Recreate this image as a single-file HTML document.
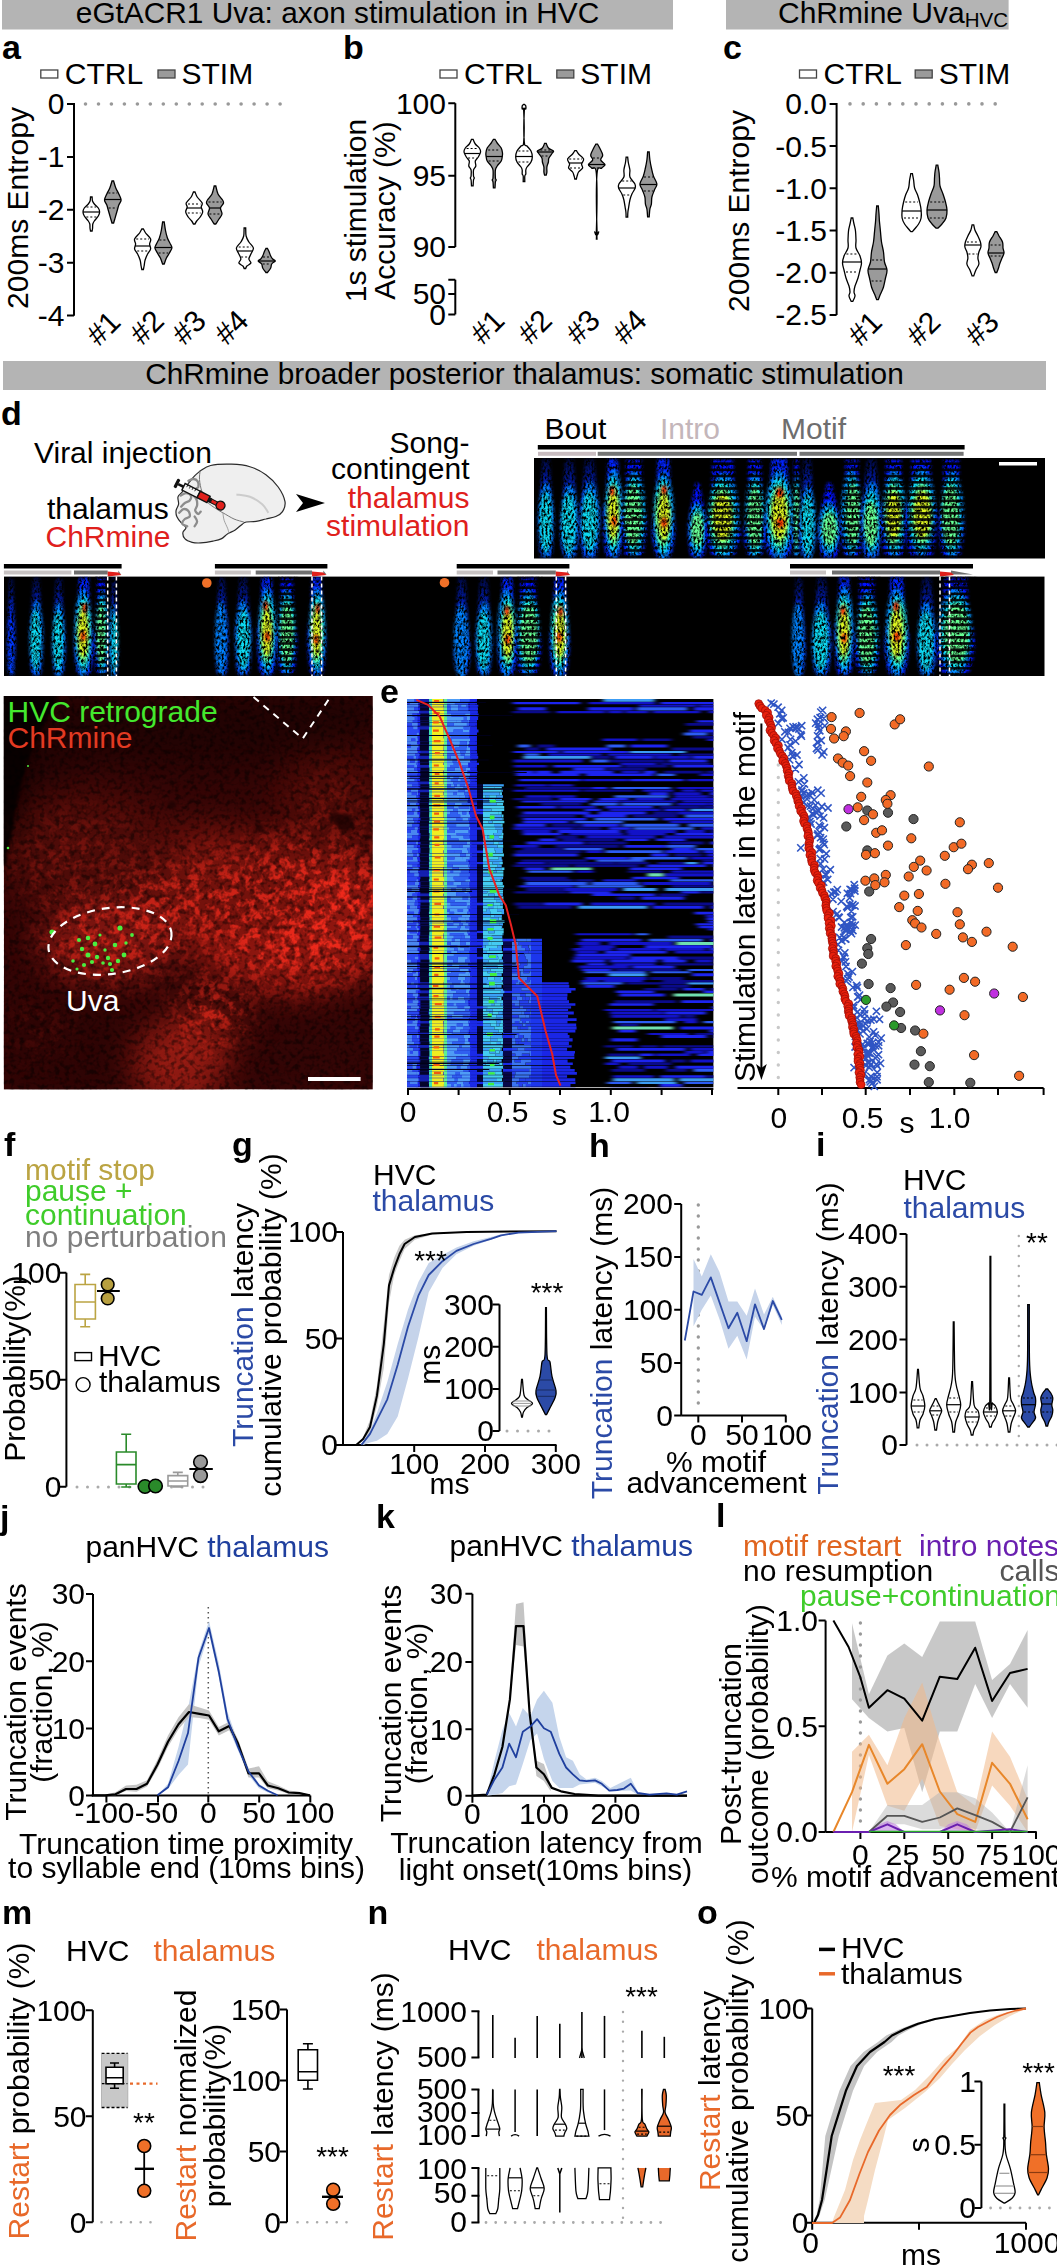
<!DOCTYPE html>
<html><head><meta charset="utf-8"><style>
html,body{margin:0;padding:0;background:#fff;}
svg{display:block;}
svg{font-family:"Liberation Sans", sans-serif;font-size:30px;}
</style></head><body>
<svg width="1057" height="2267" viewBox="0 0 1057 2267">
<defs>
<filter id="spk" x="0" y="0" width="1" height="1" filterUnits="objectBoundingBox" color-interpolation-filters="sRGB">
 <feTurbulence type="fractalNoise" baseFrequency="0.5 0.3" numOctaves="2" seed="4" result="n"/>
 <feColorMatrix in="n" type="matrix" values="0 0 0 0 0 0 0 0 0 0 0 0 0 0 0 3.4 0 0 0 -1.05" result="a"/>
 <feComposite in="SourceGraphic" in2="a" operator="in"/>
</filter>
<filter id="bl1" x="-50%" y="-10%" width="200%" height="120%" color-interpolation-filters="sRGB"><feGaussianBlur stdDeviation="1.6"/></filter>
<pattern id="harm" width="6" height="6.2" patternUnits="userSpaceOnUse"><rect y="3.6" width="6" height="2.6" fill="#000" fill-opacity="0.9"/></pattern>
<linearGradient id="halo" x1="0" y1="0" x2="0" y2="1"><stop offset="0" stop-color="#0022ff" stop-opacity="0.25"/><stop offset="0.45" stop-color="#0030ff" stop-opacity="1"/><stop offset="1" stop-color="#0040ff"/></linearGradient>
<linearGradient id="colg" x1="0" y1="0" x2="0" y2="1">
 <stop offset="0" stop-color="#0a1ad0"/><stop offset="0.3" stop-color="#1450ff"/><stop offset="0.7" stop-color="#20b0ff"/><stop offset="1" stop-color="#30d8f0"/>
</linearGradient>
<clipPath id="sp1"><rect x="534" y="458" width="511" height="100.5"/></clipPath><clipPath id="sp2"><rect x="4" y="576.6" width="1040.5" height="99.4"/></clipPath><clipPath id="mclip"><rect x="3.8" y="696" width="369.0" height="393.5"/></clipPath>
<filter id="mblur" x="-30%" y="-30%" width="160%" height="160%" color-interpolation-filters="sRGB"><feGaussianBlur stdDeviation="16"/></filter>
<filter id="mblur2" x="-30%" y="-30%" width="160%" height="160%" color-interpolation-filters="sRGB"><feGaussianBlur stdDeviation="18"/></filter>
<filter id="cells" x="0" y="0" width="1" height="1" color-interpolation-filters="sRGB">
 <feTurbulence type="fractalNoise" baseFrequency="0.1" numOctaves="3" seed="9" result="n"/>
 <feColorMatrix in="n" type="matrix" values="0 0 0 0 0 0 0 0 0 0 0 0 0 0 0 5.5 0 0 0 -2.45" result="a"/>
 <feComposite in="SourceGraphic" in2="a" operator="in"/>
</filter>
<filter id="dark" x="0" y="0" width="1" height="1" color-interpolation-filters="sRGB">
 <feTurbulence type="fractalNoise" baseFrequency="0.2" numOctaves="2" seed="5" result="n"/>
 <feColorMatrix in="n" type="matrix" values="0 0 0 0 0 0 0 0 0 0 0 0 0 0 0 3.5 0 0 0 -1.6" result="a"/>
 <feComposite in="SourceGraphic" in2="a" operator="in"/>
</filter>
<mask id="cellmask" maskUnits="userSpaceOnUse" x="0" y="680" width="400" height="420">
 <g filter="url(#mblur2)">
  <ellipse cx="300" cy="912" rx="100" ry="68" fill="#fff"/>
  <ellipse cx="220" cy="900" rx="95" ry="40" fill="#bbb"/>
  <ellipse cx="80" cy="865" rx="65" ry="50" fill="#3c3c3c"/>
  <ellipse cx="110" cy="940" rx="66" ry="36" fill="#aaa"/>
  <ellipse cx="212" cy="1012" rx="30" ry="30" fill="#ddd"/>
  <ellipse cx="335" cy="820" rx="40" ry="45" fill="#3a3a3a"/>
  <ellipse cx="180" cy="1065" rx="30" ry="25" fill="#222"/>
  <ellipse cx="40" cy="1030" rx="30" ry="20" fill="#333"/>
 </g>
</mask>
<filter id="hblur" x="-5%" y="-5%" width="110%" height="110%" color-interpolation-filters="sRGB"><feGaussianBlur stdDeviation="2.5 0.3"/></filter><clipPath id="rclip"><rect x="407" y="699" width="306.4" height="388.29999999999995"/></clipPath></defs>
<rect width="1057" height="2267" fill="#fff"/>
<rect x="2" y="0" width="671" height="29.5" fill="#b4b4b4"/>
<text x="337.5" y="23" text-anchor="middle" font-size="29.8">eGtACR1 Uva: axon stimulation in HVC</text>
<rect x="726" y="0" width="282.6" height="29.5" fill="#b4b4b4"/>
<text x="778" y="23">ChRmine Uva<tspan font-size="20.5" dy="4">HVC</tspan></text>
<text x="2" y="58.5" font-weight="bold" font-size="34">a</text>
<text x="343" y="59" font-weight="bold" font-size="34">b</text>
<text x="723" y="58.5" font-weight="bold" font-size="34">c</text>
<rect x="40.8" y="70" width="17" height="8" fill="#fff" stroke="#444" stroke-width="1.3"/>
<text x="64.8" y="83.8">CTRL</text>
<rect x="158" y="70" width="17" height="8" fill="#9a9a9a" stroke="#444" stroke-width="1.3"/>
<text x="181.5" y="83.8">STIM</text>
<rect x="440" y="70" width="17" height="8" fill="#fff" stroke="#444" stroke-width="1.3"/>
<text x="464" y="83.8">CTRL</text>
<rect x="556.8" y="70" width="17" height="8" fill="#9a9a9a" stroke="#444" stroke-width="1.3"/>
<text x="580.3" y="83.8">STIM</text>
<rect x="799.5" y="70" width="17" height="8" fill="#fff" stroke="#444" stroke-width="1.3"/>
<text x="823.5" y="83.8">CTRL</text>
<rect x="915.2" y="70" width="17" height="8" fill="#9a9a9a" stroke="#444" stroke-width="1.3"/>
<text x="938.7" y="83.8">STIM</text>
<line x1="74" y1="103" x2="74" y2="315.7" stroke="#000" stroke-width="2"/>
<path d="M67 104H74M67 156.9H74M67 209.8H74M67 262.7H74M67 315.6H74" stroke="#000" stroke-width="2"/>
<text x="64.5" y="114.4" text-anchor="end">0</text>
<text x="64.5" y="167.3" text-anchor="end">-1</text>
<text x="64.5" y="220.2" text-anchor="end">-2</text>
<text x="64.5" y="273.1" text-anchor="end">-3</text>
<text x="64.5" y="326" text-anchor="end">-4</text>
<path d="M85.5 104h0M98.5 104h0M111.4 104h0M124.4 104h0M137.4 104h0M150.3 104h0M163.3 104h0M176.3 104h0M189.3 104h0M202.2 104h0M215.2 104h0M228.2 104h0M241.1 104h0M254.1 104h0M267.1 104h0M280.1 104h0" stroke="#999" stroke-width="3.6" stroke-linecap="round"/>
<text transform="translate(27.7,208) rotate(-90)" text-anchor="middle">200ms Entropy</text>
<text transform="translate(103.5,328.5) rotate(-45)" text-anchor="middle" y="10">#1</text>
<text transform="translate(147,327.5) rotate(-45)" text-anchor="middle" y="10">#2</text>
<text transform="translate(189,327.5) rotate(-45)" text-anchor="middle" y="10">#3</text>
<text transform="translate(231.5,327.5) rotate(-45)" text-anchor="middle" y="10">#4</text>
<path d="M92.1 197C92.2 197.7 92.1 199.8 92.5 201C92.9 202.2 93.3 202.8 94.3 204C95.3 205.2 97.4 206.7 98.3 208C99.2 209.3 99.6 210.7 99.6 212C99.6 213.3 99.2 214.5 98.3 216C97.4 217.5 95.2 219.7 94.3 221C93.4 222.3 93.1 222.8 92.8 224C92.5 225.2 92.7 226.8 92.6 228C92.5 229.2 92.2 230.5 92.1 231L90.5 231C90.4 230.5 90.1 229.2 90 228C89.9 226.8 90.1 225.2 89.8 224C89.5 222.8 89.2 222.3 88.3 221C87.4 219.7 85.2 217.5 84.3 216C83.4 214.5 83 213.3 83 212C83 210.7 83.4 209.3 84.3 208C85.2 206.7 87.3 205.2 88.3 204C89.3 202.8 89.7 202.2 90.1 201C90.5 199.8 90.4 197.7 90.5 197Z" fill="#fff" stroke="#000" stroke-width="1.3"/>
<line x1="83" y1="212" x2="99.6" y2="212" stroke="#000" stroke-width="1.2"/>
<line x1="86.5" y1="207" x2="96.1" y2="207" stroke="#000" stroke-width="1.1" stroke-dasharray="2 2"/>
<line x1="86.3" y1="217" x2="96.3" y2="217" stroke="#000" stroke-width="1.1" stroke-dasharray="2 2"/>
<path d="M113.6 181C114 182.2 114.9 185.8 115.8 188C116.7 190.2 117.9 192 118.8 194C119.7 196 121.1 198.2 121.1 200C121.1 201.8 119.5 203 118.8 205C118.1 207 117.5 209.7 116.8 212C116.1 214.3 115.3 217.2 114.8 219C114.3 220.8 113.8 222.3 113.6 223L112 223C111.8 222.3 111.3 220.8 110.8 219C110.3 217.2 109.5 214.3 108.8 212C108.1 209.7 107.5 207 106.8 205C106.1 203 104.5 201.8 104.5 200C104.5 198.2 105.9 196 106.8 194C107.7 192 108.9 190.2 109.8 188C110.7 185.8 111.6 182.2 112 181Z" fill="#9a9a9a" stroke="#000" stroke-width="1.3"/>
<line x1="104.7" y1="199.5" x2="120.9" y2="199.5" stroke="#000" stroke-width="1.2"/>
<line x1="108.4" y1="193" x2="117.2" y2="193" stroke="#000" stroke-width="1.1" stroke-dasharray="2 2"/>
<line x1="108.7" y1="208" x2="116.9" y2="208" stroke="#000" stroke-width="1.1" stroke-dasharray="2 2"/>
<path d="M143.4 229C143.8 229.7 144.4 231.3 145.6 233C146.8 234.7 149.9 237.2 150.6 239C151.3 240.8 149.6 242.3 149.6 244C149.6 245.7 150.9 247.3 150.6 249C150.3 250.7 148.5 252.2 147.6 254C146.7 255.8 145.7 258 145.1 260C144.5 262 144.4 264.4 144.1 266C143.8 267.6 143.5 268.9 143.4 269.5L141.8 269.5C141.7 268.9 141.4 267.6 141.1 266C140.8 264.4 140.7 262 140.1 260C139.5 258 138.5 255.8 137.6 254C136.7 252.2 134.9 250.7 134.6 249C134.3 247.3 135.6 245.7 135.6 244C135.6 242.3 133.9 240.8 134.6 239C135.3 237.2 138.4 234.7 139.6 233C140.8 231.3 141.4 229.7 141.8 229Z" fill="#fff" stroke="#000" stroke-width="1.3"/>
<line x1="135.2" y1="246" x2="150" y2="246" stroke="#000" stroke-width="1.2"/>
<line x1="136.2" y1="239" x2="149" y2="239" stroke="#000" stroke-width="1.1" stroke-dasharray="2 2"/>
<line x1="137.2" y1="251" x2="148" y2="251" stroke="#000" stroke-width="1.1" stroke-dasharray="2 2"/>
<path d="M164.2 222C164.4 223.3 164.9 227.3 165.4 230C165.9 232.7 166.6 235.7 167.4 238C168.2 240.3 169.7 242.3 170.4 244C171.2 245.7 172.1 246.5 171.9 248C171.7 249.5 170.3 251.3 169.4 253C168.5 254.7 167.3 256.2 166.4 258C165.5 259.8 164.6 263 164.2 264L162.6 264C162.2 263 161.3 259.8 160.4 258C159.5 256.2 158.3 254.7 157.4 253C156.5 251.3 155.1 249.5 154.9 248C154.7 246.5 155.7 245.7 156.4 244C157.2 242.3 158.6 240.3 159.4 238C160.2 235.7 160.9 232.7 161.4 230C161.9 227.3 162.4 223.3 162.6 222Z" fill="#9a9a9a" stroke="#000" stroke-width="1.3"/>
<line x1="155.1" y1="247.5" x2="171.7" y2="247.5" stroke="#000" stroke-width="1.2"/>
<line x1="159.4" y1="240" x2="167.4" y2="240" stroke="#000" stroke-width="1.1" stroke-dasharray="2 2"/>
<line x1="158.6" y1="253" x2="168.2" y2="253" stroke="#000" stroke-width="1.1" stroke-dasharray="2 2"/>
<path d="M195 192C195.4 192.8 196 195.2 197.2 197C198.4 198.8 201.5 201.3 202.2 203C202.9 204.7 201.1 205.5 201.2 207C201.3 208.5 202.9 210.3 202.7 212C202.5 213.7 201.2 215.5 200.2 217C199.2 218.5 197.6 219.8 196.7 221C195.8 222.2 195.3 223.5 195 224L193.4 224C193.1 223.5 192.6 222.2 191.7 221C190.8 219.8 189.2 218.5 188.2 217C187.2 215.5 185.9 213.7 185.7 212C185.5 210.3 187.1 208.5 187.2 207C187.3 205.5 185.5 204.7 186.2 203C186.9 201.3 190 198.8 191.2 197C192.4 195.2 193 192.8 193.4 192Z" fill="#fff" stroke="#000" stroke-width="1.3"/>
<line x1="186.9" y1="208" x2="201.5" y2="208" stroke="#000" stroke-width="1.2"/>
<line x1="188" y1="204" x2="200.4" y2="204" stroke="#000" stroke-width="1.1" stroke-dasharray="2 2"/>
<line x1="187.8" y1="213" x2="200.6" y2="213" stroke="#000" stroke-width="1.1" stroke-dasharray="2 2"/>
<path d="M215.8 186C216.2 187.3 216.9 191.7 218 194C219.1 196.3 221.6 198.5 222.5 200C223.4 201.5 223.8 201.7 223.5 203C223.2 204.3 220.8 206.2 220.5 208C220.2 209.8 222.2 212.2 222 214C221.8 215.8 220 217.3 219 219C218 220.7 216.3 223.2 215.8 224L214.2 224C213.7 223.2 212 220.7 211 219C210 217.3 208.2 215.8 208 214C207.8 212.2 209.8 209.8 209.5 208C209.2 206.2 206.8 204.3 206.5 203C206.2 201.7 206.6 201.5 207.5 200C208.4 198.5 210.9 196.3 212 194C213.1 191.7 213.8 187.3 214.2 186Z" fill="#9a9a9a" stroke="#000" stroke-width="1.3"/>
<line x1="209.5" y1="208" x2="220.5" y2="208" stroke="#000" stroke-width="1.2"/>
<line x1="208.5" y1="202" x2="221.5" y2="202" stroke="#000" stroke-width="1.1" stroke-dasharray="2 2"/>
<line x1="209.4" y1="214" x2="220.6" y2="214" stroke="#000" stroke-width="1.1" stroke-dasharray="2 2"/>
<path d="M245.7 228C245.8 229.3 245.6 233.7 246.1 236C246.6 238.3 247.7 240 248.9 242C250.1 244 253.1 246 253.4 248C253.7 250 251.7 252.2 250.9 254C250.2 255.8 248.9 257.5 248.9 259C248.9 260.5 251.2 261.8 250.9 263C250.6 264.2 247.8 265.1 246.9 266C246 266.9 245.9 268.1 245.7 268.5L244.1 268.5C243.9 268.1 243.8 266.9 242.9 266C242 265.1 239.2 264.2 238.9 263C238.6 261.8 240.9 260.5 240.9 259C240.9 257.5 239.7 255.8 238.9 254C238.2 252.2 236.1 250 236.4 248C236.7 246 239.7 244 240.9 242C242.1 240 243.2 238.3 243.7 236C244.2 233.7 244 229.3 244.1 228Z" fill="#fff" stroke="#000" stroke-width="1.3"/>
<line x1="237.7" y1="251" x2="252.2" y2="251" stroke="#000" stroke-width="1.2"/>
<line x1="238.7" y1="247" x2="251.1" y2="247" stroke="#000" stroke-width="1.1" stroke-dasharray="2 2"/>
<line x1="241.1" y1="257" x2="248.7" y2="257" stroke="#000" stroke-width="1.1" stroke-dasharray="2 2"/>
<path d="M267.5 248.5C267.8 249.1 268.7 250.8 269.2 252C269.7 253.2 270.1 254.8 270.7 256C271.3 257.2 271.9 258.2 272.7 259C273.4 259.8 275.4 260.2 275.2 261C275 261.8 272.4 262.8 271.7 264C270.9 265.2 271.4 266.6 270.7 268C270 269.4 268 271.8 267.5 272.5L265.9 272.5C265.4 271.8 263.4 269.4 262.7 268C262 266.6 262.4 265.2 261.7 264C260.9 262.8 258.4 261.8 258.2 261C258 260.2 259.9 259.8 260.7 259C261.4 258.2 262.1 257.2 262.7 256C263.3 254.8 263.7 253.2 264.2 252C264.7 250.8 265.6 249.1 265.9 248.5Z" fill="#9a9a9a" stroke="#000" stroke-width="1.3"/>
<line x1="258.2" y1="261" x2="275.2" y2="261" stroke="#000" stroke-width="1.2"/>
<line x1="263" y1="257" x2="270.4" y2="257" stroke="#000" stroke-width="1.1" stroke-dasharray="2 2"/>
<line x1="262.7" y1="264" x2="270.7" y2="264" stroke="#000" stroke-width="1.1" stroke-dasharray="2 2"/>
<line x1="455.3" y1="103.2" x2="455.3" y2="247" stroke="#000" stroke-width="2"/>
<path d="M448.3 103.2H455.3M448.3 175.8H455.3M448.3 247H455.3" stroke="#000" stroke-width="2"/>
<text x="446" y="113.6" text-anchor="end">100</text>
<text x="446" y="186.2" text-anchor="end">95</text>
<text x="446" y="257.4" text-anchor="end">90</text>
<line x1="455.3" y1="279.7" x2="455.3" y2="314.4" stroke="#000" stroke-width="2"/>
<path d="M448.3 279.7H455.3M448.3 294H455.3M448.3 314.4H455.3" stroke="#000" stroke-width="2"/>
<text x="446" y="304.4" text-anchor="end">50</text>
<text x="446" y="324.8" text-anchor="end">0</text>
<text transform="translate(365.5,210.5) rotate(-90)" text-anchor="middle">1s stimulation</text>
<text transform="translate(394.5,210.5) rotate(-90)" text-anchor="middle">Accuracy (%)</text>
<text transform="translate(487.5,327) rotate(-45)" text-anchor="middle" y="10">#1</text>
<text transform="translate(535,327) rotate(-45)" text-anchor="middle" y="10">#2</text>
<text transform="translate(583,327) rotate(-45)" text-anchor="middle" y="10">#3</text>
<text transform="translate(629.7,327) rotate(-45)" text-anchor="middle" y="10">#4</text>
<path d="M473.1 139.3C473.5 140.1 474.3 142.6 475.3 144C476.3 145.4 478.4 146.7 479.3 148C480.2 149.3 480.8 150.5 480.6 152C480.4 153.5 479.2 155.5 478.3 157C477.4 158.5 475.7 159.5 475.3 161C474.9 162.5 476.1 164.5 475.8 166C475.5 167.5 473.9 168.3 473.5 170C473.1 171.7 473.4 174.7 473.5 176C473.6 177.3 474.3 177.3 474.3 178C474.3 178.7 473.7 178.7 473.5 180C473.3 181.3 473.2 184.8 473.1 185.8L471.5 185.8C471.4 184.8 471.3 181.3 471.1 180C470.9 178.7 470.3 178.7 470.3 178C470.3 177.3 471 177.3 471.1 176C471.2 174.7 471.5 171.7 471.1 170C470.7 168.3 469.1 167.5 468.8 166C468.5 164.5 469.7 162.5 469.3 161C468.9 159.5 467.2 158.5 466.3 157C465.4 155.5 464.2 153.5 464 152C463.8 150.5 464.4 149.3 465.3 148C466.2 146.7 468.3 145.4 469.3 144C470.3 142.6 471.1 140.1 471.5 139.3Z" fill="#fff" stroke="#000" stroke-width="1.3"/>
<line x1="464.7" y1="153.5" x2="479.9" y2="153.5" stroke="#000" stroke-width="1.2"/>
<line x1="466.6" y1="148.5" x2="478" y2="148.5" stroke="#000" stroke-width="1.1" stroke-dasharray="2 2"/>
<line x1="468.1" y1="158" x2="476.5" y2="158" stroke="#000" stroke-width="1.1" stroke-dasharray="2 2"/>
<path d="M495 139.3C495.4 139.9 496.2 141.6 497.2 143C498.2 144.4 500.3 146.3 501.2 148C502.1 149.7 502.3 151.5 502.5 153C502.7 154.5 502.4 155.7 502.2 157C502 158.3 502 159.5 501.2 161C500.4 162.5 498.2 164.5 497.2 166C496.2 167.5 495.7 168 495.4 170C495.1 172 495.3 176.3 495.4 178C495.5 179.7 496.2 179.3 496.2 180C496.2 180.7 495.6 180.7 495.4 182C495.2 183.3 495.1 186.8 495 187.8L493.4 187.8C493.3 186.8 493.2 183.3 493 182C492.8 180.7 492.2 180.7 492.2 180C492.2 179.3 492.9 179.7 493 178C493.1 176.3 493.3 172 493 170C492.7 168 492.2 167.5 491.2 166C490.2 164.5 488 162.5 487.2 161C486.4 159.5 486.4 158.3 486.2 157C486 155.7 485.7 154.5 485.9 153C486.1 151.5 486.3 149.7 487.2 148C488.1 146.3 490.2 144.4 491.2 143C492.2 141.6 493 139.9 493.4 139.3Z" fill="#9a9a9a" stroke="#000" stroke-width="1.3"/>
<line x1="486.2" y1="156.5" x2="502.2" y2="156.5" stroke="#000" stroke-width="1.2"/>
<line x1="488.2" y1="150" x2="500.2" y2="150" stroke="#000" stroke-width="1.1" stroke-dasharray="2 2"/>
<line x1="488.6" y1="161" x2="499.8" y2="161" stroke="#000" stroke-width="1.1" stroke-dasharray="2 2"/>
<path d="M524.4 104.4C524.6 104.7 525.6 105.2 525.8 106C526 106.8 526 108.2 525.8 109C525.5 109.8 524.5 105.5 524.3 111C524 116.5 523.8 136.2 524.3 142C524.8 147.8 525.9 144.5 527 146C528.1 147.5 530.1 149.2 531 151C531.9 152.8 532.3 155.2 532.3 157C532.3 158.8 531.9 160.3 531 162C530.1 163.7 527.9 165.7 527 167C526.1 168.3 526 168.8 525.8 170C525.6 171.2 526 173 525.8 174C525.6 175 525 174.8 524.8 176C524.6 177.2 524.8 180.6 524.8 181.5L523.2 181.5C523.2 180.6 523.4 177.2 523.2 176C523 174.8 522.4 175 522.2 174C522 173 522.4 171.2 522.2 170C522 168.8 521.9 168.3 521 167C520.1 165.7 517.9 163.7 517 162C516.1 160.3 515.7 158.8 515.7 157C515.7 155.2 516.1 152.8 517 151C517.9 149.2 519.9 147.5 521 146C522.1 144.5 523.2 147.8 523.7 142C524.2 136.2 524 116.5 523.7 111C523.5 105.5 522.5 109.8 522.2 109C522 108.2 522 106.8 522.2 106C522.4 105.2 523.4 104.7 523.6 104.4Z" fill="#fff" stroke="#000" stroke-width="1.3"/>
<line x1="515.8" y1="156.5" x2="532.2" y2="156.5" stroke="#000" stroke-width="1.2"/>
<line x1="518.4" y1="151" x2="529.6" y2="151" stroke="#000" stroke-width="1.1" stroke-dasharray="2 2"/>
<line x1="518.4" y1="162" x2="529.6" y2="162" stroke="#000" stroke-width="1.1" stroke-dasharray="2 2"/>
<path d="M546.2 143.3C546.6 144.1 547.2 146.7 548.4 148C549.6 149.3 552.7 150.2 553.4 151C554.1 151.8 553.1 151.8 552.4 153C551.6 154.2 549.6 156.5 548.9 158C548.2 159.5 548.7 160.5 548.4 162C548.1 163.5 547.1 165.3 546.9 167C546.6 168.7 547 170.7 546.9 172C546.8 173.3 546.3 174.6 546.2 175.1L544.6 175.1C544.5 174.6 544 173.3 543.9 172C543.8 170.7 544.1 168.7 543.9 167C543.6 165.3 542.7 163.5 542.4 162C542.1 160.5 542.6 159.5 541.9 158C541.2 156.5 539.1 154.2 538.4 153C537.6 151.8 536.7 151.8 537.4 151C538.1 150.2 541.2 149.3 542.4 148C543.6 146.7 544.2 144.1 544.6 143.3Z" fill="#9a9a9a" stroke="#000" stroke-width="1.3"/>
<line x1="537.9" y1="152" x2="552.9" y2="152" stroke="#000" stroke-width="1.2"/>
<line x1="540.3" y1="150" x2="550.5" y2="150" stroke="#000" stroke-width="1.1" stroke-dasharray="2 2"/>
<line x1="541.5" y1="156" x2="549.3" y2="156" stroke="#000" stroke-width="1.1" stroke-dasharray="2 2"/>
<path d="M576.4 150.7C576.8 151.2 577.4 152.6 578.6 154C579.8 155.4 583.1 157.3 583.6 159C584.1 160.7 581.8 162.5 581.6 164C581.4 165.5 583.1 166.7 582.6 168C582.1 169.3 579.5 170.7 578.6 172C577.7 173.3 577.5 174.8 577.1 176C576.7 177.2 576.5 178.5 576.4 179L574.8 179C574.7 178.5 574.5 177.2 574.1 176C573.7 174.8 573.5 173.3 572.6 172C571.7 170.7 569.1 169.3 568.6 168C568.1 166.7 569.8 165.5 569.6 164C569.4 162.5 567.1 160.7 567.6 159C568.1 157.3 571.4 155.4 572.6 154C573.8 152.6 574.4 151.2 574.8 150.7Z" fill="#fff" stroke="#000" stroke-width="1.3"/>
<line x1="569.2" y1="163" x2="582" y2="163" stroke="#000" stroke-width="1.2"/>
<line x1="569.2" y1="159" x2="582" y2="159" stroke="#000" stroke-width="1.1" stroke-dasharray="2 2"/>
<line x1="570" y1="168" x2="581.2" y2="168" stroke="#000" stroke-width="1.1" stroke-dasharray="2 2"/>
<path d="M597.5 144.1C597.9 144.8 598.8 146.2 599.7 148C600.6 149.8 602.5 153 602.7 155C602.9 157 600.3 158.4 600.7 160C601.1 161.6 604.8 163.2 605 164.5C605.2 165.8 603 166.4 601.7 168C600.4 169.6 597.8 163.7 597 174C596.2 184.3 596.7 220.3 597 230C597.3 239.7 598.7 231.3 598.7 232C598.7 232.7 597.3 232.8 597 234C596.7 235.2 597 238.2 597 239L596.4 239C596.4 238.2 596.7 235.2 596.4 234C596.1 232.8 594.7 232.7 594.7 232C594.7 231.3 596.1 239.7 596.4 230C596.7 220.3 597.2 184.3 596.4 174C595.6 163.7 593 169.6 591.7 168C590.4 166.4 588.2 165.8 588.4 164.5C588.6 163.2 592.3 161.6 592.7 160C593.1 158.4 590.5 157 590.7 155C590.9 153 592.8 149.8 593.7 148C594.6 146.2 595.5 144.8 595.9 144.1Z" fill="#9a9a9a" stroke="#000" stroke-width="1.3"/>
<line x1="588.4" y1="164.5" x2="605" y2="164.5" stroke="#000" stroke-width="1.2"/>
<line x1="592.9" y1="158" x2="600.5" y2="158" stroke="#000" stroke-width="1.1" stroke-dasharray="2 2"/>
<line x1="592.7" y1="168" x2="600.7" y2="168" stroke="#000" stroke-width="1.1" stroke-dasharray="2 2"/>
<path d="M627.7 157.2C627.8 158.2 628 160.9 628.4 163C628.8 165.1 629.6 167.7 629.9 170C630.1 172.3 629.1 174.7 629.9 177C630.7 179.3 634 182.2 634.9 184C635.8 185.8 635.7 186.3 635.2 188C634.7 189.7 632.8 192 631.9 194C631 196 630.4 197.8 629.9 200C629.4 202.2 629 205 628.7 207C628.4 209 628.1 210.3 627.9 212C627.7 213.7 627.7 216.3 627.7 217.2L626.1 217.2C626.1 216.3 626.1 213.7 625.9 212C625.7 210.3 625.4 209 625.1 207C624.8 205 624.4 202.2 623.9 200C623.4 197.8 622.8 196 621.9 194C621 192 619.1 189.7 618.6 188C618.1 186.3 618 185.8 618.9 184C619.8 182.2 623.1 179.3 623.9 177C624.7 174.7 623.6 172.3 623.9 170C624.1 167.7 625 165.1 625.4 163C625.8 160.9 626 158.2 626.1 157.2Z" fill="#fff" stroke="#000" stroke-width="1.3"/>
<line x1="618.6" y1="188" x2="635.2" y2="188" stroke="#000" stroke-width="1.2"/>
<line x1="622.2" y1="181" x2="631.6" y2="181" stroke="#000" stroke-width="1.1" stroke-dasharray="2 2"/>
<line x1="623.2" y1="195" x2="630.6" y2="195" stroke="#000" stroke-width="1.1" stroke-dasharray="2 2"/>
<path d="M649.2 152C649.3 153.3 649.5 157.3 649.9 160C650.3 162.7 650.8 165.3 651.4 168C652 170.7 652.5 173.3 653.4 176C654.3 178.7 656.7 181.7 656.9 184C657.1 186.3 655.2 187.8 654.4 190C653.6 192.2 652.4 194.7 651.9 197C651.4 199.3 651.7 202 651.4 204C651.1 206 650.3 206.9 649.9 209C649.5 211.1 649.3 215.5 649.2 216.8L647.6 216.8C647.5 215.5 647.3 211.1 646.9 209C646.5 206.9 645.7 206 645.4 204C645.1 202 645.4 199.3 644.9 197C644.4 194.7 643.2 192.2 642.4 190C641.6 187.8 639.7 186.3 639.9 184C640.1 181.7 642.5 178.7 643.4 176C644.3 173.3 644.8 170.7 645.4 168C646 165.3 646.5 162.7 646.9 160C647.3 157.3 647.5 153.3 647.6 152Z" fill="#9a9a9a" stroke="#000" stroke-width="1.3"/>
<line x1="640.1" y1="184.5" x2="656.7" y2="184.5" stroke="#000" stroke-width="1.2"/>
<line x1="644" y1="177" x2="652.8" y2="177" stroke="#000" stroke-width="1.1" stroke-dasharray="2 2"/>
<line x1="643.9" y1="191" x2="652.9" y2="191" stroke="#000" stroke-width="1.1" stroke-dasharray="2 2"/>
<line x1="836.6" y1="103" x2="836.6" y2="315" stroke="#000" stroke-width="2"/>
<path d="M829.6 103.9H836.6M829.6 146.1H836.6M829.6 188.3H836.6M829.6 230.6H836.6M829.6 272.8H836.6M829.6 315H836.6" stroke="#000" stroke-width="2"/>
<text x="827" y="114.3" text-anchor="end">0.0</text>
<text x="827" y="156.5" text-anchor="end">-0.5</text>
<text x="827" y="198.7" text-anchor="end">-1.0</text>
<text x="827" y="241" text-anchor="end">-1.5</text>
<text x="827" y="283.2" text-anchor="end">-2.0</text>
<text x="827" y="325.4" text-anchor="end">-2.5</text>
<path d="M850 103.9h0M863.2 103.9h0M876.4 103.9h0M889.6 103.9h0M902.8 103.9h0M916 103.9h0M929.2 103.9h0M942.4 103.9h0M955.6 103.9h0M968.8 103.9h0M982 103.9h0M995.2 103.9h0" stroke="#999" stroke-width="3.6" stroke-linecap="round"/>
<text transform="translate(748.6,211) rotate(-90)" text-anchor="middle">200ms Entropy</text>
<text transform="translate(865,328.7) rotate(-45)" text-anchor="middle" y="10">#1</text>
<text transform="translate(923.5,328.7) rotate(-45)" text-anchor="middle" y="10">#2</text>
<text transform="translate(982,328.7) rotate(-45)" text-anchor="middle" y="10">#3</text>
<path d="M852.8 218C853 219 853.5 221.8 854 224C854.5 226.2 855.2 228.3 855.5 231C855.8 233.7 855.9 237.2 856 240C856.1 242.8 855.3 245.3 856 248C856.7 250.7 859.1 253.5 860 256C860.9 258.5 861.5 260.7 861.5 263C861.5 265.3 860.6 267.5 860 270C859.4 272.5 858.8 275.3 858 278C857.2 280.7 855.7 283.7 855 286C854.3 288.3 854 290.3 854 292C854 293.7 855.2 294.4 855 296C854.8 297.6 853.2 300.5 852.8 301.4L851.2 301.4C850.8 300.5 849.2 297.6 849 296C848.8 294.4 850 293.7 850 292C850 290.3 849.7 288.3 849 286C848.3 283.7 846.8 280.7 846 278C845.2 275.3 844.6 272.5 844 270C843.4 267.5 842.5 265.3 842.5 263C842.5 260.7 843.1 258.5 844 256C844.9 253.5 847.3 250.7 848 248C848.7 245.3 847.9 242.8 848 240C848.1 237.2 848.2 233.7 848.5 231C848.8 228.3 849.5 226.2 850 224C850.5 221.8 851 219 851.2 218Z" fill="#fff" stroke="#000" stroke-width="1.3"/>
<line x1="842.7" y1="262" x2="861.3" y2="262" stroke="#000" stroke-width="1.2"/>
<line x1="846.4" y1="254" x2="857.6" y2="254" stroke="#000" stroke-width="1.1" stroke-dasharray="2 2"/>
<line x1="846" y1="272" x2="858" y2="272" stroke="#000" stroke-width="1.1" stroke-dasharray="2 2"/>
<path d="M878.3 206C878.4 207.3 878.8 211.3 879 214C879.2 216.7 879.2 219 879.5 222C879.8 225 880.2 228.7 880.5 232C880.8 235.3 881 238.7 881.5 242C882 245.3 883 248.7 883.5 252C884 255.3 883.9 259 884.5 262C885.1 265 886.8 267.3 887 270C887.2 272.7 886.1 275.2 885.5 278C884.9 280.8 884.3 284.3 883.5 287C882.7 289.7 881.4 291.9 880.5 294C879.6 296.1 878.7 298.8 878.3 299.7L876.7 299.7C876.3 298.8 875.4 296.1 874.5 294C873.6 291.9 872.3 289.7 871.5 287C870.7 284.3 870.1 280.8 869.5 278C868.9 275.2 867.8 272.7 868 270C868.2 267.3 869.9 265 870.5 262C871.1 259 871 255.3 871.5 252C872 248.7 873 245.3 873.5 242C874 238.7 874.2 235.3 874.5 232C874.8 228.7 875.2 225 875.5 222C875.8 219 875.8 216.7 876 214C876.2 211.3 876.6 207.3 876.7 206Z" fill="#9a9a9a" stroke="#000" stroke-width="1.3"/>
<line x1="868.3" y1="269" x2="886.7" y2="269" stroke="#000" stroke-width="1.2"/>
<line x1="872.1" y1="260" x2="882.9" y2="260" stroke="#000" stroke-width="1.1" stroke-dasharray="2 2"/>
<line x1="871.6" y1="281" x2="883.4" y2="281" stroke="#000" stroke-width="1.1" stroke-dasharray="2 2"/>
<path d="M912.4 173.7C912.6 174.8 913.2 177.6 913.6 180C914 182.4 913.9 185.5 914.6 188C915.3 190.5 916.8 192.7 917.6 195C918.4 197.3 919 199.5 919.6 202C920.2 204.5 920.9 207.3 921.1 210C921.4 212.7 921.5 215.7 921.1 218C920.7 220.3 919.7 222.2 918.6 224C917.5 225.8 915.6 227.7 914.6 229C913.6 230.3 912.8 231.2 912.4 231.6L910.8 231.6C910.4 231.2 909.6 230.3 908.6 229C907.6 227.7 905.7 225.8 904.6 224C903.5 222.2 902.5 220.3 902.1 218C901.7 215.7 901.9 212.7 902.1 210C902.4 207.3 903 204.5 903.6 202C904.2 199.5 904.8 197.3 905.6 195C906.4 192.7 907.9 190.5 908.6 188C909.3 185.5 909.2 182.4 909.6 180C910 177.6 910.6 174.8 910.8 173.7Z" fill="#fff" stroke="#000" stroke-width="1.3"/>
<line x1="902.1" y1="211" x2="921.1" y2="211" stroke="#000" stroke-width="1.2"/>
<line x1="905.2" y1="202" x2="918" y2="202" stroke="#000" stroke-width="1.1" stroke-dasharray="2 2"/>
<line x1="904" y1="218" x2="919.2" y2="218" stroke="#000" stroke-width="1.1" stroke-dasharray="2 2"/>
<path d="M937.8 165.2C938 166.3 938.7 169.9 939 172C939.3 174.1 939.3 175.7 939.5 178C939.7 180.3 939.4 183.3 940 186C940.6 188.7 942.1 191.3 943 194C943.9 196.7 944.8 199.3 945.5 202C946.2 204.7 946.9 207.3 947 210C947.1 212.7 946.8 215.7 946 218C945.2 220.3 943.4 222.3 942 224C940.6 225.7 938.5 227.5 937.8 228.2L936.2 228.2C935.5 227.5 933.4 225.7 932 224C930.6 222.3 928.8 220.3 928 218C927.2 215.7 926.9 212.7 927 210C927.1 207.3 927.8 204.7 928.5 202C929.2 199.3 930.1 196.7 931 194C931.9 191.3 933.4 188.7 934 186C934.6 183.3 934.3 180.3 934.5 178C934.7 175.7 934.7 174.1 935 172C935.3 169.9 936 166.3 936.2 165.2Z" fill="#9a9a9a" stroke="#000" stroke-width="1.3"/>
<line x1="927" y1="210" x2="947" y2="210" stroke="#000" stroke-width="1.2"/>
<line x1="930.2" y1="202" x2="943.8" y2="202" stroke="#000" stroke-width="1.1" stroke-dasharray="2 2"/>
<line x1="929.8" y1="218" x2="944.2" y2="218" stroke="#000" stroke-width="1.1" stroke-dasharray="2 2"/>
<path d="M973.7 224.8C973.9 225.7 974.2 228.1 974.9 230C975.6 231.9 977 234 977.9 236C978.8 238 979.9 240.2 980.4 242C980.9 243.8 981.1 245.3 980.9 247C980.6 248.7 979.4 250.2 978.9 252C978.4 253.8 977.9 256 977.9 258C977.9 260 979.2 262 978.9 264C978.6 266 976.8 268 975.9 270C975 272 974.1 274.9 973.7 275.9L972.1 275.9C971.7 274.9 970.8 272 969.9 270C969 268 967.2 266 966.9 264C966.6 262 967.9 260 967.9 258C967.9 256 967.4 253.8 966.9 252C966.4 250.2 965.1 248.7 964.9 247C964.6 245.3 964.9 243.8 965.4 242C965.9 240.2 967 238 967.9 236C968.8 234 970.2 231.9 970.9 230C971.6 228.1 971.9 225.7 972.1 224.8Z" fill="#fff" stroke="#000" stroke-width="1.3"/>
<line x1="965.1" y1="245" x2="980.7" y2="245" stroke="#000" stroke-width="1.2"/>
<line x1="966.9" y1="242" x2="978.9" y2="242" stroke="#000" stroke-width="1.1" stroke-dasharray="2 2"/>
<line x1="968.4" y1="254" x2="977.4" y2="254" stroke="#000" stroke-width="1.1" stroke-dasharray="2 2"/>
<path d="M996.8 231.6C997.2 232.3 998 234.3 999 236C1000 237.7 1001.8 240 1002.5 242C1003.2 244 1002.8 246.2 1003 248C1003.2 249.8 1004.2 251.3 1004 253C1003.8 254.7 1002.7 256.3 1002 258C1001.3 259.7 1000.6 261.3 1000 263C999.4 264.7 999 266.4 998.5 268C998 269.6 997.1 271.8 996.8 272.5L995.2 272.5C994.9 271.8 994 269.6 993.5 268C993 266.4 992.6 264.7 992 263C991.4 261.3 990.7 259.7 990 258C989.3 256.3 988.2 254.7 988 253C987.8 251.3 988.8 249.8 989 248C989.2 246.2 988.8 244 989.5 242C990.2 240 992 237.7 993 236C994 234.3 994.8 232.3 995.2 231.6Z" fill="#9a9a9a" stroke="#000" stroke-width="1.3"/>
<line x1="988" y1="253" x2="1004" y2="253" stroke="#000" stroke-width="1.2"/>
<line x1="990.6" y1="245" x2="1001.4" y2="245" stroke="#000" stroke-width="1.1" stroke-dasharray="2 2"/>
<line x1="990.6" y1="256" x2="1001.4" y2="256" stroke="#000" stroke-width="1.1" stroke-dasharray="2 2"/>
<rect x="3" y="361" width="1043" height="29" fill="#b4b4b4"/>
<text x="524.5" y="384" text-anchor="middle" font-size="29.8">ChRmine broader posterior thalamus: somatic stimulation</text>
<text x="1" y="425" font-weight="bold" font-size="34">d</text>
<text x="34" y="462.9">Viral injection</text>
<text x="47" y="519">thalamus</text>
<text x="45.5" y="546.6" fill="#e0201c">ChRmine</text>
<text x="469.5" y="452.8" text-anchor="end">Song-</text>
<text x="469.5" y="479.4" text-anchor="end">contingent</text>
<text x="469.5" y="508" text-anchor="end" fill="#e0201c">thalamus</text>
<text x="469.5" y="535.6" text-anchor="end" fill="#e0201c">stimulation</text>
<path d="M200.1 471C201.9 470.1 205.4 466.6 210.6 465.5C215.8 464.3 224.9 464 231.5 464.2C238.1 464.4 244.2 464.9 249.9 466.7C255.7 468.4 261.2 471.3 265.9 474.7C270.6 478.1 275.1 482.5 278.2 487C281.4 491.5 284.3 497.6 285 501.7C285.7 505.8 284.1 509.1 282.5 511.6C281 514 278.5 515.3 275.8 516.5C273 517.7 269.2 518.1 265.9 519C262.6 519.8 259.4 520.9 256.1 521.4C252.8 521.9 248.5 521.6 246.3 522C244 522.4 244.4 522.5 242.6 523.9C240.7 525.2 237.6 528.4 235.2 530C232.7 531.7 230.1 532.3 227.8 533.7C225.5 535.1 224.1 537.4 221.7 538.6C219.2 539.9 216.5 540.4 213 541.1C209.6 541.8 204.2 542.7 200.7 542.9C197.3 543.1 194.8 543 192.1 542.3C189.5 541.6 186.3 540.3 184.8 538.6C183.2 537 182.7 534.3 182.9 532.5C183.1 530.6 186.3 529.2 186 527.6C185.7 525.9 182.6 524.5 181.1 522.6C179.5 520.8 177.6 518.5 176.8 516.5C175.9 514.4 175.8 512.4 176.1 510.3C176.5 508.3 178.3 506.4 178.6 504.2C178.9 501.9 177.4 498.9 178 496.8C178.6 494.8 180.6 494.2 182.3 491.9C184 489.6 186.4 486 188.4 483.3C190.5 480.6 192.6 478 194.6 475.9C196.5 473.9 199.2 471.8 200.1 471Z" fill="#efefef" stroke="#2a2a2a" stroke-width="1.2"/>
<path d="M200.1 471C200 472.4 199.2 476.1 199.5 479.6C199.8 483.1 200.7 488.2 202 491.9C203.2 495.6 204.4 498.9 206.9 501.7C209.4 504.6 214.1 507.3 216.7 509.1C219.4 511 220 511.2 222.9 512.8C225.8 514.4 230.5 517.4 234 519C237.4 520.5 242.2 521.5 243.8 522" fill="none" stroke="#777" stroke-width="1"/>
<path d="M222.9 512.8C223.1 514 223.3 517.5 224.1 520.2C224.9 522.8 227 526.5 227.8 528.8C228.6 531 228.8 532.9 229 533.7" fill="none" stroke="#999" stroke-width="0.9"/>
<path d="M236.4 494.4C238.7 494.8 245.6 495.2 249.9 496.8C254.2 498.5 259.2 501.5 262.2 504.2C265.3 506.9 267.4 511.4 268.4 512.8" fill="none" stroke="#ccc" stroke-width="2"/>
<path d="M188.4 480.8C189.3 480.5 191.8 478.9 193.4 479C194.9 479.1 196.9 480.1 197.7 481.4C198.5 482.8 198.8 485.6 198.3 487C197.8 488.3 195.2 489 194.6 489.4" fill="none" stroke="#8c8c8c" stroke-width="2.3" stroke-linecap="round"/>
<path d="M180.5 495.6C181.4 495.2 184.2 493.1 186 493.1C187.7 493.1 190.3 494.4 190.9 495.6C191.5 496.8 190.7 499.3 189.7 500.5C188.7 501.7 186.2 501.9 184.8 503C183.3 504 181.7 506 181.1 506.7" fill="none" stroke="#8c8c8c" stroke-width="2.3" stroke-linecap="round"/>
<path d="M179.2 512.8C179.9 512.2 182 509.4 183.5 509.1C185.1 508.8 187.4 509.7 188.4 511C189.5 512.2 190.3 515.2 189.7 516.5C189.1 517.8 186 517.7 184.8 519C183.5 520.2 181.9 522.6 182.3 523.9C182.7 525.1 186.4 525.9 187.2 526.3" fill="none" stroke="#8c8c8c" stroke-width="2.3" stroke-linecap="round"/>
<path d="M193.4 495.6C193.9 496.2 195.8 497.6 196.4 499.3C197.1 500.9 197.3 503.6 197.1 505.4C196.9 507.3 195 508.9 195.2 510.3C195.4 511.8 197.4 513.8 198.3 514C199.2 514.2 200.3 512 200.7 511.6" fill="none" stroke="#8c8c8c" stroke-width="2.3" stroke-linecap="round"/>
<path d="M194.6 516.5C195 517.3 197.1 519.8 197.1 521.4C197.1 523.1 195 525.5 194.6 526.3" fill="none" stroke="#8c8c8c" stroke-width="2.3" stroke-linecap="round"/>
<g transform="translate(175.5,482.7) rotate(26.9)"><rect x="0" y="-4.8" width="3.2" height="9.6" rx="1" fill="#111"/><rect x="3" y="-1.3" width="6" height="2.6" fill="#111"/><rect x="9" y="-3.6" width="17" height="7.2" fill="#f4f4f4" stroke="#111" stroke-width="1.4"/><path d="M12 -3.6v2.5M15 -3.6v2.5M18 -3.6v2.5M21 -3.6v2.5" stroke="#111" stroke-width="0.8"/><rect x="26" y="-3.6" width="11" height="7.2" fill="#e0201c" stroke="#111" stroke-width="1.4"/><rect x="37" y="-2.6" width="3" height="5.2" fill="#111"/><rect x="40" y="-1.9" width="9" height="3.8" fill="#e0201c" stroke="#111" stroke-width="1"/><circle cx="50.5" cy="0" r="4.4" fill="#e0201c" stroke="#111" stroke-width="1.4"/></g>
<path d="M296 494 L325 503 L296 512 L303 503 Z" fill="#000"/>
<text x="544.5" y="439">Bout</text>
<text x="660" y="439" fill="#c4b6ba">Intro</text>
<text x="781" y="439" fill="#6e6e6e">Motif</text>
<rect x="537.8" y="445" width="426.8" height="4.5" fill="#000"/>
<rect x="538" y="451.8" width="58" height="4" fill="#c8bcc0"/>
<rect x="597.7" y="451.8" width="199.3" height="4" fill="#757575"/>
<rect x="799.5" y="451.8" width="164.1" height="4" fill="#757575"/>
<rect x="534" y="458" width="511" height="100.5" fill="#000"/>
<g clip-path="url(#sp1)"><g filter="url(#spk)"><g filter="url(#bl1)"><path d="M549.7 459C550.1 464.4 551 481.6 551.8 491.4C552.6 501.2 554.1 508.2 554.3 517.9C554.4 527.6 553.3 543 552.6 549.6C551.9 556.2 550.6 556.2 550.1 557.5L541.9 557.5C541.4 556.2 540.1 556.2 539.4 549.6C538.7 543 537.6 527.6 537.7 517.9C537.9 508.2 539.4 501.2 540.2 491.4C541 481.6 541.9 464.4 542.3 459Z" fill="url(#halo)"/><ellipse cx="546.1" cy="520" rx="7.3" ry="37.7" fill="#0082ff"/><ellipse cx="545.7" cy="522.1" rx="6.3" ry="30.2" fill="#0ddaf0"/></g><g filter="url(#bl1)"><path d="M573.7 459C574.1 465.1 575.3 484.3 576.1 495.3C577 506.4 578.9 516 579 525.1C579.2 534.1 577.9 544.2 577.1 549.6C576.3 555 574.7 556.2 574.2 557.5L564.6 557.5C564.1 556.2 562.5 555 561.7 549.6C560.9 544.2 559.6 534.1 559.8 525.1C559.9 516 561.8 506.4 562.7 495.3C563.5 484.3 564.7 465.1 565.1 459Z" fill="url(#halo)"/><ellipse cx="569.7" cy="521.7" rx="8.5" ry="37.7" fill="#0082ff"/><ellipse cx="568.5" cy="523.4" rx="7.3" ry="30.2" fill="#0ddaf0"/></g><g filter="url(#bl1)"><path d="M594.3 459C594.7 464 596 479.9 596.9 488.9C597.9 498 599.8 503.3 600 513.4C600.2 523.5 598.8 542.3 597.9 549.6C597.1 557 595.3 556.2 594.8 557.5L584.5 557.5C584 556.2 582.2 557 581.4 549.6C580.5 542.3 579.1 523.5 579.3 513.4C579.5 503.3 581.4 498 582.4 488.9C583.3 479.9 584.6 464 585 459Z" fill="url(#halo)"/><ellipse cx="590.3" cy="519" rx="9.1" ry="37.7" fill="#0082ff"/><ellipse cx="589.2" cy="521.3" rx="7.9" ry="30.2" fill="#0ddaf0"/></g><g filter="url(#bl1)"><path d="M618.2 459C618.6 464.4 619.4 481.5 620.3 491.3C621.2 501.1 623.2 508.1 623.4 517.8C623.6 527.5 622.2 543 621.3 549.6C620.5 556.2 618.7 556.2 618.2 557.5L607.9 557.5C607.4 556.2 605.6 556.2 604.8 549.6C603.9 543 602.5 527.5 602.7 517.8C602.9 508.1 604.9 501.1 605.8 491.3C606.7 481.5 607.5 464.4 607.9 459Z" fill="#0022ff"/><ellipse cx="614" cy="513.4" rx="9.1" ry="44.7" fill="#0082ff"/><ellipse cx="613" cy="514" rx="7.9" ry="37.7" fill="#0ddaf0"/><ellipse cx="613.7" cy="514.6" rx="6.6" ry="30.7" fill="#66ff93"/><ellipse cx="613" cy="515.2" rx="5.4" ry="23.6" fill="#dcf320"/><ellipse cx="612" cy="491" rx="2.7" ry="5" fill="#f02e00"/><ellipse cx="614.2" cy="521.1" rx="2.7" ry="5" fill="#f02e00"/></g><g filter="url(#bl1)"><path d="M641.8 460C642 465.9 642.2 484.5 643.1 495.1C644 505.7 646.8 514.7 647 523.8C647.2 532.9 645.5 544.1 644.4 549.7C643.3 555.3 641.1 556.2 640.5 557.5L627.4 557.5C626.8 556.2 624.6 555.3 623.5 549.7C622.4 544.1 620.7 532.9 620.9 523.8C621.1 514.7 623.9 505.7 624.8 495.1C625.7 484.5 625.9 465.9 626.1 460Z" fill="#0011ff"/><ellipse cx="634.4" cy="514.9" rx="11.5" ry="44.7" fill="#0082ff"/><ellipse cx="634.3" cy="515.3" rx="9.9" ry="37.7" fill="#0ddaf0"/><ellipse cx="633.1" cy="515.6" rx="8.4" ry="30.7" fill="#66ff93"/></g><rect x="622.3" y="458" width="26.1" height="100.5" fill="url(#harm)"/><g filter="url(#bl1)"><path d="M669.4 459C669.8 465.3 670.8 485.5 671.7 497C672.7 508.5 675.1 519.3 675.3 528.1C675.5 536.9 673.9 544.7 672.9 549.6C671.9 554.5 670 556.2 669.4 557.5L657.6 557.5C657 556.2 655.1 554.5 654.1 549.6C653.1 544.7 651.5 536.9 651.7 528.1C651.9 519.3 654.3 508.5 655.3 497C656.2 485.5 657.2 465.3 657.6 459Z" fill="#0022ff"/><ellipse cx="663.7" cy="516.2" rx="10.3" ry="44.7" fill="#0082ff"/><ellipse cx="663.1" cy="516.3" rx="8.9" ry="37.7" fill="#0ddaf0"/><ellipse cx="662.6" cy="516.5" rx="7.5" ry="30.7" fill="#66ff93"/><ellipse cx="664.2" cy="516.6" rx="6.1" ry="23.6" fill="#dcf320"/><ellipse cx="664.2" cy="490" rx="3.1" ry="5" fill="#f02e00"/><ellipse cx="664.1" cy="522.6" rx="3.1" ry="5" fill="#f02e00"/></g><g filter="url(#bl1)"><path d="M699.3 483.1C700.1 487.2 702.8 500.2 704.1 507.7C705.4 515.1 706.9 520.4 707 527.8C707.2 535.1 705.9 546.6 705.1 551.5C704.3 556.5 702.7 556.5 702.2 557.5L692.5 557.5C692 556.5 690.4 556.5 689.6 551.5C688.8 546.6 687.5 535.1 687.7 527.8C687.8 520.4 689.3 515.1 690.6 507.7C691.9 500.2 694.6 487.2 695.4 483.1Z" fill="#0011ff"/><ellipse cx="697.1" cy="529.7" rx="8.5" ry="27.6" fill="#0082ff"/><ellipse cx="698" cy="529.4" rx="7.4" ry="22.1" fill="#0ddaf0"/><ellipse cx="697.2" cy="529.2" rx="6.2" ry="16.6" fill="#66ff93"/></g><g filter="url(#bl1)"><path d="M733.8 460C734.1 466.6 734.3 487.5 735.5 499.5C736.7 511.5 740.6 523.5 740.9 531.9C741.2 540.2 738.8 545.4 737.3 549.7C735.8 554 732.9 556.2 732 557.5L714 557.5C713.1 556.2 710.2 554 708.7 549.7C707.2 545.4 704.8 540.2 705.1 531.9C705.4 523.5 709.3 511.5 710.5 499.5C711.7 487.5 711.9 466.6 712.2 460Z" fill="#0011ff"/><ellipse cx="723.8" cy="517.1" rx="15.8" ry="44.7" fill="#0082ff"/><ellipse cx="722.2" cy="517.1" rx="13.6" ry="37.7" fill="#0ddaf0"/><ellipse cx="722.3" cy="517.1" rx="11.5" ry="30.7" fill="#66ff93"/><ellipse cx="722.4" cy="517.1" rx="9.3" ry="23.6" fill="#dcf320"/></g><rect x="707" y="458" width="35.8" height="100.5" fill="url(#harm)"/><g filter="url(#bl1)"><path d="M761.7 460C761.9 466.6 762.1 487.8 762.8 499.8C763.6 511.9 766 524.1 766.2 532.5C766.4 540.8 764.9 545.5 764 549.7C763 553.9 761.2 556.2 760.6 557.5L749.4 557.5C748.8 556.2 747 553.9 746 549.7C745.1 545.5 743.6 540.8 743.8 532.5C744 524.1 746.4 511.9 747.2 499.8C747.9 487.8 748.1 466.6 748.3 460Z" fill="#0011ff"/><ellipse cx="754.9" cy="517.3" rx="9.9" ry="44.7" fill="#0082ff"/><ellipse cx="755.3" cy="517.3" rx="8.5" ry="37.7" fill="#0ddaf0"/><ellipse cx="754.6" cy="517.2" rx="7.2" ry="30.7" fill="#66ff93"/></g><rect x="745" y="458" width="22.4" height="100.5" fill="url(#harm)"/><g filter="url(#bl1)"><path d="M787 459C787.5 464.9 788.7 483.6 790 494.3C791.3 505 794.4 513.9 794.6 523.2C794.9 532.4 792.9 543.9 791.6 549.6C790.3 555.3 787.7 556.2 787 557.5L771.5 557.5C770.8 556.2 768.2 555.3 766.9 549.6C765.6 543.9 763.6 532.4 763.9 523.2C764.1 513.9 767.2 505 768.5 494.3C769.8 483.6 771 464.9 771.5 459Z" fill="#0022ff"/><ellipse cx="779" cy="514.8" rx="13.6" ry="44.7" fill="#0082ff"/><ellipse cx="779" cy="515.2" rx="11.7" ry="37.7" fill="#0ddaf0"/><ellipse cx="779.4" cy="515.6" rx="9.9" ry="30.7" fill="#66ff93"/><ellipse cx="779.4" cy="515.9" rx="8" ry="23.6" fill="#dcf320"/><ellipse cx="779.8" cy="492.6" rx="4" ry="5" fill="#f02e00"/><ellipse cx="780.3" cy="522.9" rx="4" ry="5" fill="#f02e00"/></g><g filter="url(#bl1)"><path d="M798.9 460C798.9 466.7 799 488 799.2 500.1C799.5 512.3 800.4 524.7 800.4 532.9C800.5 541.2 800 545.6 799.6 549.7C799.3 553.8 798.7 556.2 798.5 557.5L794.5 557.5C794.3 556.2 793.7 553.8 793.4 549.7C793 545.6 792.5 541.2 792.6 532.9C792.6 524.7 793.5 512.3 793.8 500.1C794 488 794.1 466.7 794.1 460Z" fill="#0011ff"/><ellipse cx="796.8" cy="517.4" rx="3.4" ry="44.7" fill="#0082ff"/><ellipse cx="795.8" cy="517.4" rx="3" ry="37.7" fill="#0ddaf0"/><ellipse cx="797.2" cy="517.3" rx="2.5" ry="30.7" fill="#66ff93"/></g><rect x="793" y="458" width="7.8" height="100.5" fill="url(#harm)"/><g filter="url(#bl1)"><path d="M811.2 459C811.6 465.7 812.6 487.1 813.4 499.2C814.1 511.4 815.8 523.8 815.9 532.2C816.1 540.6 814.9 545.4 814.2 549.6C813.5 553.8 812.1 556.2 811.7 557.5L803.1 557.5C802.7 556.2 801.3 553.8 800.6 549.6C799.9 545.4 798.7 540.6 798.9 532.2C799 523.8 800.7 511.4 801.4 499.2C802.2 487.1 803.2 465.7 803.6 459Z" fill="url(#halo)"/><ellipse cx="808.2" cy="523.3" rx="7.5" ry="37.7" fill="#0082ff"/><ellipse cx="807.5" cy="524.7" rx="6.5" ry="30.2" fill="#0ddaf0"/></g><g filter="url(#bl1)"><path d="M831.6 483.1C832.6 487.2 835.8 500.2 837.4 507.7C838.9 515.1 840.6 520.4 840.8 527.8C841 535.1 839.5 546.6 838.5 551.5C837.6 556.5 835.6 556.5 835.1 557.5L823.5 557.5C823 556.5 821 556.5 820.1 551.5C819.1 546.6 817.6 535.1 817.8 527.8C818 520.4 819.7 515.1 821.2 507.7C822.8 500.2 826 487.2 827 483.1Z" fill="#0011ff"/><ellipse cx="828.7" cy="529" rx="10.2" ry="27.6" fill="#0082ff"/><ellipse cx="830" cy="528.9" rx="8.8" ry="22.1" fill="#0ddaf0"/><ellipse cx="829.4" cy="528.8" rx="7.4" ry="16.6" fill="#66ff93"/></g><g filter="url(#bl1)"><path d="M858.7 460C858.9 465.4 859.1 482.7 859.8 492.5C860.6 502.4 863 509.7 863.2 519.2C863.4 528.7 861.9 543.3 861 549.7C860 556.1 858.2 556.2 857.6 557.5L846.4 557.5C845.8 556.2 844 556.1 843 549.7C842.1 543.3 840.6 528.7 840.8 519.2C841 509.7 843.4 502.4 844.2 492.5C844.9 482.7 845.1 465.4 845.3 460Z" fill="#0011ff"/><ellipse cx="851.1" cy="513.6" rx="9.9" ry="44.7" fill="#0082ff"/><ellipse cx="852.7" cy="514.2" rx="8.5" ry="37.7" fill="#0ddaf0"/><ellipse cx="853" cy="514.7" rx="7.2" ry="30.7" fill="#66ff93"/></g><rect x="842" y="458" width="22.4" height="100.5" fill="url(#harm)"/><g filter="url(#bl1)"><path d="M876.1 459C876.5 464.1 877.7 480.4 878.7 489.8C879.6 499.1 881.6 504.9 881.8 514.9C882 524.9 880.6 542.5 879.7 549.6C878.9 556.7 877.1 556.2 876.6 557.5L866.1 557.5C865.6 556.2 863.8 556.7 863 549.6C862.1 542.5 860.7 524.9 860.9 514.9C861.1 504.9 863.1 499.1 864 489.8C865 480.4 866.2 464.1 866.6 459Z" fill="url(#halo)"/><ellipse cx="872" cy="519.3" rx="9.2" ry="37.7" fill="#0082ff"/><ellipse cx="871.2" cy="521.5" rx="8" ry="30.2" fill="#0ddaf0"/><ellipse cx="870.7" cy="523.7" rx="6.7" ry="22.6" fill="#66ff93"/></g><g filter="url(#bl1)"><path d="M901.6 460C901.8 465.4 902 482.8 902.9 492.6C903.7 502.5 906.6 509.8 906.8 519.4C907 528.9 905.3 543.3 904.2 549.7C903.1 556.1 900.9 556.2 900.3 557.5L887.1 557.5C886.5 556.2 884.3 556.1 883.2 549.7C882.1 543.3 880.4 528.9 880.6 519.4C880.8 509.8 883.7 502.5 884.5 492.6C885.4 482.8 885.6 465.4 885.8 460Z" fill="#0011ff"/><ellipse cx="894.2" cy="513.7" rx="11.5" ry="44.7" fill="#0082ff"/><ellipse cx="894.4" cy="514.2" rx="10" ry="37.7" fill="#0ddaf0"/><ellipse cx="892.8" cy="514.8" rx="8.4" ry="30.7" fill="#66ff93"/><ellipse cx="893.9" cy="515.3" rx="6.8" ry="23.6" fill="#dcf320"/></g><rect x="882" y="458" width="26.2" height="100.5" fill="url(#harm)"/><g filter="url(#bl1)"><path d="M930.9 460C931.1 465 931.4 480.9 932.5 490C933.6 499.1 937.1 504.5 937.3 514.5C937.6 524.5 935.4 542.5 934.1 549.7C932.8 556.9 930.1 556.2 929.3 557.5L913.1 557.5C912.3 556.2 909.6 556.9 908.3 549.7C907 542.5 904.8 524.5 905.1 514.5C905.3 504.5 908.8 499.1 909.9 490C911 480.9 911.3 465 911.5 460Z" fill="#0011ff"/><ellipse cx="921.6" cy="512.3" rx="14.2" ry="44.7" fill="#0082ff"/><ellipse cx="920.9" cy="513.1" rx="12.3" ry="37.7" fill="#0ddaf0"/><ellipse cx="922" cy="513.9" rx="10.3" ry="30.7" fill="#66ff93"/><ellipse cx="922.2" cy="514.6" rx="8.4" ry="23.6" fill="#dcf320"/></g><rect x="906.8" y="458" width="32.3" height="100.5" fill="url(#harm)"/><g filter="url(#bl1)"><path d="M959.2 460C959.4 465.8 959.6 484.3 960.5 494.9C961.4 505.5 964.2 514.3 964.4 523.5C964.6 532.6 962.9 544 961.8 549.7C960.7 555.4 958.5 556.2 957.9 557.5L944.8 557.5C944.2 556.2 942 555.4 940.9 549.7C939.8 544 938.1 532.6 938.3 523.5C938.5 514.3 941.3 505.5 942.2 494.9C943.1 484.3 943.3 465.8 943.5 460Z" fill="#0011ff"/><ellipse cx="952.3" cy="514.8" rx="11.5" ry="44.7" fill="#0082ff"/><ellipse cx="951" cy="515.2" rx="9.9" ry="37.7" fill="#0ddaf0"/><ellipse cx="950.5" cy="515.6" rx="8.4" ry="30.7" fill="#66ff93"/></g><rect x="939.7" y="458" width="26.1" height="100.5" fill="url(#harm)"/><rect x="534" y="458" width="511" height="100.5" fill="none"/></g></g>
<rect x="999" y="462" width="38" height="3.5" fill="#fff"/>
<rect x="3.9" y="564" width="117.7" height="4.5" fill="#000"/>
<rect x="214.9" y="564" width="112.5" height="4.5" fill="#000"/>
<rect x="456.7" y="564" width="112.7" height="4.5" fill="#000"/>
<rect x="790" y="564" width="183" height="4.5" fill="#000"/>
<rect x="3.9" y="570.5" width="67.5" height="4" fill="#c8c3c3"/>
<rect x="74" y="570.5" width="33.7" height="4" fill="#707070"/>
<path d="M118.4 570.5 L121 574.5 L118.4 574.5Z" fill="#707070"/>
<path d="M107.7 571.5 L118.4 572.5 L121.4 575 L107.7 576.5Z" fill="#e0201c"/>
<rect x="214.9" y="570.5" width="36" height="4" fill="#c8c3c3"/>
<rect x="255.7" y="570.5" width="56.3" height="4" fill="#707070"/>
<path d="M323.3 570.5 L326.5 574.5 L323.3 574.5Z" fill="#707070"/>
<path d="M312 571.5 L323.3 572.5 L326.3 575 L312 576.5Z" fill="#e0201c"/>
<rect x="456.7" y="570.5" width="36.3" height="4" fill="#c8c3c3"/>
<rect x="497.5" y="570.5" width="58.3" height="4" fill="#707070"/>
<path d="M567.2 570.5 L569.4 574.5 L567.2 574.5Z" fill="#707070"/>
<path d="M555.8 571.5 L567.2 572.5 L570.2 575 L555.8 576.5Z" fill="#e0201c"/>
<rect x="790" y="570.5" width="36" height="4" fill="#c8c3c3"/>
<rect x="832" y="570.5" width="108" height="4" fill="#707070"/>
<path d="M951 570.5 L973 574.5 L951 574.5Z" fill="#707070"/>
<path d="M940 571.5 L951 572.5 L954 575 L940 576.5Z" fill="#e0201c"/>
<rect x="4" y="576.6" width="1040.5" height="99.4" fill="#000"/>
<g clip-path="url(#sp2)"><g filter="url(#spk)"><g filter="url(#bl1)"><path d="M13.1 577.6C13.3 583.1 13.8 600.6 14.2 610.5C14.6 620.5 15.4 628 15.4 637.5C15.5 646.9 15 661 14.6 667.2C14.3 673.5 13.6 673.7 13.3 675L9.2 675C8.9 673.7 8.2 673.5 7.9 667.2C7.5 661 7 646.9 7 637.5C7.1 628 7.9 620.5 8.3 610.5C8.7 600.6 9.2 583.1 9.4 577.6Z" fill="url(#halo)"/></g><g filter="url(#bl1)"><path d="M39.5 577.6C39.8 582.8 40.6 599.3 41.2 608.7C41.9 618.1 43.2 624.4 43.4 634.1C43.5 643.9 42.5 660.4 41.9 667.2C41.4 674 40.2 673.7 39.8 675L32.8 675C32.4 673.7 31.2 674 30.7 667.2C30.1 660.4 29.1 643.9 29.2 634.1C29.4 624.4 30.7 618.1 31.4 608.7C32 599.3 32.8 582.8 33.1 577.6Z" fill="url(#halo)"/><ellipse cx="36.6" cy="637.5" rx="6.2" ry="37.3" fill="#0082ff"/><ellipse cx="35.4" cy="639.7" rx="5.4" ry="29.8" fill="#0ddaf0"/></g><g filter="url(#bl1)"><path d="M61.9 577.6C62.2 583.5 63 602.1 63.7 612.8C64.3 623.5 65.6 632.5 65.7 641.6C65.9 650.7 64.9 661.6 64.4 667.2C63.8 672.8 62.6 673.7 62.3 675L55.4 675C55.1 673.7 53.9 672.8 53.3 667.2C52.8 661.6 51.8 650.7 52 641.6C52.1 632.5 53.4 623.5 54 612.8C54.7 602.1 55.5 583.5 55.8 577.6Z" fill="url(#halo)"/><ellipse cx="58.6" cy="639.3" rx="6.1" ry="37.3" fill="#0082ff"/><ellipse cx="58" cy="641" rx="5.2" ry="29.8" fill="#0ddaf0"/></g><g filter="url(#bl1)"><path d="M88.9 577.6C89.2 583.4 90 601.9 90.9 612.5C91.7 623.1 93.7 631.9 93.9 641.1C94 650.2 92.7 661.6 91.9 667.2C91 672.9 89.4 673.7 88.9 675L78.9 675C78.4 673.7 76.8 672.9 75.9 667.2C75.1 661.6 73.8 650.2 73.9 641.1C74.1 631.9 76.1 623.1 76.9 612.5C77.8 601.9 78.6 583.4 78.9 577.6Z" fill="#0022ff"/><ellipse cx="83" cy="632.8" rx="8.8" ry="44.2" fill="#0082ff"/><ellipse cx="83.8" cy="633.2" rx="7.6" ry="37.3" fill="#0ddaf0"/><ellipse cx="83" cy="633.5" rx="6.4" ry="30.3" fill="#66ff93"/><ellipse cx="83.1" cy="633.9" rx="5.2" ry="23.4" fill="#dcf320"/><ellipse cx="84.9" cy="608" rx="2.6" ry="5" fill="#f02e00"/><ellipse cx="83.1" cy="636" rx="2.6" ry="5" fill="#f02e00"/></g><g filter="url(#bl1)"><path d="M105.7 578.6C105.8 584.6 105.9 603.6 106.4 614.4C106.9 625.3 108.4 634.9 108.6 643.7C108.7 652.5 107.7 662.1 107.1 667.3C106.5 672.5 105.3 673.7 105 675L97.8 675C97.5 673.7 96.3 672.5 95.7 667.3C95.1 662.1 94.1 652.5 94.2 643.7C94.4 634.9 95.9 625.3 96.4 614.4C96.9 603.6 97 584.6 97.1 578.6Z" fill="#0011ff"/><ellipse cx="102.3" cy="633.4" rx="6.3" ry="44.2" fill="#0082ff"/><ellipse cx="101.6" cy="633.7" rx="5.4" ry="37.3" fill="#0ddaf0"/><ellipse cx="101.2" cy="634" rx="4.6" ry="30.3" fill="#66ff93"/></g><rect x="95" y="576.6" width="14.3" height="99.4" fill="url(#harm)"/><g filter="url(#bl1)"><path d="M116 577.6C116.2 584.3 116.7 605.4 117.1 617.5C117.5 629.6 118.4 641.9 118.5 650.2C118.6 658.5 118 663.1 117.6 667.2C117.2 671.3 116.5 673.7 116.2 675L111.8 675C111.5 673.7 110.8 671.3 110.4 667.2C110 663.1 109.4 658.5 109.5 650.2C109.6 641.9 110.5 629.6 110.9 617.5C111.3 605.4 111.8 584.3 112 577.6Z" fill="url(#halo)"/><ellipse cx="113.1" cy="641.2" rx="3.9" ry="37.3" fill="#0082ff"/><ellipse cx="114.7" cy="642.6" rx="3.4" ry="29.8" fill="#0ddaf0"/></g><g filter="url(#bl1)"><path d="M224.9 577.6C225.2 583 226 600.3 226.7 610.2C227.3 620 228.6 627.3 228.7 636.8C228.9 646.3 227.9 660.8 227.4 667.2C226.8 673.6 225.6 673.7 225.3 675L218.3 675C218 673.7 216.8 673.6 216.2 667.2C215.7 660.8 214.7 646.3 214.9 636.8C215 627.3 216.3 620 216.9 610.2C217.6 600.3 218.4 583 218.7 577.6Z" fill="url(#halo)"/><ellipse cx="221.1" cy="638.2" rx="6.1" ry="37.3" fill="#0082ff"/></g><g filter="url(#bl1)"><path d="M247.1 577.6C247.4 582.7 248.4 599 249.2 608.3C249.9 617.6 251.6 623.7 251.7 633.5C251.8 643.3 250.7 660.3 250 667.2C249.3 674.1 247.9 673.7 247.5 675L239 675C238.6 673.7 237.2 674.1 236.5 667.2C235.8 660.3 234.7 643.3 234.8 633.5C234.9 623.7 236.6 617.6 237.3 608.3C238.1 599 239.1 582.7 239.4 577.6Z" fill="url(#halo)"/><ellipse cx="242.9" cy="637.4" rx="7.4" ry="37.3" fill="#0082ff"/><ellipse cx="243.9" cy="639.5" rx="6.4" ry="29.8" fill="#0ddaf0"/></g><g filter="url(#bl1)"><path d="M271.9 577.6C272.2 582.8 273 599.5 273.9 609C274.7 618.5 276.7 625 276.9 634.7C277 644.4 275.7 660.5 274.9 667.2C274 673.9 272.4 673.7 271.9 675L261.9 675C261.4 673.7 259.8 673.9 258.9 667.2C258.1 660.5 256.8 644.4 256.9 634.7C257.1 625 259.1 618.5 259.9 609C260.8 599.5 261.6 582.8 261.9 577.6Z" fill="#0022ff"/><ellipse cx="267.1" cy="631.1" rx="8.8" ry="44.2" fill="#0082ff"/><ellipse cx="267.2" cy="631.7" rx="7.6" ry="37.3" fill="#0ddaf0"/><ellipse cx="266.6" cy="632.3" rx="6.4" ry="30.3" fill="#66ff93"/><ellipse cx="267" cy="633" rx="5.2" ry="23.4" fill="#dcf320"/><ellipse cx="265.6" cy="605.8" rx="2.6" ry="5" fill="#f02e00"/><ellipse cx="267.4" cy="636.5" rx="2.6" ry="5" fill="#f02e00"/></g><g filter="url(#bl1)"><path d="M293 578.6C293.2 584.2 293.4 602.1 294.1 612.3C294.7 622.5 296.9 630.7 297.1 639.9C297.2 649 295.9 661.4 295.1 667.3C294.2 673.1 292.5 673.7 292 675L282 675C281.5 673.7 279.8 673.1 278.9 667.3C278.1 661.4 276.8 649 276.9 639.9C277.1 630.7 279.3 622.5 279.9 612.3C280.6 602.1 280.8 584.2 281 578.6Z" fill="#0011ff"/><ellipse cx="286.6" cy="632.4" rx="8.9" ry="44.2" fill="#0082ff"/><ellipse cx="287.2" cy="632.8" rx="7.7" ry="37.3" fill="#0ddaf0"/><ellipse cx="286.9" cy="633.2" rx="6.5" ry="30.3" fill="#66ff93"/></g><rect x="278" y="576.6" width="20.2" height="99.4" fill="url(#harm)"/><g filter="url(#bl1)"><path d="M321.3 577.6C321.7 583 322.4 600.4 323.2 610.3C324 620.2 325.8 627.5 326 637C326.2 646.5 324.9 660.9 324.1 667.2C323.4 673.5 321.8 673.7 321.3 675L312.1 675C311.6 673.7 310 673.5 309.3 667.2C308.5 660.9 307.2 646.5 307.4 637C307.6 627.5 309.4 620.2 310.2 610.3C311 600.4 311.7 583 312.1 577.6Z" fill="#0022ff"/><ellipse cx="317.3" cy="631.7" rx="8.2" ry="44.2" fill="#0082ff"/><ellipse cx="317.1" cy="632.2" rx="7.1" ry="37.3" fill="#0ddaf0"/><ellipse cx="316.2" cy="632.8" rx="5.9" ry="30.3" fill="#66ff93"/><ellipse cx="316.8" cy="633.3" rx="4.8" ry="23.4" fill="#dcf320"/><ellipse cx="317.8" cy="608.6" rx="2.4" ry="5" fill="#f02e00"/><ellipse cx="316.1" cy="639.6" rx="2.4" ry="5" fill="#f02e00"/></g><g filter="url(#bl1)"><path d="M465.8 577.6C466.1 584.3 467.1 605.5 467.9 617.6C468.6 629.7 470.3 642 470.4 650.3C470.5 658.5 469.4 663.1 468.7 667.2C468 671.3 466.6 673.7 466.2 675L457.7 675C457.3 673.7 455.9 671.3 455.2 667.2C454.5 663.1 453.4 658.5 453.5 650.3C453.6 642 455.3 629.7 456 617.6C456.8 605.5 457.8 584.3 458.1 577.6Z" fill="url(#halo)"/><ellipse cx="461.2" cy="641.2" rx="7.4" ry="37.3" fill="#0082ff"/></g><g filter="url(#bl1)"><path d="M487.7 577.6C488.1 583.3 489.1 601.3 489.9 611.5C490.6 621.8 492.3 630 492.4 639.3C492.6 648.6 491.4 661.3 490.7 667.2C490 673.2 488.6 673.7 488.2 675L479.6 675C479.2 673.7 477.8 673.2 477.1 667.2C476.4 661.3 475.2 648.6 475.4 639.3C475.5 630 477.2 621.8 477.9 611.5C478.7 601.3 479.7 583.3 480.1 577.6Z" fill="url(#halo)"/><ellipse cx="484.4" cy="638.7" rx="7.5" ry="37.3" fill="#0082ff"/><ellipse cx="483.2" cy="640.6" rx="6.5" ry="29.8" fill="#0ddaf0"/></g><g filter="url(#bl1)"><path d="M512.4 577.6C512.8 583.4 513.6 601.8 514.4 612.3C515.3 622.8 517.3 631.5 517.5 640.7C517.7 649.8 516.3 661.5 515.5 667.2C514.6 672.9 512.9 673.7 512.4 675L502.3 675C501.8 673.7 500.1 672.9 499.2 667.2C498.4 661.5 497 649.8 497.2 640.7C497.4 631.5 499.4 622.8 500.3 612.3C501.1 601.8 501.9 583.4 502.3 577.6Z" fill="#0022ff"/><ellipse cx="506.4" cy="632.7" rx="8.9" ry="44.2" fill="#0082ff"/><ellipse cx="507.7" cy="633.1" rx="7.7" ry="37.3" fill="#0ddaf0"/><ellipse cx="507.9" cy="633.5" rx="6.5" ry="30.3" fill="#66ff93"/><ellipse cx="507.5" cy="633.8" rx="5.3" ry="23.4" fill="#dcf320"/><ellipse cx="506.8" cy="610.7" rx="2.6" ry="5" fill="#f02e00"/><ellipse cx="507.6" cy="639.4" rx="2.6" ry="5" fill="#f02e00"/></g><g filter="url(#bl1)"><path d="M536.1 578.6C536.3 584.5 536.6 603.2 537.5 613.9C538.3 624.6 541.2 633.9 541.4 642.8C541.6 651.7 539.9 661.9 538.8 667.3C537.7 672.7 535.5 673.7 534.8 675L521.6 675C520.9 673.7 518.7 672.7 517.6 667.3C516.5 661.9 514.8 651.7 515 642.8C515.2 633.9 518.1 624.6 518.9 613.9C519.8 603.2 520.1 584.5 520.3 578.6Z" fill="#0011ff"/><ellipse cx="528.1" cy="633.2" rx="11.6" ry="44.2" fill="#0082ff"/><ellipse cx="528.9" cy="633.5" rx="10" ry="37.3" fill="#0ddaf0"/><ellipse cx="529.1" cy="633.8" rx="8.5" ry="30.3" fill="#66ff93"/></g><rect x="516.4" y="576.6" width="26.4" height="99.4" fill="url(#harm)"/><g filter="url(#bl1)"><path d="M564.7 577.6C565 583.4 565.9 601.7 566.7 612.1C567.6 622.6 569.6 631.2 569.8 640.4C570 649.6 568.6 661.4 567.8 667.2C566.9 673 565.2 673.7 564.7 675L554.5 675C554 673.7 552.3 673 551.4 667.2C550.6 661.4 549.2 649.6 549.4 640.4C549.6 631.2 551.6 622.6 552.5 612.1C553.3 601.7 554.2 583.4 554.5 577.6Z" fill="#0022ff"/><ellipse cx="559.9" cy="632.6" rx="9" ry="44.2" fill="#0082ff"/><ellipse cx="558.7" cy="633" rx="7.7" ry="37.3" fill="#0ddaf0"/><ellipse cx="560" cy="633.4" rx="6.5" ry="30.3" fill="#66ff93"/><ellipse cx="559.9" cy="633.8" rx="5.3" ry="23.4" fill="#dcf320"/><ellipse cx="560.6" cy="611.4" rx="2.6" ry="5" fill="#f02e00"/><ellipse cx="559.3" cy="636.9" rx="2.6" ry="5" fill="#f02e00"/></g><g filter="url(#bl1)"><path d="M802 577.6C802.3 583.7 803.1 603.1 803.7 614.2C804.3 625.3 805.6 635.4 805.7 644.2C805.8 653 804.9 662.1 804.4 667.2C803.8 672.3 802.7 673.7 802.3 675L795.5 675C795.1 673.7 794 672.3 793.4 667.2C792.9 662.1 792 653 792.1 644.2C792.2 635.4 793.5 625.3 794.1 614.2C794.7 603.1 795.5 583.7 795.8 577.6Z" fill="url(#halo)"/><ellipse cx="797.9" cy="639.9" rx="6" ry="37.3" fill="#0082ff"/></g><g filter="url(#bl1)"><path d="M826 577.6C826.4 583.3 827.6 601.6 828.5 612C829.4 622.4 831.3 631 831.5 640.2C831.6 649.4 830.3 661.4 829.5 667.2C828.7 673 827 673.7 826.5 675L816.7 675C816.2 673.7 814.5 673 813.7 667.2C812.9 661.4 811.6 649.4 811.7 640.2C811.9 631 813.8 622.4 814.7 612C815.6 601.6 816.8 583.3 817.2 577.6Z" fill="url(#halo)"/><ellipse cx="820.9" cy="638.9" rx="8.7" ry="37.3" fill="#0082ff"/><ellipse cx="820.8" cy="640.8" rx="7.5" ry="29.8" fill="#0ddaf0"/></g><g filter="url(#bl1)"><path d="M849.1 577.6C849.5 582.6 850.3 598.6 851.1 607.7C851.9 616.8 853.9 622.4 854.1 632.3C854.2 642.2 852.9 660.1 852.1 667.2C851.3 674.3 849.6 673.7 849.1 675L839.3 675C838.8 673.7 837.1 674.3 836.3 667.2C835.5 660.1 834.2 642.2 834.3 632.3C834.5 622.4 836.5 616.8 837.3 607.7C838.1 598.6 838.9 582.6 839.3 577.6Z" fill="#0022ff"/><ellipse cx="844.7" cy="630.4" rx="8.7" ry="44.2" fill="#0082ff"/><ellipse cx="843.5" cy="631.2" rx="7.5" ry="37.3" fill="#0ddaf0"/><ellipse cx="843.7" cy="631.9" rx="6.3" ry="30.3" fill="#66ff93"/><ellipse cx="844" cy="632.6" rx="5.1" ry="23.4" fill="#dcf320"/><ellipse cx="842.9" cy="610.6" rx="2.6" ry="5" fill="#f02e00"/><ellipse cx="844.3" cy="637.9" rx="2.6" ry="5" fill="#f02e00"/></g><g filter="url(#bl1)"><path d="M874.3 578.6C874.5 585 874.7 605.5 875.6 617.1C876.4 628.8 879.1 640.3 879.4 648.7C879.6 657 877.9 662.9 876.8 667.3C875.8 671.7 873.7 673.7 873 675L860.5 675C859.8 673.7 857.7 671.7 856.7 667.3C855.6 662.9 853.9 657 854.1 648.7C854.4 640.3 857.1 628.8 857.9 617.1C858.8 605.5 859 585 859.2 578.6Z" fill="#0011ff"/><ellipse cx="867.4" cy="634.8" rx="11.1" ry="44.2" fill="#0082ff"/><ellipse cx="867.5" cy="634.8" rx="9.6" ry="37.3" fill="#0ddaf0"/><ellipse cx="866.3" cy="634.9" rx="8.1" ry="30.3" fill="#66ff93"/></g><rect x="855.5" y="576.6" width="25.2" height="99.4" fill="url(#harm)"/><g filter="url(#bl1)"><path d="M903.1 577.6C903.5 583.3 904.5 601.2 905.6 611.5C906.6 621.8 909.1 630 909.3 639.3C909.6 648.5 907.9 661.3 906.8 667.2C905.8 673.2 903.7 673.7 903.1 675L890.5 675C889.9 673.7 887.8 673.2 886.8 667.2C885.7 661.3 884 648.5 884.3 639.3C884.5 630 887 621.8 888 611.5C889.1 601.2 890.1 583.3 890.5 577.6Z" fill="#0022ff"/><ellipse cx="896.5" cy="632.3" rx="11" ry="44.2" fill="#0082ff"/><ellipse cx="897.6" cy="632.8" rx="9.5" ry="37.3" fill="#0ddaf0"/><ellipse cx="897.7" cy="633.2" rx="8" ry="30.3" fill="#66ff93"/><ellipse cx="896.1" cy="633.6" rx="6.5" ry="23.4" fill="#dcf320"/><ellipse cx="896" cy="606.5" rx="3.3" ry="5" fill="#f02e00"/><ellipse cx="896.8" cy="636.6" rx="3.3" ry="5" fill="#f02e00"/></g><g filter="url(#bl1)"><path d="M931.3 577.6C931.7 583.6 932.9 602.5 933.8 613.4C934.7 624.2 936.6 633.7 936.8 642.6C936.9 651.6 935.6 661.8 934.8 667.2C934 672.6 932.3 673.7 931.8 675L921.9 675C921.4 673.7 919.7 672.6 918.9 667.2C918.1 661.8 916.8 651.6 916.9 642.6C917.1 633.7 919 624.2 919.9 613.4C920.8 602.5 922 583.6 922.4 577.6Z" fill="url(#halo)"/><ellipse cx="926.4" cy="639.5" rx="8.7" ry="37.3" fill="#0082ff"/><ellipse cx="925.9" cy="641.2" rx="7.5" ry="29.8" fill="#0ddaf0"/></g><g filter="url(#bl1)"><path d="M967.3 578.6C967.6 584.2 967.9 602 969.2 612.2C970.5 622.4 974.8 630.5 975.1 639.7C975.4 648.9 972.8 661.4 971.2 667.3C969.5 673.2 966.3 673.7 965.3 675L945.7 675C944.7 673.7 941.5 673.2 939.8 667.3C938.2 661.4 935.6 648.9 935.9 639.7C936.2 630.5 940.5 622.4 941.8 612.2C943.1 602 943.4 584.2 943.7 578.6Z" fill="#0011ff"/><ellipse cx="955.2" cy="632.3" rx="17.2" ry="44.2" fill="#0082ff"/><ellipse cx="955.6" cy="632.8" rx="14.9" ry="37.3" fill="#0ddaf0"/><ellipse cx="956.4" cy="633.2" rx="12.5" ry="30.3" fill="#66ff93"/></g><rect x="938" y="576.6" width="39.2" height="99.4" fill="url(#harm)"/><rect x="4" y="576.6" width="1040.5" height="99.4" fill="none"/></g></g>
<line x1="107.7" y1="576.6" x2="107.7" y2="676" stroke="#fff" stroke-width="1.5" stroke-dasharray="4 3"/>
<line x1="116.4" y1="576.6" x2="116.4" y2="676" stroke="#fff" stroke-width="1.5" stroke-dasharray="4 3"/>
<line x1="312" y1="576.6" x2="312" y2="676" stroke="#fff" stroke-width="1.5" stroke-dasharray="4 3"/>
<line x1="321.6" y1="576.6" x2="321.6" y2="676" stroke="#fff" stroke-width="1.5" stroke-dasharray="4 3"/>
<line x1="556.3" y1="576.6" x2="556.3" y2="676" stroke="#fff" stroke-width="1.5" stroke-dasharray="4 3"/>
<line x1="565.6" y1="576.6" x2="565.6" y2="676" stroke="#fff" stroke-width="1.5" stroke-dasharray="4 3"/>
<line x1="940" y1="576.6" x2="940" y2="676" stroke="#fff" stroke-width="1.5" stroke-dasharray="4 3"/>
<line x1="949.5" y1="576.6" x2="949.5" y2="676" stroke="#fff" stroke-width="1.5" stroke-dasharray="4 3"/>
<circle cx="206.8" cy="583" r="4.8" fill="#f07028"/>
<circle cx="444.5" cy="582.7" r="4.8" fill="#f07028"/>
<g clip-path="url(#mclip)">
<rect x="3.8" y="696" width="369.0" height="393.5" fill="#340505"/>
<g filter="url(#mblur)">
<ellipse cx="290" cy="915" rx="115" ry="80" fill="#8e160f"/>
<ellipse cx="200" cy="880" rx="120" ry="55" fill="#74120c"/>
<ellipse cx="90" cy="850" rx="90" ry="60" fill="#4e0b08"/>
<ellipse cx="110" cy="940" rx="70" ry="40" fill="#7e1510"/>
<ellipse cx="180" cy="1062" rx="48" ry="42" fill="#901a12"/>
<ellipse cx="215" cy="1010" rx="35" ry="30" fill="#80160e"/>
<ellipse cx="330" cy="800" rx="55" ry="55" fill="#4c0a07"/>
<path d="M0 690 L42 690 C32 740 24 790 16 840 L0 850Z" fill="#0a0000"/>
<path d="M40 690 L380 690 L380 730 C300 770 200 770 120 760 C80 756 52 780 42 790Z" fill="#220303"/>
<ellipse cx="60" cy="1045" rx="75" ry="55" fill="#2e0404"/>
<ellipse cx="320" cy="1055" rx="70" ry="40" fill="#330505"/>
<path d="M150 975 C200 960 250 990 290 1010 L250 1030 C210 1000 170 990 140 990Z" fill="#300505"/>
</g>
<path d="M0 690 L60 690 C45 720 35 745 28 760 C22 780 17 800 13 825 C10 840 8 850 6 865 L0 865Z" fill="#080000" filter="url(#bl1)"/>
<g mask="url(#cellmask)"><g filter="url(#cells)">
<rect x="0" y="690" width="380" height="410" fill="#f02a1c"/>
</g></g>
<g filter="url(#dark)" opacity="0.45">
<rect x="0" y="690" width="380" height="410" fill="#000"/>
</g>
<circle cx="172" cy="805" r="4" fill="#1a0202" opacity="0.7" filter="url(#bl1)"/>
<circle cx="345" cy="822" r="9" fill="#1a0202" opacity="0.7" filter="url(#bl1)"/>
<circle cx="335" cy="817" r="6" fill="#1a0202" opacity="0.7" filter="url(#bl1)"/>
<circle cx="260" cy="828" r="4" fill="#1a0202" opacity="0.7" filter="url(#bl1)"/>
<circle cx="79" cy="940" r="2.1" fill="#4aee40"/>
<circle cx="82" cy="949" r="2.2" fill="#4aee40"/>
<circle cx="88" cy="955" r="2.5" fill="#4aee40"/>
<circle cx="84" cy="965" r="2.1" fill="#4aee40"/>
<circle cx="92" cy="962" r="2.1" fill="#4aee40"/>
<circle cx="97" cy="957" r="2.2" fill="#4aee40"/>
<circle cx="103" cy="963" r="1.8" fill="#4aee40"/>
<circle cx="110" cy="964" r="2.1" fill="#4aee40"/>
<circle cx="118" cy="961" r="2.2" fill="#4aee40"/>
<circle cx="124" cy="955" r="2.4" fill="#4aee40"/>
<circle cx="126" cy="943" r="1.7" fill="#4aee40"/>
<circle cx="132" cy="935" r="1.9" fill="#4aee40"/>
<circle cx="105" cy="950" r="1.7" fill="#4aee40"/>
<circle cx="95" cy="944" r="2.4" fill="#4aee40"/>
<circle cx="115" cy="945" r="2.3" fill="#4aee40"/>
<circle cx="100" cy="935" r="1.6" fill="#4aee40"/>
<circle cx="120" cy="928" r="2.6" fill="#4aee40"/>
<circle cx="52" cy="932" r="2.6" fill="#4aee40"/>
<circle cx="88" cy="938" r="2.3" fill="#4aee40"/>
<circle cx="108" cy="958" r="2.2" fill="#4aee40"/>
<circle cx="73" cy="961" r="1.8" fill="#4aee40"/>
<circle cx="77" cy="969" r="1.6" fill="#4aee40"/>
<circle cx="112" cy="970" r="2.1" fill="#4aee40"/>
<circle cx="8" cy="848" r="1.3" fill="#4aee40"/><circle cx="28" cy="766" r="1" fill="#4aee40"/>
</g>
<text x="7.5" y="721.6" fill="#44e82e">HVC retrograde</text>
<text x="7.5" y="748" fill="#e23a22">ChRmine</text>
<text x="66" y="1011" fill="#fff">Uva</text>
<ellipse cx="110" cy="941" rx="62" ry="33" transform="rotate(-8 110 941)" fill="none" stroke="#fff" stroke-width="2.2" stroke-dasharray="8 7"/>
<path d="M253.5 697 L302.7 738.6 L329 699" fill="none" stroke="#fff" stroke-width="2" stroke-dasharray="7 6"/>
<rect x="308" y="1077" width="52.6" height="4" fill="#fff"/>
<rect x="407" y="699" width="306.4" height="388.29999999999995" fill="#000"/>
<g clip-path="url(#rclip)">
<path fill="#1a22e8" d="M407 699h70v2.7h-70zM407 702h70v2.2h-70zM407 704.7h70v2h-70zM407 707.2h70v3.2h-70zM407 710.9h70v2.4h-70zM407 713.4h70v3h-70zM407 716.8h70v3.1h-70zM407 720.3h70v2.3h-70zM407 722.9h70v2.8h-70zM407 726.4h70v3.2h-70zM407 729.6h70v2.8h-70zM407 732.5h70v3.1h-70zM407 736.1h70v2.5h-70zM407 738.6h70v2.3h-70zM407 741.2h70v3.1h-70zM407 744.6h70v3h-70zM407 747.6h70v3h-70zM407 750.9h70v2.2h-70zM407 753.5h70v2.3h-70zM407 756.1h70v2.7h-70zM407 759.4h70v3.1h-70zM407 762.8h70v2.1h-70zM407 765h70v2.5h-70zM407 767.7h70v2.7h-70zM407 770.7h70v2.8h-70zM407 773.5h70v2.5h-70zM407 776.2h70v2.1h-70zM407 778.9h70v2.4h-70zM407 781.8h70v2.3h-70zM407 784.3h70v2.3h-70zM407 786.9h70v2h-70zM407 789.4h70v2.3h-70zM407 792.2h70v2.7h-70zM407 795.2h70v2.5h-70zM407 797.9h70v2.4h-70zM407 800.5h70v2.1h-70zM407 802.9h70v2.7h-70zM407 806.1h70v2.4h-70zM407 808.7h70v2.3h-70zM407 811.5h70v3.1h-70zM407 814.6h70v2.8h-70zM407 817.9h70v2.5h-70zM407 820.9h70v2.4h-70zM407 823.8h70v2.9h-70zM407 827.2h70v2.6h-70zM407 830h70v3.1h-70zM407 833.1h70v2.2h-70zM407 835.5h70v3.1h-70zM407 838.6h70v2.3h-70zM407 841.4h70v3.1h-70zM407 844.9h70v2.9h-70zM407 847.9h70v2.3h-70zM407 850.3h70v2.7h-70zM407 853.4h70v3h-70zM407 856.9h70v2.5h-70zM407 859.6h70v2.2h-70zM407 862.1h70v2.2h-70zM407 864.5h70v2.5h-70zM407 867.5h70v2.6h-70zM407 870.4h70v2.3h-70zM407 873.2h70v3.2h-70zM407 876.7h70v2.6h-70zM407 879.3h70v2.1h-70zM407 882.1h70v2.8h-70zM407 885.2h70v2.3h-70zM407 888h70v3.1h-70zM407 891.2h70v2.2h-70zM407 893.5h70v2.5h-70zM407 896.5h70v3.2h-70zM407 900.1h70v2.1h-70zM407 902.4h70v3.2h-70zM407 905.7h70v3h-70zM407 909.1h70v2.6h-70zM407 911.8h70v2.8h-70zM407 915h70v2h-70zM407 917.3h70v2.8h-70zM407 920.5h70v2.3h-70zM407 923.3h70v2.1h-70zM407 925.9h70v2.3h-70zM407 928.2h70v2.3h-70zM407 930.8h70v2.5h-70zM407 933.3h70v2h-70zM407 935.4h70v3.1h-70zM407 938.8h70v2.7h-70zM407 942h70v3.1h-70zM407 945.3h70v2.7h-70zM407 948.1h70v2.7h-70zM407 951.1h70v2.5h-70zM407 953.7h70v2.7h-70zM407 956.6h70v2.8h-70zM407 959.6h70v3h-70zM407 963.2h70v2.3h-70zM407 965.6h70v3h-70zM407 968.9h70v2.2h-70zM407 971.2h70v2h-70zM407 973.3h70v3h-70zM407 976.9h70v3h-70zM407 980h70v2.3h-70zM407 982.3h70v2.3h-70zM407 984.9h70v2.9h-70zM407 987.9h70v2.6h-70zM407 990.6h70v2.4h-70zM407 993.5h70v3h-70zM407 996.8h70v3.1h-70zM407 1000.2h70v2.7h-70zM407 1003.2h70v2.6h-70zM407 1006.3h70v2.2h-70zM407 1008.9h70v2.2h-70zM407 1011.4h70v3.1h-70zM407 1014.9h70v2.8h-70zM407 1018.2h70v2.8h-70zM407 1021h70v2.3h-70zM407 1023.5h70v2.8h-70zM407 1026.5h70v3h-70zM407 1029.8h70v2.6h-70zM407 1033h70v2.1h-70zM407 1035.1h70v2.9h-70zM407 1038.3h70v3.1h-70zM407 1041.8h70v3.1h-70zM407 1045.3h70v2.2h-70zM407 1047.9h70v2.9h-70zM407 1050.9h70v2.5h-70zM407 1053.5h70v2.4h-70zM407 1056.5h70v2.6h-70zM407 1059.4h70v3.1h-70zM407 1062.5h70v2.6h-70zM407 1065.7h70v3.1h-70zM407 1069.1h70v2.6h-70zM407 1072.1h70v2.6h-70zM407 1075.3h70v2.4h-70zM407 1078.3h70v2.9h-70zM407 1081.7h70v2.2h-70zM407 1084.1h70v2.6h-70zM407 1087.1h70v2.9h-70z"/>
<path fill="#4a86f0" d="M407 699h7.6v2.7h-7.6zM409.5 702h4.4v2.2h-4.4zM413.9 702h4.3v2.2h-4.3zM407 704.7h7.5v2h-7.5zM414.5 704.7h3.7v2h-3.7zM407 707.2h4.1v3.2h-4.1zM411.1 707.2h3.3v3.2h-3.3zM407 710.9h7.8v2.4h-7.8zM414.8 710.9h4.2v2.4h-4.2zM407 713.4h5.5v3h-5.5zM407 716.8h7.8v3.1h-7.8zM407 720.3h5.8v2.3h-5.8zM411.7 722.9h3.6v2.8h-3.6zM415.2 722.9h2.5v2.8h-2.5zM413.1 726.4h4.4v3.2h-4.4zM416.4 732.5h2.5v3.1h-2.5zM407 736.1h4.6v2.5h-4.6zM411.6 736.1h5.8v2.5h-5.8zM407 738.6h4.2v2.3h-4.2zM415.3 738.6h2.5v2.3h-2.5zM407 741.2h5.5v3.1h-5.5zM412.5 741.2h4.6v3.1h-4.6zM411 744.6h4.6v3h-4.6zM415.6 744.6h2.8v3h-2.8zM407 747.6h5.7v3h-5.7zM412.7 747.6h4.4v3h-4.4zM407 750.9h4.6v2.2h-4.6zM411.6 750.9h6v2.2h-6zM407 753.5h5.5v2.3h-5.5zM412.5 753.5h2.5v2.3h-2.5zM413.3 756.1h2.8v2.7h-2.8zM407 759.4h3.1v3.1h-3.1zM414.6 759.4h3v3.1h-3zM407 762.8h2.8v2.1h-2.8zM409.8 762.8h6.8v2.1h-6.8zM414.1 765h3v2.5h-3zM407 767.7h4.6v2.7h-4.6zM411.6 767.7h2.6v2.7h-2.6zM407 770.7h7.4v2.8h-7.4zM414.4 770.7h3.3v2.8h-3.3zM407 776.2h2.8v2.1h-2.8zM407 778.9h7.7v2.4h-7.7zM407 784.3h5.3v2.3h-5.3zM410.7 789.4h5.8v2.3h-5.8zM416.5 789.4h1.6v2.3h-1.6zM407 792.2h4.8v2.7h-4.8zM416.8 792.2h1.1v2.7h-1.1zM407 795.2h3.8v2.5h-3.8zM410.8 795.2h5.7v2.5h-5.7zM407 797.9h5.8v2.4h-5.8zM412.8 797.9h4.7v2.4h-4.7zM407 800.5h2.7v2.1h-2.7zM409.7 800.5h3.4v2.1h-3.4zM413.1 800.5h4.5v2.1h-4.5zM410 802.9h6.1v2.7h-6.1zM407 806.1h3.1v2.4h-3.1zM410.1 806.1h4v2.4h-4zM414.1 806.1h3.8v2.4h-3.8zM407 808.7h5.2v2.3h-5.2zM415.1 808.7h3.6v2.3h-3.6zM413.6 811.5h3.8v3.1h-3.8zM407 814.6h6.4v2.8h-6.4zM413.4 814.6h5.5v2.8h-5.5zM407 817.9h6.3v2.5h-6.3zM407 820.9h7.2v2.4h-7.2zM407 823.8h5v2.9h-5zM414.4 827.2h3.4v2.6h-3.4zM410.7 830h6.5v3.1h-6.5zM407 833.1h7.9v2.2h-7.9zM414.9 833.1h3.7v2.2h-3.7zM407 835.5h5.1v3.1h-5.1zM416.1 841.4h1.8v3.1h-1.8zM407 844.9h4v2.9h-4zM411 844.9h2.9v2.9h-2.9zM407 847.9h5.9v2.3h-5.9zM412.9 847.9h5.1v2.3h-5.1zM407 850.3h5.5v2.7h-5.5zM407 853.4h6.5v3h-6.5zM417 853.4h1.7v3h-1.7zM413 856.9h2.8v2.5h-2.8zM415.8 856.9h1.3v2.5h-1.3zM407 859.6h5.9v2.2h-5.9zM412.9 859.6h4.8v2.2h-4.8zM407 864.5h5.6v2.5h-5.6zM412.3 867.5h6.3v2.6h-6.3zM409.8 870.4h3.6v2.3h-3.6zM413.3 870.4h3.9v2.3h-3.9zM417.2 870.4h1v2.3h-1zM414.1 873.2h4.6v3.2h-4.6zM416.2 879.3h2v2.1h-2zM414.9 882.1h3.3v2.8h-3.3zM418.2 882.1h0.7v2.8h-0.7zM407 885.2h7.1v2.3h-7.1zM414.1 885.2h3.9v2.3h-3.9zM411.3 888h2.6v3.1h-2.6zM413.9 888h5.1v3.1h-5.1zM407 891.2h3.6v2.2h-3.6zM410.6 891.2h4.4v2.2h-4.4zM407 893.5h5.5v2.5h-5.5zM416.6 893.5h0.5v2.5h-0.5zM412.3 896.5h3.2v3.2h-3.2zM415.5 896.5h1.7v3.2h-1.7zM407 900.1h5.4v2.1h-5.4zM412.4 900.1h3v2.1h-3zM407 902.4h7.7v3.2h-7.7zM409.9 905.7h5.9v3h-5.9zM415.9 905.7h1.3v3h-1.3zM407 909.1h3.7v2.6h-3.7zM410.7 909.1h5.8v2.6h-5.8zM416.4 909.1h2.4v2.6h-2.4zM414 911.8h4.3v2.8h-4.3zM407 915h6.3v2h-6.3zM407 917.3h4.2v2.8h-4.2zM411.2 917.3h6v2.8h-6zM407 920.5h2.5v2.3h-2.5zM409.5 920.5h3.7v2.3h-3.7zM416.2 923.3h2.3v2.1h-2.3zM407 925.9h4.1v2.3h-4.1zM415.3 925.9h2.1v2.3h-2.1zM416.4 928.2h2.4v2.3h-2.4zM407 930.8h2.7v2.5h-2.7zM417 930.8h1.1v2.5h-1.1zM407 933.3h6.6v2h-6.6zM413.6 933.3h3.5v2h-3.5zM412.7 935.4h4.2v3.1h-4.2zM416.9 935.4h1.7v3.1h-1.7zM407 938.8h5.7v2.7h-5.7zM412.7 938.8h3.7v2.7h-3.7zM416.4 938.8h0.9v2.7h-0.9zM407 942h6.3v3.1h-6.3zM413.3 942h4.1v3.1h-4.1zM417.4 942h1.6v3.1h-1.6zM407 945.3h4.1v2.7h-4.1zM411.1 945.3h2.7v2.7h-2.7zM413.8 945.3h4.3v2.7h-4.3zM418 945.3h0.6v2.7h-0.6zM407 948.1h4v2.7h-4zM411 948.1h5.3v2.7h-5.3zM416.2 948.1h1.3v2.7h-1.3zM407 951.1h3.8v2.5h-3.8zM410.8 951.1h5.1v2.5h-5.1zM415.9 951.1h2.9v2.5h-2.9zM414.5 956.6h3.7v2.8h-3.7zM407 959.6h4.4v3h-4.4zM407 963.2h7.7v2.3h-7.7zM414.7 963.2h2.4v2.3h-2.4zM407 965.6h2.6v3h-2.6zM409.6 965.6h5v3h-5zM414.5 965.6h2.7v3h-2.7zM407 968.9h3.2v2.2h-3.2zM410.2 968.9h3.2v2.2h-3.2zM407 971.2h5.5v2h-5.5zM415.7 971.2h2.3v2h-2.3zM412.6 973.3h5.4v3h-5.4zM414.6 976.9h2.6v3h-2.6zM410.9 982.3h3.6v2.3h-3.6zM416.1 984.9h1.3v2.9h-1.3zM407 987.9h7.8v2.6h-7.8zM414.8 987.9h3.9v2.6h-3.9zM407 990.6h2.8v2.4h-2.8zM409.8 990.6h6.1v2.4h-6.1zM412.5 993.5h5.5v3h-5.5zM414.7 996.8h2.6v3.1h-2.6zM412.4 1000.2h3.8v2.7h-3.8zM416.2 1000.2h2.2v2.7h-2.2zM407 1003.2h7.7v2.6h-7.7zM414.7 1003.2h2.9v2.6h-2.9zM410.7 1006.3h5.6v2.2h-5.6zM416.3 1006.3h2.6v2.2h-2.6zM407 1008.9h3.5v2.2h-3.5zM410.5 1008.9h6.6v2.2h-6.6zM407 1014.9h4.1v2.8h-4.1zM415.8 1014.9h1.2v2.8h-1.2zM414.9 1018.2h2.9v2.8h-2.9zM412.3 1021h3.7v2.3h-3.7zM416 1021h1.6v2.3h-1.6zM407 1023.5h7.9v2.8h-7.9zM414.9 1023.5h2.2v2.8h-2.2zM415 1026.5h3.5v3h-3.5zM407 1035.1h5.1v2.9h-5.1zM416.6 1035.1h2.1v2.9h-2.1zM407 1038.3h5.1v3.1h-5.1zM418 1038.3h0.5v3.1h-0.5zM407 1041.8h3.8v3.1h-3.8zM410.8 1041.8h3.2v3.1h-3.2zM407 1045.3h2.7v2.2h-2.7zM417.2 1045.3h1v2.2h-1zM407 1047.9h6.2v2.9h-6.2zM407 1050.9h2.9v2.5h-2.9zM413 1050.9h4.6v2.5h-4.6zM417.6 1050.9h0.7v2.5h-0.7zM407 1053.5h7.7v2.4h-7.7zM414.7 1053.5h3.7v2.4h-3.7zM412.3 1062.5h4.7v2.6h-4.7zM412.3 1065.7h4v3.1h-4zM407 1069.1h5.6v2.6h-5.6zM407 1072.1h5.8v2.6h-5.8zM412.8 1072.1h3.6v2.6h-3.6zM416.5 1072.1h2.5v2.6h-2.5zM407 1078.3h7.1v2.9h-7.1zM414.1 1078.3h4.4v2.9h-4.4zM409.8 1081.7h6.2v2.2h-6.2zM416 1081.7h1.6v2.2h-1.6zM407 1087.1h6.4v2.9h-6.4zM413.4 1087.1h2.7v2.9h-2.7z"/>
<path fill="#2a48f0" d="M414.6 699h3.9v2.7h-3.9zM407 702h2.5v2.2h-2.5zM414.4 707.2h3.6v3.2h-3.6zM412.5 713.4h4.7v3h-4.7zM414.8 716.8h2.7v3.1h-2.7zM412.8 720.3h4.7v2.3h-4.7zM407 722.9h4.7v2.8h-4.7zM407 726.4h6.1v3.2h-6.1zM407 729.6h5.6v2.8h-5.6zM412.6 729.6h3.9v2.8h-3.9zM416.5 729.6h2.3v2.8h-2.3zM407 732.5h6.2v3.1h-6.2zM413.2 732.5h3.3v3.1h-3.3zM411.2 738.6h4.1v2.3h-4.1zM407 744.6h4v3h-4zM415 753.5h3.5v2.3h-3.5zM418.5 753.5h0.5v2.3h-0.5zM407 756.1h6.3v2.7h-6.3zM416.1 756.1h2.2v2.7h-2.2zM410.1 759.4h4.4v3.1h-4.4zM416.6 762.8h1.4v2.1h-1.4zM407 765h7.1v2.5h-7.1zM414.2 767.7h2.8v2.7h-2.8zM407 773.5h5.2v2.5h-5.2zM412.2 773.5h5v2.5h-5zM409.8 776.2h3.5v2.1h-3.5zM413.3 776.2h5.4v2.1h-5.4zM414.7 778.9h2.4v2.4h-2.4zM407 781.8h4.8v2.3h-4.8zM411.8 781.8h3.2v2.3h-3.2zM415 781.8h2.9v2.3h-2.9zM412.3 784.3h4.2v2.3h-4.2zM416.5 784.3h2v2.3h-2zM407 786.9h6.3v2h-6.3zM413.3 786.9h5.5v2h-5.5zM407 789.4h3.7v2.3h-3.7zM411.8 792.2h4.9v2.7h-4.9zM416.5 795.2h1.8v2.5h-1.8zM417.4 797.9h1.1v2.4h-1.1zM407 802.9h3v2.7h-3zM416 802.9h2.9v2.7h-2.9zM412.2 808.7h3v2.3h-3zM407 811.5h6.6v3.1h-6.6zM413.3 817.9h2.5v2.5h-2.5zM415.8 817.9h2.5v2.5h-2.5zM414.2 820.9h3v2.4h-3zM412 823.8h6.8v2.9h-6.8zM407 827.2h7.4v2.6h-7.4zM407 830h3.7v3.1h-3.7zM412.1 835.5h5.7v3.1h-5.7zM407 838.6h4.2v2.3h-4.2zM411.2 838.6h7.1v2.3h-7.1zM407 841.4h3.4v3.1h-3.4zM410.4 841.4h5.6v3.1h-5.6zM413.9 844.9h3.1v2.9h-3.1zM418.1 847.9h0.8v2.3h-0.8zM412.5 850.3h5.5v2.7h-5.5zM413.5 853.4h3.5v3h-3.5zM407 856.9h6v2.5h-6zM407 862.1h6.9v2.2h-6.9zM413.9 862.1h4.9v2.2h-4.9zM412.6 864.5h4.8v2.5h-4.8zM407 867.5h5.3v2.6h-5.3zM407 870.4h2.8v2.3h-2.8zM407 873.2h7.1v3.2h-7.1zM407 876.7h5.9v2.6h-5.9zM412.9 876.7h4.4v2.6h-4.4zM407 879.3h5.8v2.1h-5.8zM412.8 879.3h3.3v2.1h-3.3zM407 882.1h7.9v2.8h-7.9zM407 888h4.3v3.1h-4.3zM415 891.2h3.2v2.2h-3.2zM412.5 893.5h4.1v2.5h-4.1zM407 896.5h5.3v3.2h-5.3zM415.3 900.1h2.4v2.1h-2.4zM414.7 902.4h3.5v3.2h-3.5zM407 905.7h2.9v3h-2.9zM407 911.8h3.1v2.8h-3.1zM410.1 911.8h4v2.8h-4zM413.3 915h4.4v2h-4.4zM413.2 920.5h4.8v2.3h-4.8zM407 923.3h4v2.1h-4zM411 923.3h5.2v2.1h-5.2zM411.1 925.9h4.2v2.3h-4.2zM407 928.2h5.4v2.3h-5.4zM412.4 928.2h4v2.3h-4zM409.7 930.8h2.6v2.5h-2.6zM412.3 930.8h4.6v2.5h-4.6zM407 935.4h5.7v3.1h-5.7zM407 953.7h3.7v2.7h-3.7zM410.7 953.7h7.4v2.7h-7.4zM407 956.6h7.5v2.8h-7.5zM418.2 956.6h0.8v2.8h-0.8zM411.4 959.6h3.1v3h-3.1zM414.5 959.6h2.6v3h-2.6zM413.4 968.9h4.1v2.2h-4.1zM412.5 971.2h3.2v2h-3.2zM407 973.3h5.6v3h-5.6zM407 976.9h7.6v3h-7.6zM407 980h6.5v2.3h-6.5zM413.5 980h4.7v2.3h-4.7zM407 982.3h3.9v2.3h-3.9zM414.4 982.3h3.9v2.3h-3.9zM407 984.9h2.9v2.9h-2.9zM409.9 984.9h6.2v2.9h-6.2zM415.9 990.6h2.1v2.4h-2.1zM407 993.5h5.5v3h-5.5zM407 996.8h7.7v3.1h-7.7zM407 1000.2h5.4v2.7h-5.4zM407 1006.3h3.7v2.2h-3.7zM407 1011.4h7v3.1h-7zM414 1011.4h3.7v3.1h-3.7zM417.6 1011.4h1.1v3.1h-1.1zM411.1 1014.9h4.7v2.8h-4.7zM407 1018.2h7.9v2.8h-7.9zM407 1021h5.3v2.3h-5.3zM407 1026.5h8v3h-8zM407 1029.8h3.8v2.6h-3.8zM410.8 1029.8h7.1v2.6h-7.1zM407 1033h7.2v2.1h-7.2zM414.2 1033h3.1v2.1h-3.1zM417.3 1033h1v2.1h-1zM412.1 1035.1h4.6v2.9h-4.6zM412.1 1038.3h5.9v3.1h-5.9zM414.1 1041.8h3.1v3.1h-3.1zM417.1 1041.8h1.9v3.1h-1.9zM409.7 1045.3h7.4v2.2h-7.4zM413.2 1047.9h5.1v2.9h-5.1zM418.3 1047.9h0.4v2.9h-0.4zM409.9 1050.9h3.1v2.5h-3.1zM407 1056.5h2.6v2.6h-2.6zM409.6 1056.5h4.8v2.6h-4.8zM414.4 1056.5h4v2.6h-4zM407 1059.4h5.4v3.1h-5.4zM412.4 1059.4h6.3v3.1h-6.3zM407 1062.5h5.3v2.6h-5.3zM407 1065.7h5.3v3.1h-5.3zM416.3 1065.7h0.7v3.1h-0.7zM412.6 1069.1h5.6v2.6h-5.6zM407 1075.3h6.3v2.4h-6.3zM413.3 1075.3h2.9v2.4h-2.9zM416.2 1075.3h1.8v2.4h-1.8zM407 1081.7h2.8v2.2h-2.8zM407 1084.1h7.2v2.6h-7.2zM414.2 1084.1h3.8v2.6h-3.8zM416.1 1087.1h2.2v2.9h-2.2z"/>
<path fill="#1420b0" d="M420.1 699h9v2.7h-9zM420.3 710.9h9v2.4h-9zM419.8 726.4h9v3.2h-9zM420.5 750.9h9v2.2h-9zM419.8 756.1h9v2.7h-9zM419.7 765h9v2.5h-9zM419.5 781.8h9v2.3h-9zM419.8 789.4h9v2.3h-9zM420 870.4h9v2.3h-9zM419.5 873.2h9v3.2h-9zM420.2 893.5h9v2.5h-9zM420.5 900.1h9v2.1h-9zM420.1 942h9v3.1h-9zM419.9 953.7h9v2.7h-9zM420 956.6h9v2.8h-9zM420.4 982.3h9v2.3h-9zM419.7 984.9h9v2.9h-9zM420.5 990.6h9v2.4h-9zM420.2 996.8h9v3.1h-9zM420.4 1021h9v2.3h-9zM419.8 1033h9v2.1h-9zM419.8 1045.3h9v2.2h-9zM420 1075.3h9v2.4h-9zM419.6 1078.3h9v2.9h-9z"/>
<path fill="#40e0b0" d="M429 699h3v2.7h-3zM429 702h3v2.2h-3zM429 704.7h3v2h-3zM429 707.2h3v3.2h-3zM429 710.9h3v2.4h-3zM429 713.4h3v3h-3zM429 716.8h3v3.1h-3zM429 720.3h3v2.3h-3zM429 722.9h3v2.8h-3zM429 726.4h3v3.2h-3zM429 729.6h3v2.8h-3zM429 732.5h3v3.1h-3zM429 736.1h3v2.5h-3zM429 738.6h3v2.3h-3zM429 741.2h3v3.1h-3zM429 744.6h3v3h-3zM429 747.6h3v3h-3zM429 750.9h3v2.2h-3zM429 753.5h3v2.3h-3zM429 756.1h3v2.7h-3zM429 759.4h3v3.1h-3zM429 762.8h3v2.1h-3zM429 765h3v2.5h-3zM429 767.7h3v2.7h-3zM429 770.7h3v2.8h-3zM429 773.5h3v2.5h-3zM429 776.2h3v2.1h-3zM429 778.9h3v2.4h-3zM429 781.8h3v2.3h-3zM429 784.3h3v2.3h-3zM429 786.9h3v2h-3zM429 789.4h3v2.3h-3zM429 792.2h3v2.7h-3zM429 795.2h3v2.5h-3zM429 797.9h3v2.4h-3zM429 800.5h3v2.1h-3zM429 802.9h3v2.7h-3zM429 806.1h3v2.4h-3zM429 808.7h3v2.3h-3zM429 811.5h3v3.1h-3zM429 814.6h3v2.8h-3zM429 817.9h3v2.5h-3zM429 820.9h3v2.4h-3zM429 823.8h3v2.9h-3zM429 827.2h3v2.6h-3zM429 830h3v3.1h-3zM429 833.1h3v2.2h-3zM429 835.5h3v3.1h-3zM429 838.6h3v2.3h-3zM429 841.4h3v3.1h-3zM429 844.9h3v2.9h-3zM429 847.9h3v2.3h-3zM429 850.3h3v2.7h-3zM429 853.4h3v3h-3zM429 856.9h3v2.5h-3zM429 859.6h3v2.2h-3zM429 862.1h3v2.2h-3zM429 864.5h3v2.5h-3zM429 867.5h3v2.6h-3zM429 870.4h3v2.3h-3zM429 873.2h3v3.2h-3zM429 876.7h3v2.6h-3zM429 879.3h3v2.1h-3zM429 882.1h3v2.8h-3zM429 885.2h3v2.3h-3zM429 888h3v3.1h-3zM429 891.2h3v2.2h-3zM429 893.5h3v2.5h-3zM429 896.5h3v3.2h-3zM429 900.1h3v2.1h-3zM429 902.4h3v3.2h-3zM429 905.7h3v3h-3zM429 909.1h3v2.6h-3zM429 911.8h3v2.8h-3zM429 915h3v2h-3zM429 917.3h3v2.8h-3zM429 920.5h3v2.3h-3zM429 923.3h3v2.1h-3zM429 925.9h3v2.3h-3zM429 928.2h3v2.3h-3zM429 930.8h3v2.5h-3zM429 933.3h3v2h-3zM429 935.4h3v3.1h-3zM429 938.8h3v2.7h-3zM429 942h3v3.1h-3zM429 945.3h3v2.7h-3zM429 948.1h3v2.7h-3zM429 951.1h3v2.5h-3zM429 953.7h3v2.7h-3zM429 956.6h3v2.8h-3zM429 959.6h3v3h-3zM429 963.2h3v2.3h-3zM429 965.6h3v3h-3zM429 968.9h3v2.2h-3zM429 971.2h3v2h-3zM429 973.3h3v3h-3zM429 976.9h3v3h-3zM429 980h3v2.3h-3zM429 982.3h3v2.3h-3zM429 984.9h3v2.9h-3zM429 987.9h3v2.6h-3zM429 990.6h3v2.4h-3zM429 993.5h3v3h-3zM429 996.8h3v3.1h-3zM429 1000.2h3v2.7h-3zM429 1003.2h3v2.6h-3zM429 1006.3h3v2.2h-3zM429 1008.9h3v2.2h-3zM429 1011.4h3v3.1h-3zM429 1014.9h3v2.8h-3zM429 1018.2h3v2.8h-3zM429 1021h3v2.3h-3zM429 1023.5h3v2.8h-3zM429 1026.5h3v3h-3zM429 1029.8h3v2.6h-3zM429 1033h3v2.1h-3zM429 1035.1h3v2.9h-3zM429 1038.3h3v3.1h-3zM429 1041.8h3v3.1h-3zM429 1045.3h3v2.2h-3zM429 1047.9h3v2.9h-3zM429 1050.9h3v2.5h-3zM429 1053.5h3v2.4h-3zM429 1056.5h3v2.6h-3zM429 1059.4h3v3.1h-3zM429 1062.5h3v2.6h-3zM429 1065.7h3v3.1h-3zM429 1069.1h3v2.6h-3zM429 1072.1h3v2.6h-3zM429 1075.3h3v2.4h-3zM429 1078.3h3v2.9h-3zM429 1081.7h3v2.2h-3zM429 1084.1h3v2.6h-3zM429 1087.1h3v2.9h-3z"/>
<path fill="#f0ee20" d="M432 699h11.5v2.7h-11.5zM432 702h12.3v2.2h-12.3zM432 704.7h11.5v2h-11.5zM432 707.2h11.8v3.2h-11.8zM432 710.9h12v2.4h-12zM432 713.4h12.4v3h-12.4zM432 716.8h12.7v3.1h-12.7zM432 720.3h12.4v2.3h-12.4zM432 722.9h11.9v2.8h-11.9zM432 726.4h11.5v3.2h-11.5zM432 729.6h11.6v2.8h-11.6zM432 732.5h11.8v3.1h-11.8zM432 736.1h11.5v2.5h-11.5zM432 738.6h12.6v2.3h-12.6zM432 741.2h12.6v3.1h-12.6zM432 744.6h11.7v3h-11.7zM432 747.6h11.6v3h-11.6zM432 750.9h12.6v2.2h-12.6zM432 753.5h11.5v2.3h-11.5zM432 756.1h12.2v2.7h-12.2zM432 759.4h12.3v3.1h-12.3zM432 762.8h11.4v2.1h-11.4zM432 765h12.6v2.5h-12.6zM432 767.7h12v2.7h-12zM432 770.7h11.3v2.8h-11.3zM432 773.5h11.7v2.5h-11.7zM432 776.2h11.9v2.1h-11.9zM432 778.9h11.7v2.4h-11.7zM432 781.8h11.7v2.3h-11.7zM432 784.3h12.3v2.3h-12.3zM432 786.9h12.2v2h-12.2zM432 789.4h12.4v2.3h-12.4zM432 792.2h11.5v2.7h-11.5zM432 795.2h12.2v2.5h-12.2zM432 797.9h11.5v2.4h-11.5zM432 800.5h12.2v2.1h-12.2zM432 802.9h12.2v2.7h-12.2zM432 806.1h12.1v2.4h-12.1zM432 808.7h12.5v2.3h-12.5zM432 811.5h11.6v3.1h-11.6zM432 814.6h11.7v2.8h-11.7zM432 817.9h12.3v2.5h-12.3zM432 820.9h11.8v2.4h-11.8zM432 823.8h12.3v2.9h-12.3zM432 827.2h11.8v2.6h-11.8zM432 830h11.9v3.1h-11.9zM432 833.1h12.6v2.2h-12.6zM432 835.5h12.4v3.1h-12.4zM432 838.6h11.8v2.3h-11.8zM432 841.4h11.6v3.1h-11.6zM432 844.9h12.5v2.9h-12.5zM432 847.9h12v2.3h-12zM432 850.3h11.4v2.7h-11.4zM432 853.4h12.2v3h-12.2zM432 856.9h11.7v2.5h-11.7zM432 859.6h11.7v2.2h-11.7zM432 862.1h12.6v2.2h-12.6zM432 864.5h11.9v2.5h-11.9zM432 867.5h11.5v2.6h-11.5zM432 870.4h11.5v2.3h-11.5zM432 873.2h11.4v3.2h-11.4zM432 876.7h11.9v2.6h-11.9zM432 879.3h12.4v2.1h-12.4zM432 882.1h11.5v2.8h-11.5zM432 885.2h12.2v2.3h-12.2zM432 888h11.3v3.1h-11.3zM432 891.2h12.5v2.2h-12.5zM432 893.5h11.4v2.5h-11.4zM432 896.5h12.1v3.2h-12.1zM432 900.1h12.5v2.1h-12.5zM432 902.4h12.5v3.2h-12.5zM432 905.7h11.4v3h-11.4zM432 909.1h12v2.6h-12zM432 911.8h12.3v2.8h-12.3zM432 915h12.3v2h-12.3zM432 917.3h12.6v2.8h-12.6zM432 920.5h11.7v2.3h-11.7zM432 923.3h12.2v2.1h-12.2zM432 925.9h12.6v2.3h-12.6zM432 928.2h11.8v2.3h-11.8zM432 930.8h12.1v2.5h-12.1zM432 933.3h11.5v2h-11.5zM432 935.4h11.4v3.1h-11.4zM432 938.8h12.2v2.7h-12.2zM432 942h12.3v3.1h-12.3zM432 945.3h12v2.7h-12zM432 948.1h12.5v2.7h-12.5zM432 951.1h11.9v2.5h-11.9zM432 953.7h11.5v2.7h-11.5zM432 956.6h11.5v2.8h-11.5zM432 959.6h11.6v3h-11.6zM432 963.2h11.6v2.3h-11.6zM432 965.6h11.6v3h-11.6zM432 968.9h11.7v2.2h-11.7zM432 971.2h12.3v2h-12.3zM432 973.3h12v3h-12zM432 976.9h12.4v3h-12.4zM432 980h11.9v2.3h-11.9zM432 982.3h11.6v2.3h-11.6zM432 984.9h11.8v2.9h-11.8zM432 987.9h12.5v2.6h-12.5zM432 990.6h11.7v2.4h-11.7zM432 993.5h11.8v3h-11.8zM432 996.8h12.5v3.1h-12.5zM432 1000.2h11.9v2.7h-11.9zM432 1003.2h11.8v2.6h-11.8zM432 1006.3h12v2.2h-12zM432 1008.9h12.3v2.2h-12.3zM432 1011.4h12.4v3.1h-12.4zM432 1014.9h12.6v2.8h-12.6zM432 1018.2h12.7v2.8h-12.7zM432 1021h11.3v2.3h-11.3zM432 1023.5h11.5v2.8h-11.5zM432 1026.5h11.7v3h-11.7zM432 1029.8h11.4v2.6h-11.4zM432 1033h11.7v2.1h-11.7zM432 1035.1h11.9v2.9h-11.9zM432 1038.3h12.4v3.1h-12.4zM432 1041.8h11.8v3.1h-11.8zM432 1045.3h11.6v2.2h-11.6zM432 1047.9h11.6v2.9h-11.6zM432 1050.9h11.6v2.5h-11.6zM432 1053.5h12.1v2.4h-12.1zM432 1056.5h12.6v2.6h-12.6zM432 1059.4h11.9v3.1h-11.9zM432 1062.5h11.6v2.6h-11.6zM432 1065.7h12.4v3.1h-12.4zM432 1069.1h12.4v2.6h-12.4zM432 1072.1h11.3v2.6h-11.3zM432 1075.3h12.6v2.4h-12.6zM432 1078.3h11.5v2.9h-11.5zM432 1081.7h12.7v2.2h-12.7zM432 1084.1h11.9v2.6h-11.9zM432 1087.1h12.6v2.9h-12.6z"/>
<path fill="#60f090" d="M444 699h3v2.7h-3zM444 702h3v2.2h-3zM444 704.7h3v2h-3zM444 707.2h3v3.2h-3zM444 710.9h3v2.4h-3zM444 713.4h3v3h-3zM444 716.8h3v3.1h-3zM444 720.3h3v2.3h-3zM444 722.9h3v2.8h-3zM444 726.4h3v3.2h-3zM444 729.6h3v2.8h-3zM444 732.5h3v3.1h-3zM444 736.1h3v2.5h-3zM444 738.6h3v2.3h-3zM444 741.2h3v3.1h-3zM444 744.6h3v3h-3zM444 747.6h3v3h-3zM444 750.9h3v2.2h-3zM444 753.5h3v2.3h-3zM444 756.1h3v2.7h-3zM444 759.4h3v3.1h-3zM444 762.8h3v2.1h-3zM444 765h3v2.5h-3zM444 767.7h3v2.7h-3zM444 770.7h3v2.8h-3zM444 773.5h3v2.5h-3zM444 776.2h3v2.1h-3zM444 778.9h3v2.4h-3zM444 781.8h3v2.3h-3zM444 784.3h3v2.3h-3zM444 786.9h3v2h-3zM444 789.4h3v2.3h-3zM444 792.2h3v2.7h-3zM444 795.2h3v2.5h-3zM444 797.9h3v2.4h-3zM444 800.5h3v2.1h-3zM444 802.9h3v2.7h-3zM444 806.1h3v2.4h-3zM444 808.7h3v2.3h-3zM444 811.5h3v3.1h-3zM444 814.6h3v2.8h-3zM444 817.9h3v2.5h-3zM444 820.9h3v2.4h-3zM444 823.8h3v2.9h-3zM444 827.2h3v2.6h-3zM444 830h3v3.1h-3zM444 833.1h3v2.2h-3zM444 835.5h3v3.1h-3zM444 838.6h3v2.3h-3zM444 841.4h3v3.1h-3zM444 844.9h3v2.9h-3zM444 847.9h3v2.3h-3zM444 850.3h3v2.7h-3zM444 853.4h3v3h-3zM444 856.9h3v2.5h-3zM444 859.6h3v2.2h-3zM444 862.1h3v2.2h-3zM444 864.5h3v2.5h-3zM444 867.5h3v2.6h-3zM444 870.4h3v2.3h-3zM444 873.2h3v3.2h-3zM444 876.7h3v2.6h-3zM444 879.3h3v2.1h-3zM444 882.1h3v2.8h-3zM444 885.2h3v2.3h-3zM444 888h3v3.1h-3zM444 891.2h3v2.2h-3zM444 893.5h3v2.5h-3zM444 896.5h3v3.2h-3zM444 900.1h3v2.1h-3zM444 902.4h3v3.2h-3zM444 905.7h3v3h-3zM444 909.1h3v2.6h-3zM444 911.8h3v2.8h-3zM444 915h3v2h-3zM444 917.3h3v2.8h-3zM444 920.5h3v2.3h-3zM444 923.3h3v2.1h-3zM444 925.9h3v2.3h-3zM444 928.2h3v2.3h-3zM444 930.8h3v2.5h-3zM444 933.3h3v2h-3zM444 935.4h3v3.1h-3zM444 938.8h3v2.7h-3zM444 942h3v3.1h-3zM444 945.3h3v2.7h-3zM444 948.1h3v2.7h-3zM444 951.1h3v2.5h-3zM444 953.7h3v2.7h-3zM444 956.6h3v2.8h-3zM444 959.6h3v3h-3zM444 963.2h3v2.3h-3zM444 965.6h3v3h-3zM444 968.9h3v2.2h-3zM444 971.2h3v2h-3zM444 973.3h3v3h-3zM444 976.9h3v3h-3zM444 980h3v2.3h-3zM444 982.3h3v2.3h-3zM444 984.9h3v2.9h-3zM444 987.9h3v2.6h-3zM444 990.6h3v2.4h-3zM444 993.5h3v3h-3zM444 996.8h3v3.1h-3zM444 1000.2h3v2.7h-3zM444 1003.2h3v2.6h-3zM444 1006.3h3v2.2h-3zM444 1008.9h3v2.2h-3zM444 1011.4h3v3.1h-3zM444 1014.9h3v2.8h-3zM444 1018.2h3v2.8h-3zM444 1021h3v2.3h-3zM444 1023.5h3v2.8h-3zM444 1026.5h3v3h-3zM444 1029.8h3v2.6h-3zM444 1033h3v2.1h-3zM444 1035.1h3v2.9h-3zM444 1038.3h3v3.1h-3zM444 1041.8h3v3.1h-3zM444 1045.3h3v2.2h-3zM444 1047.9h3v2.9h-3zM444 1050.9h3v2.5h-3zM444 1053.5h3v2.4h-3zM444 1056.5h3v2.6h-3zM444 1059.4h3v3.1h-3zM444 1062.5h3v2.6h-3zM444 1065.7h3v3.1h-3zM444 1069.1h3v2.6h-3zM444 1072.1h3v2.6h-3zM444 1075.3h3v2.4h-3zM444 1078.3h3v2.9h-3zM444 1081.7h3v2.2h-3zM444 1084.1h3v2.6h-3zM444 1087.1h3v2.9h-3z"/>
<path fill="#4e9cf6" d="M447 699h3.9v2.7h-3.9zM450.9 699h5.7v2.7h-5.7zM456.5 699h3.7v2.7h-3.7zM447 702h7.9v2.2h-7.9zM450.3 704.7h8v2h-8zM461.1 704.7h5.4v2h-5.4zM451 707.2h7.3v3.2h-7.3zM447 713.4h4.5v3h-4.5zM465.1 713.4h5.5v3h-5.5zM447 716.8h4.8v3.1h-4.8zM451.8 716.8h7.9v3.1h-7.9zM459.7 716.8h4.1v3.1h-4.1zM466.9 716.8h3v3.1h-3zM447 720.3h5.4v2.3h-5.4zM452.4 720.3h4.1v2.3h-4.1zM456.6 720.3h5.1v2.3h-5.1zM468.2 720.3h1v2.3h-1zM453.8 722.9h3.3v2.8h-3.3zM457.1 722.9h5.5v2.8h-5.5zM462.6 722.9h4.3v2.8h-4.3zM447 726.4h4.8v3.2h-4.8zM451.8 726.4h5.9v3.2h-5.9zM457.7 726.4h3.1v3.2h-3.1zM460.8 726.4h2.9v3.2h-2.9zM469.4 726.4h1.1v3.2h-1.1zM447 729.6h6.6v2.8h-6.6zM462.9 729.6h3v2.8h-3zM465.9 729.6h3.5v2.8h-3.5zM447 736.1h3.8v2.5h-3.8zM451.9 738.6h2.5v2.3h-2.5zM454.4 738.6h6.8v2.3h-6.8zM461.2 738.6h2.7v2.3h-2.7zM463.9 738.6h6.6v2.3h-6.6zM452 741.2h3.7v3.1h-3.7zM455.7 741.2h4.2v3.1h-4.2zM466.7 741.2h2.6v3.1h-2.6zM453.7 744.6h2.7v3h-2.7zM456.4 744.6h3.2v3h-3.2zM466.8 744.6h1.5v3h-1.5zM451.5 747.6h3.8v3h-3.8zM466.3 747.6h4v3h-4zM447 750.9h6.2v2.2h-6.2zM453.2 750.9h6.9v2.2h-6.9zM465.8 750.9h4.9v2.2h-4.9zM457.1 753.5h3.7v2.3h-3.7zM464.7 753.5h6v2.3h-6zM450.8 756.1h7.1v2.7h-7.1zM457.9 756.1h3.1v2.7h-3.1zM460.9 756.1h3.4v2.7h-3.4zM447 759.4h5.7v3.1h-5.7zM457 759.4h5.4v3.1h-5.4zM462.4 759.4h4.8v3.1h-4.8zM467.2 759.4h4v3.1h-4zM447 762.8h6.7v2.1h-6.7zM461 762.8h7.1v2.1h-7.1zM447 765h3.5v2.5h-3.5zM459 765h3.3v2.5h-3.3zM454.7 767.7h7.9v2.7h-7.9zM466 767.7h2.9v2.7h-2.9zM468.9 767.7h1.9v2.7h-1.9zM447 770.7h7v2.8h-7zM454 770.7h7.3v2.8h-7.3zM461.3 770.7h5.7v2.8h-5.7zM462.8 773.5h7.1v2.5h-7.1zM449.6 776.2h4.1v2.1h-4.1zM459.1 776.2h7.7v2.1h-7.7zM447 778.9h3.9v2.4h-3.9zM457.6 778.9h3.2v2.4h-3.2zM470.2 778.9h0.8v2.4h-0.8zM447 781.8h6.1v2.3h-6.1zM450.9 784.3h3.3v2.3h-3.3zM456.8 784.3h3.1v2.3h-3.1zM464.8 784.3h3.4v2.3h-3.4zM454.4 786.9h4.9v2h-4.9zM459.3 786.9h4.3v2h-4.3zM469.8 786.9h0.8v2h-0.8zM447 789.4h6.2v2.3h-6.2zM453.2 789.4h5.4v2.3h-5.4zM464.6 789.4h4.6v2.3h-4.6zM447 792.2h6.5v2.7h-6.5zM456.6 792.2h7.5v2.7h-7.5zM447 795.2h7.6v2.5h-7.6zM454.6 795.2h5.2v2.5h-5.2zM459.9 795.2h5.4v2.5h-5.4zM447 797.9h5.7v2.4h-5.7zM452.7 797.9h2.5v2.4h-2.5zM455.2 797.9h3.8v2.4h-3.8zM447 800.5h3.8v2.1h-3.8zM450.8 800.5h7.4v2.1h-7.4zM458.2 800.5h3.9v2.1h-3.9zM462.1 800.5h5.2v2.1h-5.2zM454.8 802.9h7.1v2.7h-7.1zM454 806.1h4.8v2.4h-4.8zM469.2 806.1h2.3v2.4h-2.3zM447 808.7h6.2v2.3h-6.2zM458 808.7h5.8v2.3h-5.8zM463.8 808.7h3.8v2.3h-3.8zM467.5 808.7h4.2v2.3h-4.2zM447 811.5h3.1v3.1h-3.1zM457.9 811.5h4.4v3.1h-4.4zM466.3 811.5h2.6v3.1h-2.6zM460.2 814.6h6.6v2.8h-6.6zM466.8 814.6h4v2.8h-4zM447 817.9h5.7v2.5h-5.7zM452.7 817.9h3.8v2.5h-3.8zM462.3 817.9h5.8v2.5h-5.8zM456.1 823.8h3.6v2.9h-3.6zM459.7 823.8h5.5v2.9h-5.5zM465.2 823.8h4.3v2.9h-4.3zM447 827.2h2.5v2.6h-2.5zM469 827.2h1.3v2.6h-1.3zM454.6 830h4v3.1h-4zM458.6 830h5.3v3.1h-5.3zM463.9 830h4.7v3.1h-4.7zM447 833.1h3.2v2.2h-3.2zM450.2 833.1h6.4v2.2h-6.4zM450.5 835.5h5.7v3.1h-5.7zM456.2 835.5h7.4v3.1h-7.4zM458.5 838.6h6.6v2.3h-6.6zM465.1 838.6h3.3v2.3h-3.3zM468.4 838.6h3v2.3h-3zM466.6 841.4h4.9v3.1h-4.9zM447 844.9h4.8v2.9h-4.8zM463 844.9h6v2.9h-6zM469.1 844.9h1.5v2.9h-1.5zM447 847.9h5.3v2.3h-5.3zM452.3 847.9h6.2v2.3h-6.2zM458.5 847.9h3.7v2.3h-3.7zM462.1 847.9h5.2v2.3h-5.2zM461.9 850.3h6.3v2.7h-6.3zM447 853.4h5.7v3h-5.7zM452.7 853.4h7.4v3h-7.4zM465.8 853.4h4.3v3h-4.3zM470.2 853.4h1.6v3h-1.6zM454.5 856.9h7.8v2.5h-7.8zM462.4 856.9h2.9v2.5h-2.9zM465.2 856.9h4.5v2.5h-4.5zM447 859.6h4.1v2.2h-4.1zM451.1 859.6h3.8v2.2h-3.8zM454.9 859.6h7.4v2.2h-7.4zM462.3 859.6h3.7v2.2h-3.7zM452.7 864.5h4.9v2.5h-4.9zM457.6 864.5h6.5v2.5h-6.5zM464.1 864.5h4.4v2.5h-4.4zM447 867.5h5.6v2.6h-5.6zM458.7 867.5h7.7v2.6h-7.7zM466.4 867.5h3v2.6h-3zM447 870.4h3.6v2.3h-3.6zM453.1 870.4h7.8v2.3h-7.8zM447 873.2h5.8v3.2h-5.8zM452.8 873.2h4.4v3.2h-4.4zM457.2 873.2h2.6v3.2h-2.6zM447 876.7h6.6v2.6h-6.6zM447 879.3h7.8v2.1h-7.8zM465.2 879.3h5.2v2.1h-5.2zM453.2 882.1h8v2.8h-8zM468.3 882.1h0.9v2.8h-0.9zM447 885.2h6.4v2.3h-6.4zM453.4 885.2h3.5v2.3h-3.5zM447 888h4.5v3.1h-4.5zM456 888h6.6v3.1h-6.6zM465.7 888h4.9v3.1h-4.9zM447 891.2h5.7v2.2h-5.7zM452.7 891.2h3.8v2.2h-3.8zM464.2 891.2h3.5v2.2h-3.5zM447 893.5h6.1v2.5h-6.1zM453.1 893.5h3.1v2.5h-3.1zM450.3 896.5h5.5v3.2h-5.5zM455.7 896.5h7v3.2h-7zM468.1 896.5h3v3.2h-3zM455 900.1h7.1v2.1h-7.1zM462.1 900.1h5.9v2.1h-5.9zM467.9 900.1h4v2.1h-4zM447 902.4h3.7v3.2h-3.7zM466.4 902.4h3v3.2h-3zM469.4 902.4h1.7v3.2h-1.7zM447 905.7h4.2v3h-4.2zM451.2 905.7h5.6v3h-5.6zM456.8 905.7h5.4v3h-5.4zM462.2 905.7h5.5v3h-5.5zM449.9 909.1h4.9v2.6h-4.9zM454.8 909.1h2.9v2.6h-2.9zM463.1 909.1h5.4v2.6h-5.4zM447 911.8h2.7v2.8h-2.7zM454.1 911.8h5.2v2.8h-5.2zM459.3 911.8h3.4v2.8h-3.4zM462.7 911.8h4.4v2.8h-4.4zM462 915h3v2h-3zM464.9 915h6.1v2h-6.1zM447 917.3h4.3v2.8h-4.3zM458.1 917.3h7.7v2.8h-7.7zM465.9 917.3h3.5v2.8h-3.5zM447 920.5h6.6v2.3h-6.6zM460.7 920.5h5.6v2.3h-5.6zM453.2 923.3h3.1v2.1h-3.1zM456.2 923.3h3.3v2.1h-3.3zM462.7 923.3h5.7v2.1h-5.7zM447 925.9h3.2v2.3h-3.2zM450.2 925.9h7.5v2.3h-7.5zM460.6 925.9h4.8v2.3h-4.8zM459.6 928.2h7.7v2.3h-7.7zM467.3 928.2h2v2.3h-2zM447 930.8h4.7v2.5h-4.7zM451.7 930.8h2.8v2.5h-2.8zM454.5 930.8h2.9v2.5h-2.9zM457.4 930.8h5.2v2.5h-5.2zM462.5 930.8h4.5v2.5h-4.5zM447 933.3h2.8v2h-2.8zM464.1 933.3h4.1v2h-4.1zM447 935.4h6.8v3.1h-6.8zM464.7 935.4h5.7v3.1h-5.7zM447 938.8h4.9v2.7h-4.9zM454.5 938.8h5.8v2.7h-5.8zM469.9 938.8h0.8v2.7h-0.8zM450.6 942h3.7v3.1h-3.7zM454.3 942h6.1v3.1h-6.1zM465.9 942h3.1v3.1h-3.1zM468.9 942h2.6v3.1h-2.6zM447 945.3h3.5v2.7h-3.5zM457.2 945.3h3.4v2.7h-3.4zM447 948.1h3.4v2.7h-3.4zM450.4 948.1h3.8v2.7h-3.8zM457.9 948.1h6.4v2.7h-6.4zM451.1 951.1h5.9v2.5h-5.9zM447 953.7h4.1v2.7h-4.1zM451.1 953.7h2.8v2.7h-2.8zM457.8 956.6h5.2v2.8h-5.2zM463 956.6h4.7v2.8h-4.7zM447 959.6h6.4v3h-6.4zM457.7 959.6h7.6v3h-7.6zM452.1 963.2h6.7v2.3h-6.7zM458.7 963.2h3.2v2.3h-3.2zM461.9 963.2h3.9v2.3h-3.9zM465.8 963.2h2.3v2.3h-2.3zM447 965.6h7v3h-7zM454 965.6h5.2v3h-5.2zM460 968.9h5.3v2.2h-5.3zM465.3 968.9h3.3v2.2h-3.3zM447 971.2h4.3v2h-4.3zM465.3 971.2h4.1v2h-4.1zM458.3 973.3h6.2v3h-6.2zM464.5 973.3h3.7v3h-3.7zM468.3 973.3h3.7v3h-3.7zM447 976.9h3.2v3h-3.2zM457.9 976.9h7.3v3h-7.3zM460.5 980h3.1v2.3h-3.1zM447 982.3h5.5v2.3h-5.5zM460.1 982.3h5.3v2.3h-5.3zM447 984.9h3.4v2.9h-3.4zM453.3 984.9h4v2.9h-4zM457.3 984.9h3.4v2.9h-3.4zM460.6 984.9h7.8v2.9h-7.8zM468.5 984.9h1.9v2.9h-1.9zM447 987.9h4.3v2.6h-4.3zM456.2 987.9h2.7v2.6h-2.7zM466.1 987.9h4.3v2.6h-4.3zM447 990.6h3v2.4h-3zM450 990.6h6.2v2.4h-6.2zM466 990.6h3.2v2.4h-3.2zM447 993.5h2.6v3h-2.6zM449.6 993.5h3.6v3h-3.6zM468.2 993.5h1.3v3h-1.3zM450 996.8h2.8v3.1h-2.8zM457.6 996.8h6.6v3.1h-6.6zM447 1000.2h4.3v2.7h-4.3zM451.3 1000.2h4.7v2.7h-4.7zM456 1000.2h4.1v2.7h-4.1zM460.1 1000.2h5v2.7h-5zM453.3 1003.2h3.3v2.6h-3.3zM447 1006.3h6.9v2.2h-6.9zM453.9 1006.3h3.8v2.2h-3.8zM464.1 1006.3h5.8v2.2h-5.8zM447 1008.9h4.2v2.2h-4.2zM451.2 1008.9h3.9v2.2h-3.9zM455.1 1008.9h3.1v2.2h-3.1zM458.2 1008.9h7.1v2.2h-7.1zM447 1011.4h6.9v3.1h-6.9zM451.8 1014.9h3.7v2.8h-3.7zM455.4 1014.9h7.5v2.8h-7.5zM447 1021h4.5v2.3h-4.5zM451.5 1021h7.1v2.3h-7.1zM458.6 1021h2.6v2.3h-2.6zM461.1 1021h6.9v2.3h-6.9zM447 1023.5h5v2.8h-5zM452 1023.5h4.8v2.8h-4.8zM462.8 1023.5h6v2.8h-6zM447 1026.5h3.7v3h-3.7zM455.4 1026.5h5.6v3h-5.6zM460.9 1026.5h2.6v3h-2.6zM452.9 1029.8h7.5v2.6h-7.5zM447 1033h4.9v2.1h-4.9zM463.5 1035.1h7.6v2.9h-7.6zM447 1038.3h2.6v3.1h-2.6zM449.6 1038.3h4.3v3.1h-4.3zM453.9 1038.3h4.1v3.1h-4.1zM464.5 1038.3h3.7v3.1h-3.7zM447 1041.8h5.4v3.1h-5.4zM464.3 1041.8h5.4v3.1h-5.4zM447 1045.3h7.1v2.2h-7.1zM454.1 1045.3h5.3v2.2h-5.3zM462 1045.3h5.3v2.2h-5.3zM467.3 1045.3h3.4v2.2h-3.4zM447 1047.9h6.9v2.9h-6.9zM453.9 1047.9h3.3v2.9h-3.3zM447 1050.9h7.6v2.5h-7.6zM447 1053.5h6.9v2.4h-6.9zM453.9 1053.5h3.3v2.4h-3.3zM457.1 1053.5h4.8v2.4h-4.8zM462 1053.5h6.4v2.4h-6.4zM447 1056.5h5v2.6h-5zM452 1056.5h4.3v2.6h-4.3zM447 1059.4h4.7v3.1h-4.7zM463.1 1059.4h2.7v3.1h-2.7zM465.8 1059.4h5.3v3.1h-5.3zM447 1062.5h3.8v2.6h-3.8zM462.5 1062.5h6.2v2.6h-6.2zM447 1065.7h4.9v3.1h-4.9zM451.9 1065.7h5v3.1h-5zM460.3 1065.7h7.2v3.1h-7.2zM447 1069.1h7v2.6h-7zM454 1069.1h3.9v2.6h-3.9zM457.9 1069.1h5.7v2.6h-5.7zM447 1072.1h5.5v2.6h-5.5zM452.5 1072.1h3.1v2.6h-3.1zM459.6 1072.1h3.1v2.6h-3.1zM462.6 1072.1h2.9v2.6h-2.9zM465.5 1072.1h4.9v2.6h-4.9zM447 1075.3h5.2v2.4h-5.2zM462 1075.3h4.2v2.4h-4.2zM466.2 1075.3h4.3v2.4h-4.3zM447 1078.3h4.7v2.9h-4.7zM451.7 1078.3h3v2.9h-3zM457.5 1078.3h3.5v2.9h-3.5zM461 1078.3h5.4v2.9h-5.4zM466.4 1078.3h3.5v2.9h-3.5zM457 1081.7h6.3v2.2h-6.3zM447 1084.1h4.5v2.6h-4.5zM454 1084.1h2.9v2.6h-2.9zM460.9 1084.1h2.9v2.6h-2.9zM447 1087.1h7.6v2.9h-7.6zM460.3 1087.1h2.7v2.9h-2.7zM463 1087.1h6.5v2.9h-6.5z"/>
<path fill="#3060f0" d="M460.2 699h7.5v2.7h-7.5zM467.7 699h2.1v2.7h-2.1zM454.9 702h6.6v2.2h-6.6zM461.5 702h2.6v2.2h-2.6zM464.1 702h4.1v2.2h-4.1zM447 704.7h3.3v2h-3.3zM458.3 704.7h2.8v2h-2.8zM466.5 704.7h1.8v2h-1.8zM447 707.2h4v3.2h-4zM458.3 707.2h6.8v3.2h-6.8zM465.1 707.2h3.3v3.2h-3.3zM447 710.9h6.5v2.4h-6.5zM453.5 710.9h3.4v2.4h-3.4zM456.9 710.9h5.7v2.4h-5.7zM462.6 710.9h4.8v2.4h-4.8zM467.4 710.9h3.4v2.4h-3.4zM451.5 713.4h5.8v3h-5.8zM457.3 713.4h7.8v3h-7.8zM463.8 716.8h3.2v3.1h-3.2zM461.6 720.3h6.6v2.3h-6.6zM447 722.9h6.8v2.8h-6.8zM466.9 722.9h2.2v2.8h-2.2zM463.7 726.4h5.7v3.2h-5.7zM453.6 729.6h6.4v2.8h-6.4zM460 729.6h3v2.8h-3zM447 732.5h3.3v3.1h-3.3zM450.3 732.5h6.1v3.1h-6.1zM456.3 732.5h4.9v3.1h-4.9zM461.2 732.5h5.3v3.1h-5.3zM466.5 732.5h3v3.1h-3zM450.8 736.1h2.7v2.5h-2.7zM453.5 736.1h4.5v2.5h-4.5zM458 736.1h6.3v2.5h-6.3zM464.3 736.1h4.9v2.5h-4.9zM447 738.6h4.9v2.3h-4.9zM447 741.2h5v3.1h-5zM459.9 741.2h6.7v3.1h-6.7zM447 744.6h6.7v3h-6.7zM459.6 744.6h7.2v3h-7.2zM447 747.6h4.5v3h-4.5zM455.3 747.6h3.9v3h-3.9zM459.2 747.6h7.1v3h-7.1zM460.1 750.9h5.8v2.2h-5.8zM447 753.5h5.5v2.3h-5.5zM452.5 753.5h4.6v2.3h-4.6zM460.8 753.5h4v2.3h-4zM447 756.1h3.8v2.7h-3.8zM464.3 756.1h3.3v2.7h-3.3zM467.6 756.1h3.1v2.7h-3.1zM470.7 756.1h1v2.7h-1zM452.7 759.4h4.4v3.1h-4.4zM453.7 762.8h7.3v2.1h-7.3zM450.5 765h4v2.5h-4zM454.5 765h4.6v2.5h-4.6zM462.4 765h5.8v2.5h-5.8zM447 767.7h7.7v2.7h-7.7zM462.6 767.7h3.4v2.7h-3.4zM467.1 770.7h1.1v2.8h-1.1zM447 773.5h5.4v2.5h-5.4zM452.4 773.5h5.6v2.5h-5.6zM458 773.5h4.8v2.5h-4.8zM447 776.2h2.6v2.1h-2.6zM453.7 776.2h5.3v2.1h-5.3zM466.8 776.2h2.1v2.1h-2.1zM450.9 778.9h6.7v2.4h-6.7zM460.8 778.9h6.3v2.4h-6.3zM467.1 778.9h3.1v2.4h-3.1zM453.1 781.8h7.1v2.3h-7.1zM460.2 781.8h4.4v2.3h-4.4zM464.6 781.8h5.3v2.3h-5.3zM469.9 781.8h1.5v2.3h-1.5zM447 784.3h3.9v2.3h-3.9zM454.2 784.3h2.6v2.3h-2.6zM459.9 784.3h4.9v2.3h-4.9zM447 786.9h7.4v2h-7.4zM463.6 786.9h6.3v2h-6.3zM458.6 789.4h6v2.3h-6zM453.5 792.2h3.1v2.7h-3.1zM464.1 792.2h2.9v2.7h-2.9zM467.1 792.2h2.7v2.7h-2.7zM465.3 795.2h3.4v2.5h-3.4zM459 797.9h6.2v2.4h-6.2zM465.2 797.9h2.9v2.4h-2.9zM467.3 800.5h0.8v2.1h-0.8zM447 802.9h7.8v2.7h-7.8zM461.8 802.9h4.8v2.7h-4.8zM466.7 802.9h4.1v2.7h-4.1zM447 806.1h4.2v2.4h-4.2zM451.2 806.1h2.7v2.4h-2.7zM458.8 806.1h3.9v2.4h-3.9zM462.7 806.1h6.4v2.4h-6.4zM453.2 808.7h4.8v2.3h-4.8zM450.1 811.5h7.7v3.1h-7.7zM462.3 811.5h4v3.1h-4zM447 814.6h5.9v2.8h-5.9zM452.9 814.6h3.3v2.8h-3.3zM456.1 814.6h4.1v2.8h-4.1zM470.7 814.6h0.8v2.8h-0.8zM456.5 817.9h5.8v2.5h-5.8zM468.1 817.9h1.6v2.5h-1.6zM447 820.9h4.5v2.4h-4.5zM451.5 820.9h3.6v2.4h-3.6zM455.1 820.9h7.4v2.4h-7.4zM462.4 820.9h4v2.4h-4zM466.4 820.9h2.6v2.4h-2.6zM447 823.8h5.1v2.9h-5.1zM452.1 823.8h4v2.9h-4zM449.5 827.2h7.4v2.6h-7.4zM456.9 827.2h6.3v2.6h-6.3zM463.2 827.2h5.8v2.6h-5.8zM447 830h7.6v3.1h-7.6zM468.6 830h1.1v3.1h-1.1zM456.6 833.1h3v2.2h-3zM459.6 833.1h7.6v2.2h-7.6zM467.2 833.1h2.8v2.2h-2.8zM470 833.1h0.6v2.2h-0.6zM447 835.5h3.5v3.1h-3.5zM463.6 835.5h6v3.1h-6zM447 838.6h4.8v2.3h-4.8zM451.8 838.6h6.6v2.3h-6.6zM447 841.4h5.7v3.1h-5.7zM452.7 841.4h8v3.1h-8zM460.7 841.4h5.9v3.1h-5.9zM451.8 844.9h7.8v2.9h-7.8zM459.7 844.9h3.3v2.9h-3.3zM467.3 847.9h3.9v2.3h-3.9zM447 850.3h2.6v2.7h-2.6zM449.6 850.3h5.1v2.7h-5.1zM454.8 850.3h7.1v2.7h-7.1zM468.2 850.3h1.7v2.7h-1.7zM460.1 853.4h5.7v3h-5.7zM447 856.9h7.5v2.5h-7.5zM469.8 856.9h0.6v2.5h-0.6zM466 859.6h2.3v2.2h-2.3zM447 862.1h5.9v2.2h-5.9zM452.9 862.1h2.8v2.2h-2.8zM455.7 862.1h6.9v2.2h-6.9zM462.6 862.1h4.8v2.2h-4.8zM467.4 862.1h1.6v2.2h-1.6zM447 864.5h5.7v2.5h-5.7zM468.5 864.5h2.5v2.5h-2.5zM452.6 867.5h6v2.6h-6zM450.6 870.4h2.6v2.3h-2.6zM460.9 870.4h7.1v2.3h-7.1zM468 870.4h0.9v2.3h-0.9zM459.8 873.2h4.6v3.2h-4.6zM464.4 873.2h5.9v3.2h-5.9zM453.6 876.7h7.1v2.6h-7.1zM460.7 876.7h6v2.6h-6zM466.7 876.7h1.9v2.6h-1.9zM454.8 879.3h4.6v2.1h-4.6zM459.4 879.3h5.7v2.1h-5.7zM447 882.1h6.2v2.8h-6.2zM461.2 882.1h7.1v2.8h-7.1zM456.9 885.2h6.7v2.3h-6.7zM463.6 885.2h5.3v2.3h-5.3zM468.9 885.2h0.7v2.3h-0.7zM451.5 888h4.5v3.1h-4.5zM462.6 888h3.1v3.1h-3.1zM456.5 891.2h3.9v2.2h-3.9zM460.4 891.2h3.8v2.2h-3.8zM467.8 891.2h1.3v2.2h-1.3zM456.2 893.5h4.4v2.5h-4.4zM460.6 893.5h7.8v2.5h-7.8zM468.4 893.5h2v2.5h-2zM447 896.5h3.3v3.2h-3.3zM462.7 896.5h2.7v3.2h-2.7zM465.4 896.5h2.7v3.2h-2.7zM447 900.1h5.3v2.1h-5.3zM452.3 900.1h2.7v2.1h-2.7zM450.7 902.4h2.8v3.2h-2.8zM453.5 902.4h2.9v3.2h-2.9zM456.4 902.4h6.9v3.2h-6.9zM463.3 902.4h3.1v3.2h-3.1zM467.7 905.7h3.6v3h-3.6zM447 909.1h2.9v2.6h-2.9zM457.7 909.1h5.3v2.6h-5.3zM449.7 911.8h4.4v2.8h-4.4zM467.1 911.8h4.5v2.8h-4.5zM447 915h7.5v2h-7.5zM454.5 915h7.5v2h-7.5zM451.3 917.3h6.8v2.8h-6.8zM453.6 920.5h3.2v2.3h-3.2zM456.8 920.5h4v2.3h-4zM466.3 920.5h4.1v2.3h-4.1zM447 923.3h6.2v2.1h-6.2zM459.6 923.3h3.1v2.1h-3.1zM468.4 923.3h1.1v2.1h-1.1zM457.7 925.9h2.9v2.3h-2.9zM465.3 925.9h4.4v2.3h-4.4zM447 928.2h4.8v2.3h-4.8zM451.8 928.2h7.8v2.3h-7.8zM467 930.8h3.9v2.5h-3.9zM449.8 933.3h6.5v2h-6.5zM456.3 933.3h7.8v2h-7.8zM453.8 935.4h3.5v3.1h-3.5zM457.3 935.4h3.8v3.1h-3.8zM461.2 935.4h3.5v3.1h-3.5zM451.9 938.8h2.6v2.7h-2.6zM460.3 938.8h6v2.7h-6zM466.3 938.8h3.6v2.7h-3.6zM447 942h3.6v3.1h-3.6zM460.5 942h2.6v3.1h-2.6zM463 942h2.9v3.1h-2.9zM450.5 945.3h6.7v2.7h-6.7zM460.6 945.3h7.3v2.7h-7.3zM468 945.3h2.4v2.7h-2.4zM454.2 948.1h3.7v2.7h-3.7zM464.2 948.1h5.4v2.7h-5.4zM469.6 948.1h1.9v2.7h-1.9zM447 951.1h4.1v2.5h-4.1zM457 951.1h3v2.5h-3zM460.1 951.1h5.8v2.5h-5.8zM465.9 951.1h2.7v2.5h-2.7zM468.6 951.1h0.6v2.5h-0.6zM453.9 953.7h5.8v2.7h-5.8zM459.7 953.7h4.9v2.7h-4.9zM464.6 953.7h5v2.7h-5zM447 956.6h4v2.8h-4zM451 956.6h6.7v2.8h-6.7zM467.7 956.6h1.8v2.8h-1.8zM453.4 959.6h4.4v3h-4.4zM465.4 959.6h5.3v3h-5.3zM447 963.2h5.1v2.3h-5.1zM459.2 965.6h5.8v3h-5.8zM465 965.6h6.3v3h-6.3zM447 968.9h6.9v2.2h-6.9zM453.9 968.9h6.1v2.2h-6.1zM451.3 971.2h2.7v2h-2.7zM454 971.2h6.2v2h-6.2zM460.2 971.2h5.1v2h-5.1zM447 973.3h5.2v3h-5.2zM452.2 973.3h6.1v3h-6.1zM450.2 976.9h2.5v3h-2.5zM452.7 976.9h5.2v3h-5.2zM465.2 976.9h4.3v3h-4.3zM469.5 976.9h2v3h-2zM447 980h7.6v2.3h-7.6zM454.6 980h5.9v2.3h-5.9zM463.6 980h4.3v2.3h-4.3zM468 980h3.5v2.3h-3.5zM452.5 982.3h7.6v2.3h-7.6zM465.4 982.3h4.2v2.3h-4.2zM450.4 984.9h2.9v2.9h-2.9zM451.3 987.9h4.8v2.6h-4.8zM458.9 987.9h7.2v2.6h-7.2zM456.1 990.6h2.7v2.4h-2.7zM458.8 990.6h7.1v2.4h-7.1zM453.2 993.5h4.2v3h-4.2zM457.4 993.5h2.5v3h-2.5zM459.9 993.5h4.5v3h-4.5zM464.4 993.5h3.7v3h-3.7zM447 996.8h3v3.1h-3zM452.8 996.8h4.8v3.1h-4.8zM464.2 996.8h5.5v3.1h-5.5zM465.1 1000.2h3.1v2.7h-3.1zM447 1003.2h6.3v2.6h-6.3zM456.5 1003.2h7v2.6h-7zM463.5 1003.2h4.9v2.6h-4.9zM457.7 1006.3h6.4v2.2h-6.4zM465.3 1008.9h3.9v2.2h-3.9zM453.9 1011.4h3.9v3.1h-3.9zM457.8 1011.4h7.5v3.1h-7.5zM465.2 1011.4h5.4v3.1h-5.4zM470.6 1011.4h0.6v3.1h-0.6zM447 1014.9h4.8v2.8h-4.8zM462.9 1014.9h5v2.8h-5zM468 1014.9h2.8v2.8h-2.8zM447 1018.2h6.8v2.8h-6.8zM453.8 1018.2h5.1v2.8h-5.1zM458.9 1018.2h3.8v2.8h-3.8zM462.7 1018.2h3.8v2.8h-3.8zM466.5 1018.2h2.3v2.8h-2.3zM468.1 1021h2.6v2.3h-2.6zM456.8 1023.5h6.1v2.8h-6.1zM450.7 1026.5h4.6v3h-4.6zM463.5 1026.5h5.6v3h-5.6zM469.2 1026.5h2.3v3h-2.3zM447 1029.8h5.9v2.6h-5.9zM460.4 1029.8h7.5v2.6h-7.5zM468 1029.8h0.7v2.6h-0.7zM451.9 1033h3.3v2.1h-3.3zM455.2 1033h7.8v2.1h-7.8zM463 1033h5.4v2.1h-5.4zM447 1035.1h6v2.9h-6zM453 1035.1h4.7v2.9h-4.7zM457.7 1035.1h5.8v2.9h-5.8zM458 1038.3h6.5v3.1h-6.5zM452.4 1041.8h7.5v3.1h-7.5zM459.9 1041.8h4.3v3.1h-4.3zM459.4 1045.3h2.6v2.2h-2.6zM470.7 1045.3h0.7v2.2h-0.7zM457.2 1047.9h6.1v2.9h-6.1zM463.3 1047.9h5.6v2.9h-5.6zM468.9 1047.9h1.9v2.9h-1.9zM454.6 1050.9h5.5v2.5h-5.5zM460.1 1050.9h6.3v2.5h-6.3zM466.4 1050.9h4v2.5h-4zM468.4 1053.5h2.7v2.4h-2.7zM456.2 1056.5h2.9v2.6h-2.9zM459.1 1056.5h3.5v2.6h-3.5zM462.6 1056.5h3.8v2.6h-3.8zM466.4 1056.5h4.1v2.6h-4.1zM451.7 1059.4h4.4v3.1h-4.4zM456.1 1059.4h7v3.1h-7zM450.8 1062.5h4.4v2.6h-4.4zM455.2 1062.5h7.3v2.6h-7.3zM456.9 1065.7h3.4v3.1h-3.4zM467.5 1065.7h2.5v3.1h-2.5zM463.6 1069.1h5.1v2.6h-5.1zM455.6 1072.1h4v2.6h-4zM452.2 1075.3h4.1v2.4h-4.1zM456.4 1075.3h5.6v2.4h-5.6zM454.8 1078.3h2.7v2.9h-2.7zM447 1081.7h3v2.2h-3zM450 1081.7h4.4v2.2h-4.4zM454.4 1081.7h2.6v2.2h-2.6zM463.3 1081.7h5.6v2.2h-5.6zM451.5 1084.1h2.5v2.6h-2.5zM456.9 1084.1h3.9v2.6h-3.9zM463.8 1084.1h5.6v2.6h-5.6zM469.4 1084.1h1.4v2.6h-1.4zM454.6 1087.1h5.7v2.9h-5.7z"/>
<path fill="#1a2ae8" d="M470 699h5.6v2.7h-5.6zM470 702h5v2.2h-5zM470 704.7h8.3v2h-8.3zM470 707.2h8v3.2h-8zM470 710.9h7.9v2.4h-7.9zM470 713.4h8.6v3h-8.6zM470 716.8h8.1v3.1h-8.1zM470 720.3h6.8v2.3h-6.8zM470 722.9h5.3v2.8h-5.3zM470 726.4h6.7v3.2h-6.7zM470 729.6h8.5v2.8h-8.5zM470 732.5h6.6v3.1h-6.6zM470 736.1h5.5v2.5h-5.5zM470 738.6h6.4v2.3h-6.4zM470 741.2h5.3v3.1h-5.3zM470 744.6h6.7v3h-6.7zM470 747.6h5.6v3h-5.6zM470 750.9h5.3v2.2h-5.3zM470 753.5h7.5v2.3h-7.5zM470 756.1h8.2v2.7h-8.2zM470 759.4h6.1v3.1h-6.1zM470 762.8h9v2.1h-9zM470 765h5.4v2.5h-5.4zM470 767.7h6.6v2.7h-6.6zM470 770.7h7.4v2.8h-7.4zM470 773.5h5.4v2.5h-5.4zM470 776.2h5.5v2.1h-5.5zM470 778.9h5.4v2.4h-5.4zM470 781.8h5.6v2.3h-5.6zM470 784.3h7v2.3h-7zM470 786.9h7v2h-7zM470 789.4h7v2.3h-7zM470 792.2h7v2.7h-7zM470 795.2h7v2.5h-7zM470 797.9h7v2.4h-7zM477 797.9h6v2.4h-6zM470 800.5h7v2.1h-7zM470 802.9h7v2.7h-7zM470 806.1h7v2.4h-7zM470 808.7h7v2.3h-7zM477 808.7h6v2.3h-6zM470 811.5h7v3.1h-7zM477 811.5h6v3.1h-6zM470 814.6h7v2.8h-7zM470 817.9h7v2.5h-7zM470 820.9h7v2.4h-7zM470 823.8h7v2.9h-7zM470 827.2h7v2.6h-7zM477 827.2h6v2.6h-6zM470 830h7v3.1h-7zM470 833.1h7v2.2h-7zM470 835.5h7v3.1h-7zM470 838.6h7v2.3h-7zM470 841.4h7v3.1h-7zM477 841.4h6v3.1h-6zM470 844.9h7v2.9h-7zM470 847.9h7v2.3h-7zM470 850.3h7v2.7h-7zM477 850.3h6v2.7h-6zM470 853.4h7v3h-7zM470 856.9h7v2.5h-7zM470 859.6h7v2.2h-7zM470 862.1h7v2.2h-7zM477 862.1h6v2.2h-6zM470 864.5h7v2.5h-7zM470 867.5h7v2.6h-7zM470 870.4h7v2.3h-7zM470 873.2h7v3.2h-7zM470 876.7h7v2.6h-7zM470 879.3h7v2.1h-7zM470 882.1h7v2.8h-7zM470 885.2h7v2.3h-7zM470 888h7v3.1h-7zM470 891.2h7v2.2h-7zM470 893.5h7v2.5h-7zM470 896.5h7v3.2h-7zM470 900.1h7v2.1h-7zM470 902.4h7v3.2h-7zM477 902.4h6v3.2h-6zM470 905.7h7v3h-7zM470 909.1h7v2.6h-7zM470 911.8h7v2.8h-7zM470 915h7v2h-7zM470 917.3h7v2.8h-7zM470 920.5h7v2.3h-7zM470 923.3h7v2.1h-7zM470 925.9h7v2.3h-7zM470 928.2h7v2.3h-7zM470 930.8h7v2.5h-7zM477 930.8h6v2.5h-6zM470 933.3h7v2h-7zM470 935.4h7v3.1h-7zM470 938.8h7v2.7h-7zM477 938.8h6v2.7h-6zM503 938.8h9v2.7h-9zM470 942h7v3.1h-7zM477 942h6v3.1h-6zM470 945.3h7v2.7h-7zM477 945.3h6v2.7h-6zM470 948.1h7v2.7h-7zM503 948.1h9v2.7h-9zM470 951.1h7v2.5h-7zM470 953.7h7v2.7h-7zM470 956.6h7v2.8h-7zM477 956.6h6v2.8h-6zM470 959.6h7v3h-7zM470 963.2h7v2.3h-7zM503 963.2h9v2.3h-9zM470 965.6h7v3h-7zM470 968.9h7v2.2h-7zM470 971.2h7v2h-7zM470 973.3h7v3h-7zM470 976.9h7v3h-7zM470 980h7v2.3h-7zM470 982.3h7v2.3h-7zM470 984.9h7v2.9h-7zM470 987.9h7v2.6h-7zM470 990.6h7v2.4h-7zM503 990.6h9v2.4h-9zM470 993.5h7v3h-7zM470 996.8h7v3.1h-7zM470 1000.2h7v2.7h-7zM470 1003.2h7v2.6h-7zM470 1006.3h7v2.2h-7zM477 1006.3h6v2.2h-6zM470 1008.9h7v2.2h-7zM470 1011.4h7v3.1h-7zM470 1014.9h7v2.8h-7zM470 1018.2h7v2.8h-7zM470 1021h7v2.3h-7zM477 1021h6v2.3h-6zM470 1023.5h7v2.8h-7zM477 1023.5h6v2.8h-6zM470 1026.5h7v3h-7zM470 1029.8h7v2.6h-7zM470 1033h7v2.1h-7zM503 1033h9v2.1h-9zM470 1035.1h7v2.9h-7zM503 1035.1h9v2.9h-9zM470 1038.3h7v3.1h-7zM470 1041.8h7v3.1h-7zM470 1045.3h7v2.2h-7zM470 1047.9h7v2.9h-7zM503 1047.9h9v2.9h-9zM470 1050.9h7v2.5h-7zM470 1053.5h7v2.4h-7zM477 1053.5h6v2.4h-6zM470 1056.5h7v2.6h-7zM477 1056.5h6v2.6h-6zM470 1059.4h7v3.1h-7zM470 1062.5h7v2.6h-7zM503 1062.5h9v2.6h-9zM470 1065.7h7v3.1h-7zM477 1065.7h6v3.1h-6zM470 1069.1h7v2.6h-7zM503 1069.1h9v2.6h-9zM470 1072.1h7v2.6h-7zM477 1072.1h6v2.6h-6zM470 1075.3h7v2.4h-7zM470 1078.3h7v2.9h-7zM470 1081.7h7v2.2h-7zM477 1081.7h6v2.2h-6zM470 1084.1h7v2.6h-7zM470 1087.1h7v2.9h-7z"/>
<path fill="#04042a" d="M419.8 702h9v2.2h-9zM419.8 704.7h9v2h-9zM420.1 707.2h9v3.2h-9zM420.3 713.4h9v3h-9zM420.1 716.8h9v3.1h-9zM420.2 720.3h9v2.3h-9zM420.3 722.9h9v2.8h-9zM420 729.6h9v2.8h-9zM419.8 732.5h9v3.1h-9zM419.8 736.1h9v2.5h-9zM419.7 738.6h9v2.3h-9zM420.1 741.2h9v3.1h-9zM419.8 744.6h9v3h-9zM419.7 747.6h9v3h-9zM420.1 753.5h9v2.3h-9zM419.8 759.4h9v3.1h-9zM420.1 762.8h9v2.1h-9zM420.4 767.7h9v2.7h-9zM420.2 770.7h9v2.8h-9zM420.4 773.5h9v2.5h-9zM420 776.2h9v2.1h-9zM420.1 778.9h9v2.4h-9zM420.3 784.3h9v2.3h-9zM420.3 786.9h9v2h-9zM420.1 792.2h9v2.7h-9zM419.8 795.2h9v2.5h-9zM420.3 797.9h9v2.4h-9zM419.9 800.5h9v2.1h-9zM419.6 802.9h9v2.7h-9zM419.9 806.1h9v2.4h-9zM420.2 808.7h9v2.3h-9zM420.2 811.5h9v3.1h-9zM420.1 814.6h9v2.8h-9zM420.5 817.9h9v2.5h-9zM420 820.9h9v2.4h-9zM419.7 823.8h9v2.9h-9zM419.8 827.2h9v2.6h-9zM419.7 830h9v3.1h-9zM420.5 833.1h9v2.2h-9zM420.4 835.5h9v3.1h-9zM419.8 838.6h9v2.3h-9zM420.5 841.4h9v3.1h-9zM420.1 844.9h9v2.9h-9zM420.5 847.9h9v2.3h-9zM420.4 850.3h9v2.7h-9zM419.8 853.4h9v3h-9zM419.9 856.9h9v2.5h-9zM420.3 859.6h9v2.2h-9zM419.8 862.1h9v2.2h-9zM420.1 864.5h9v2.5h-9zM419.6 867.5h9v2.6h-9zM420.4 876.7h9v2.6h-9zM419.8 879.3h9v2.1h-9zM420.4 882.1h9v2.8h-9zM420.4 885.2h9v2.3h-9zM419.9 888h9v3.1h-9zM420.3 891.2h9v2.2h-9zM420.4 896.5h9v3.2h-9zM420.5 902.4h9v3.2h-9zM420.3 905.7h9v3h-9zM420.3 909.1h9v2.6h-9zM419.8 911.8h9v2.8h-9zM420.1 915h9v2h-9zM420.4 917.3h9v2.8h-9zM420 920.5h9v2.3h-9zM420.2 923.3h9v2.1h-9zM420.4 925.9h9v2.3h-9zM420.2 928.2h9v2.3h-9zM420.3 930.8h9v2.5h-9zM420.2 933.3h9v2h-9zM419.7 935.4h9v3.1h-9zM419.7 938.8h9v2.7h-9zM419.8 945.3h9v2.7h-9zM420.5 948.1h9v2.7h-9zM419.8 951.1h9v2.5h-9zM420.4 959.6h9v3h-9zM419.6 963.2h9v2.3h-9zM420.1 965.6h9v3h-9zM419.8 968.9h9v2.2h-9zM420 971.2h9v2h-9zM419.6 973.3h9v3h-9zM420.1 976.9h9v3h-9zM420.1 980h9v2.3h-9zM420.2 987.9h9v2.6h-9zM419.6 993.5h9v3h-9zM420.4 1000.2h9v2.7h-9zM420.4 1003.2h9v2.6h-9zM420.5 1006.3h9v2.2h-9zM419.9 1008.9h9v2.2h-9zM419.5 1011.4h9v3.1h-9zM420.5 1014.9h9v2.8h-9zM420.3 1018.2h9v2.8h-9zM420.4 1023.5h9v2.8h-9zM419.7 1026.5h9v3h-9zM419.9 1029.8h9v2.6h-9zM420.1 1035.1h9v2.9h-9zM419.9 1038.3h9v3.1h-9zM420.4 1041.8h9v3.1h-9zM420.2 1047.9h9v2.9h-9zM420.4 1050.9h9v2.5h-9zM420.4 1053.5h9v2.4h-9zM419.5 1056.5h9v2.6h-9zM420.3 1059.4h9v3.1h-9zM419.8 1062.5h9v2.6h-9zM420.1 1065.7h9v3.1h-9zM419.8 1069.1h9v2.6h-9zM420 1072.1h9v2.6h-9zM419.7 1081.7h9v2.2h-9zM420 1084.1h9v2.6h-9zM420.4 1087.1h9v2.9h-9z"/>
<path fill="#03033a" d="M477 784.3h6v2.3h-6zM477 786.9h6v2h-6zM477 789.4h6v2.3h-6zM477 792.2h6v2.7h-6zM477 795.2h6v2.5h-6zM477 800.5h6v2.1h-6zM477 802.9h6v2.7h-6zM477 806.1h6v2.4h-6zM477 814.6h6v2.8h-6zM477 817.9h6v2.5h-6zM477 820.9h6v2.4h-6zM477 823.8h6v2.9h-6zM477 830h6v3.1h-6zM477 833.1h6v2.2h-6zM477 835.5h6v3.1h-6zM477 838.6h6v2.3h-6zM477 844.9h6v2.9h-6zM477 847.9h6v2.3h-6zM477 853.4h6v3h-6zM477 856.9h6v2.5h-6zM477 859.6h6v2.2h-6zM477 864.5h6v2.5h-6zM477 867.5h6v2.6h-6zM477 870.4h6v2.3h-6zM477 873.2h6v3.2h-6zM477 876.7h6v2.6h-6zM477 879.3h6v2.1h-6zM477 882.1h6v2.8h-6zM477 885.2h6v2.3h-6zM477 888h6v3.1h-6zM477 891.2h6v2.2h-6zM477 893.5h6v2.5h-6zM477 896.5h6v3.2h-6zM477 900.1h6v2.1h-6zM477 905.7h6v3h-6zM477 909.1h6v2.6h-6zM477 911.8h6v2.8h-6zM477 915h6v2h-6zM477 917.3h6v2.8h-6zM477 920.5h6v2.3h-6zM477 923.3h6v2.1h-6zM477 925.9h6v2.3h-6zM477 928.2h6v2.3h-6zM477 933.3h6v2h-6zM477 935.4h6v3.1h-6zM477 948.1h6v2.7h-6zM477 951.1h6v2.5h-6zM477 953.7h6v2.7h-6zM477 959.6h6v3h-6zM477 963.2h6v2.3h-6zM477 965.6h6v3h-6zM477 968.9h6v2.2h-6zM477 971.2h6v2h-6zM477 973.3h6v3h-6zM477 976.9h6v3h-6zM477 980h6v2.3h-6zM477 982.3h6v2.3h-6zM477 984.9h6v2.9h-6zM477 987.9h6v2.6h-6zM477 990.6h6v2.4h-6zM477 993.5h6v3h-6zM477 996.8h6v3.1h-6zM477 1000.2h6v2.7h-6zM477 1003.2h6v2.6h-6zM477 1008.9h6v2.2h-6zM477 1011.4h6v3.1h-6zM477 1014.9h6v2.8h-6zM477 1018.2h6v2.8h-6zM477 1026.5h6v3h-6zM477 1029.8h6v2.6h-6zM477 1033h6v2.1h-6zM477 1035.1h6v2.9h-6zM477 1038.3h6v3.1h-6zM477 1041.8h6v3.1h-6zM477 1045.3h6v2.2h-6zM477 1047.9h6v2.9h-6zM477 1050.9h6v2.5h-6zM477 1059.4h6v3.1h-6zM477 1062.5h6v2.6h-6zM477 1069.1h6v2.6h-6zM477 1075.3h6v2.4h-6zM477 1078.3h6v2.9h-6zM477 1084.1h6v2.6h-6zM477 1087.1h6v2.9h-6z"/>
<path fill="#3aa0f8" d="M483 784.3h5.9v2.3h-5.9zM488.9 784.3h5.9v2.3h-5.9zM494.8 784.3h7.2v2.3h-7.2zM502 784.3h1.8v2.3h-1.8zM501.6 789.4h1.2v2.3h-1.2zM483 792.2h4.3v2.7h-4.3zM487.3 792.2h5.3v2.7h-5.3zM492.6 792.2h7.1v2.7h-7.1zM485.7 795.2h3.6v2.5h-3.6zM496.3 795.2h6.6v2.5h-6.6zM483 797.9h5.8v2.4h-5.8zM495.3 797.9h6.6v2.4h-6.6zM483 800.5h7.8v2.1h-7.8zM483 802.9h6.2v2.7h-6.2zM489.2 802.9h7.3v2.7h-7.3zM483 808.7h5.2v2.3h-5.2zM488.2 808.7h3.2v2.3h-3.2zM490 814.6h5.8v2.8h-5.8zM495.8 814.6h5.9v2.8h-5.9zM491.1 817.9h6.3v2.5h-6.3zM497.3 817.9h5.2v2.5h-5.2zM488.7 820.9h3.6v2.4h-3.6zM494 823.8h7.1v2.9h-7.1zM494.9 827.2h7.7v2.6h-7.7zM502.6 827.2h0.5v2.6h-0.5zM497.3 830h4.9v3.1h-4.9zM493.5 833.1h7.7v2.2h-7.7zM487.1 835.5h7.8v3.1h-7.8zM494.9 835.5h4v3.1h-4zM493.4 838.6h4.4v2.3h-4.4zM497.7 838.6h5v2.3h-5zM483 841.4h2.7v3.1h-2.7zM485.7 841.4h8v3.1h-8zM498.8 841.4h4.2v3.1h-4.2zM483 844.9h2.8v2.9h-2.8zM485.8 844.9h7.8v2.9h-7.8zM493.6 844.9h4.1v2.9h-4.1zM494.1 847.9h4v2.3h-4zM498.1 847.9h4.8v2.3h-4.8zM495.5 850.3h6.6v2.7h-6.6zM498.7 856.9h3v2.5h-3zM488.3 859.6h6.3v2.2h-6.3zM494.5 859.6h7.5v2.2h-7.5zM502 859.6h0.5v2.2h-0.5zM483 862.1h5.7v2.2h-5.7zM492.5 862.1h6.6v2.2h-6.6zM497.2 864.5h4.5v2.5h-4.5zM483 867.5h5.3v2.6h-5.3zM495.3 867.5h5.9v2.6h-5.9zM489.3 870.4h3.3v2.3h-3.3zM492.7 870.4h4.1v2.3h-4.1zM483 873.2h6.3v3.2h-6.3zM491.9 876.7h5v2.6h-5zM496.9 876.7h4.6v2.6h-4.6zM501.6 876.7h1.5v2.6h-1.5zM490 879.3h6.3v2.1h-6.3zM500.4 879.3h1.3v2.1h-1.3zM483 891.2h4.3v2.2h-4.3zM488.3 893.5h6v2.5h-6zM499.5 893.5h3.4v2.5h-3.4zM494.2 896.5h5.7v3.2h-5.7zM496.1 900.1h6.4v2.1h-6.4zM483 902.4h4.8v3.2h-4.8zM487.8 902.4h6v3.2h-6zM500.1 902.4h2.8v3.2h-2.8zM488 905.7h6v3h-6zM486.3 909.1h3.6v2.6h-3.6zM497.1 909.1h4.3v2.6h-4.3zM501.4 909.1h2.6v2.6h-2.6zM483 911.8h7.8v2.8h-7.8zM501.8 911.8h2.3v2.8h-2.3zM483 915h7.4v2h-7.4zM494.1 915h6.2v2h-6.2zM500.3 915h1.6v2h-1.6zM490.9 917.3h7.8v2.8h-7.8zM501.6 917.3h0.5v2.8h-0.5zM483 920.5h8v2.3h-8zM483 923.3h7.4v2.1h-7.4zM490.4 923.3h5.9v2.1h-5.9zM496.3 923.3h3.5v2.1h-3.5zM499.9 923.3h3.1v2.1h-3.1zM483 925.9h5.3v2.3h-5.3zM488.3 925.9h5.7v2.3h-5.7zM501 925.9h1.2v2.3h-1.2zM483 928.2h7.9v2.3h-7.9zM488.3 930.8h6.4v2.5h-6.4zM502.5 933.3h0.9v2h-0.9zM492 935.4h7v3.1h-7zM499 935.4h3.3v3.1h-3.3zM483 938.8h6.6v2.7h-6.6zM502.2 938.8h0.7v2.7h-0.7zM483 942h5.1v3.1h-5.1zM483 945.3h2.6v2.7h-2.6zM497.4 945.3h3.6v2.7h-3.6zM489.5 948.1h6.4v2.7h-6.4zM495.9 948.1h6v2.7h-6zM483 951.1h3.9v2.5h-3.9zM488.2 953.7h6.2v2.7h-6.2zM494.3 953.7h2.8v2.7h-2.8zM489 956.6h3.9v2.8h-3.9zM492.9 956.6h5.3v2.8h-5.3zM483 959.6h5.7v3h-5.7zM499.3 959.6h4v3h-4zM483 963.2h2.9v2.3h-2.9zM486 965.6h5.5v3h-5.5zM491.5 965.6h6v3h-6zM483 968.9h7.5v2.2h-7.5zM487.4 971.2h7.8v2h-7.8zM497 973.3h4.7v3h-4.7zM483 976.9h4.6v3h-4.6zM494.6 976.9h5.5v3h-5.5zM483 980h6.2v2.3h-6.2zM489.2 980h5.1v2.3h-5.1zM494.2 980h2.6v2.3h-2.6zM496.8 980h5.7v2.3h-5.7zM483 982.3h7.7v2.3h-7.7zM489.2 984.9h7.4v2.9h-7.4zM496.7 984.9h4.9v2.9h-4.9zM483 987.9h7.8v2.6h-7.8zM490.8 987.9h7.8v2.6h-7.8zM498.6 987.9h3.6v2.6h-3.6zM502.2 987.9h1.2v2.6h-1.2zM500.9 990.6h3.5v2.4h-3.5zM483 993.5h4.9v3h-4.9zM487.9 993.5h7.5v3h-7.5zM495.4 993.5h6.9v3h-6.9zM502.3 993.5h1.5v3h-1.5zM489.5 996.8h7.6v3.1h-7.6zM501.2 996.8h0.4v3.1h-0.4zM489.1 1000.2h7.9v2.7h-7.9zM491 1003.2h3.3v2.6h-3.3zM500.7 1003.2h2.9v2.6h-2.9zM483 1006.3h4.1v2.2h-4.1zM486.7 1008.9h6v2.2h-6zM489.1 1011.4h3.6v3.1h-3.6zM498.3 1011.4h4.5v3.1h-4.5zM496.2 1014.9h7.2v2.8h-7.2zM483 1018.2h7v2.8h-7zM495.9 1018.2h5.1v2.8h-5.1zM496.5 1021h4.5v2.3h-4.5zM483 1023.5h4.1v2.8h-4.1zM487.1 1023.5h3.6v2.8h-3.6zM496.2 1023.5h3.4v2.8h-3.4zM502.9 1023.5h1.4v2.8h-1.4zM483 1026.5h7.5v3h-7.5zM490.5 1026.5h4v3h-4zM483 1029.8h4.9v2.6h-4.9zM487.9 1029.8h7.2v2.6h-7.2zM495.1 1029.8h3.6v2.6h-3.6zM483 1033h2.6v2.1h-2.6zM491.2 1033h4.9v2.1h-4.9zM496.2 1033h5.9v2.1h-5.9zM490.6 1035.1h2.7v2.9h-2.7zM493.3 1035.1h6.7v2.9h-6.7zM500 1035.1h2.6v2.9h-2.6zM490.2 1038.3h7v3.1h-7zM483 1041.8h7.2v3.1h-7.2zM496.9 1041.8h3.9v3.1h-3.9zM483 1047.9h4v2.9h-4zM487 1047.9h5.8v2.9h-5.8zM500.6 1047.9h1.1v2.9h-1.1zM489.6 1050.9h5.9v2.5h-5.9zM499.7 1050.9h4v2.5h-4zM495.2 1053.5h7.4v2.4h-7.4zM502.6 1053.5h0.3v2.4h-0.3zM483 1056.5h5.2v2.6h-5.2zM487.1 1059.4h6.4v3.1h-6.4zM496.6 1059.4h5.1v3.1h-5.1zM483 1062.5h2.7v2.6h-2.7zM495.7 1062.5h3.6v2.6h-3.6zM483 1069.1h2.8v2.6h-2.8zM485.8 1069.1h3.8v2.6h-3.8zM489.7 1069.1h7.8v2.6h-7.8zM497.5 1069.1h4.2v2.6h-4.2zM483 1072.1h5v2.6h-5zM483 1078.3h6.3v2.9h-6.3zM489.3 1078.3h7.7v2.9h-7.7zM483 1081.7h2.8v2.2h-2.8zM485.8 1081.7h7.7v2.2h-7.7zM493.5 1081.7h4v2.2h-4zM497.5 1081.7h6.7v2.2h-6.7zM493.2 1087.1h3.8v2.9h-3.8zM497 1087.1h5.3v2.9h-5.3z"/>
<path fill="#44ccf2" d="M483 786.9h5.8v2h-5.8zM488.8 786.9h3.3v2h-3.3zM492.1 786.9h2.5v2h-2.5zM494.7 786.9h4.8v2h-4.8zM499.5 786.9h2.3v2h-2.3zM483 789.4h3.3v2.3h-3.3zM486.3 789.4h5v2.3h-5zM491.3 789.4h6.2v2.3h-6.2zM497.5 789.4h4.1v2.3h-4.1zM499.8 792.2h2.2v2.7h-2.2zM483 795.2h2.7v2.5h-2.7zM489.2 795.2h4.2v2.5h-4.2zM493.4 795.2h2.9v2.5h-2.9zM488.8 797.9h6.5v2.4h-6.5zM490.8 800.5h2.7v2.1h-2.7zM493.5 800.5h6.1v2.1h-6.1zM499.6 800.5h4.2v2.1h-4.2zM496.4 802.9h6.7v2.7h-6.7zM483 806.1h7.5v2.4h-7.5zM490.5 806.1h7.9v2.4h-7.9zM498.4 806.1h4.2v2.4h-4.2zM502.6 806.1h1.6v2.4h-1.6zM491.4 808.7h7.3v2.3h-7.3zM498.7 808.7h5.5v2.3h-5.5zM483 811.5h5v3.1h-5zM488 811.5h6v3.1h-6zM494 811.5h4.1v3.1h-4.1zM498.2 811.5h3.5v3.1h-3.5zM483 814.6h3.9v2.8h-3.9zM486.9 814.6h3.1v2.8h-3.1zM501.8 814.6h1.7v2.8h-1.7zM483 817.9h4.6v2.5h-4.6zM487.6 817.9h3.4v2.5h-3.4zM502.5 817.9h1v2.5h-1zM483 820.9h5.7v2.4h-5.7zM492.4 820.9h2.8v2.4h-2.8zM495.1 820.9h4.6v2.4h-4.6zM499.7 820.9h4.7v2.4h-4.7zM483 823.8h3.1v2.9h-3.1zM486.1 823.8h7.9v2.9h-7.9zM501.1 823.8h1.5v2.9h-1.5zM483 827.2h5.8v2.6h-5.8zM488.8 827.2h6.2v2.6h-6.2zM483 830h5.6v3.1h-5.6zM488.6 830h3.5v3.1h-3.5zM492.1 830h5.2v3.1h-5.2zM502.2 830h0.4v3.1h-0.4zM483 833.1h7.6v2.2h-7.6zM490.6 833.1h2.9v2.2h-2.9zM501.2 833.1h2.2v2.2h-2.2zM483 835.5h4.1v3.1h-4.1zM498.8 835.5h4.3v3.1h-4.3zM483 838.6h7.3v2.3h-7.3zM490.3 838.6h3.1v2.3h-3.1zM493.6 841.4h5.2v3.1h-5.2zM497.7 844.9h3.1v2.9h-3.1zM500.8 844.9h2.4v2.9h-2.4zM483 847.9h6.3v2.3h-6.3zM489.3 847.9h4.7v2.3h-4.7zM483 850.3h5.4v2.7h-5.4zM488.4 850.3h7.1v2.7h-7.1zM502.1 850.3h0.8v2.7h-0.8zM483 853.4h7.1v3h-7.1zM490.1 853.4h4.2v3h-4.2zM494.3 853.4h4v3h-4zM498.2 853.4h3.9v3h-3.9zM502.1 853.4h1.8v3h-1.8zM483 856.9h7.9v2.5h-7.9zM490.9 856.9h4.2v2.5h-4.2zM495.1 856.9h3.6v2.5h-3.6zM483 859.6h5.3v2.2h-5.3zM488.7 862.1h3.7v2.2h-3.7zM499.1 862.1h3.7v2.2h-3.7zM483 864.5h7.6v2.5h-7.6zM490.6 864.5h6.6v2.5h-6.6zM488.3 867.5h7v2.6h-7zM501.2 867.5h2.6v2.6h-2.6zM503.8 867.5h0.6v2.6h-0.6zM483 870.4h6.3v2.3h-6.3zM496.8 870.4h6.6v2.3h-6.6zM489.3 873.2h3.3v3.2h-3.3zM492.6 873.2h5.9v3.2h-5.9zM498.5 873.2h4.9v3.2h-4.9zM483 876.7h2.7v2.6h-2.7zM485.7 876.7h6.3v2.6h-6.3zM483 879.3h7v2.1h-7zM496.2 879.3h4.1v2.1h-4.1zM483 882.1h3.2v2.8h-3.2zM486.2 882.1h4.3v2.8h-4.3zM490.4 882.1h3.6v2.8h-3.6zM494 882.1h7.9v2.8h-7.9zM501.9 882.1h0.9v2.8h-0.9zM483 885.2h6.6v2.3h-6.6zM489.6 885.2h5.8v2.3h-5.8zM495.4 885.2h2.6v2.3h-2.6zM498 885.2h6.1v2.3h-6.1zM483 888h2.7v3.1h-2.7zM485.7 888h3.6v3.1h-3.6zM489.2 888h3.5v3.1h-3.5zM492.7 888h7.6v3.1h-7.6zM500.3 888h2.8v3.1h-2.8zM487.3 891.2h4.1v2.2h-4.1zM491.4 891.2h8v2.2h-8zM499.4 891.2h3.2v2.2h-3.2zM502.6 891.2h0.4v2.2h-0.4zM483 893.5h5.3v2.5h-5.3zM494.4 893.5h5.1v2.5h-5.1zM483 896.5h4.4v3.2h-4.4zM487.4 896.5h6.8v3.2h-6.8zM499.9 896.5h3.5v3.2h-3.5zM483 900.1h7.7v2.1h-7.7zM490.7 900.1h5.4v2.1h-5.4zM502.5 900.1h1.6v2.1h-1.6zM493.8 902.4h6.3v3.2h-6.3zM483 905.7h5v3h-5zM493.9 905.7h3.3v3h-3.3zM497.3 905.7h5.6v3h-5.6zM483 909.1h3.3v2.6h-3.3zM489.8 909.1h7.3v2.6h-7.3zM490.8 911.8h6.6v2.8h-6.6zM497.4 911.8h4.5v2.8h-4.5zM490.4 915h3.7v2h-3.7zM483 917.3h7.9v2.8h-7.9zM498.7 917.3h2.9v2.8h-2.9zM491 920.5h7.3v2.3h-7.3zM498.3 920.5h6.2v2.3h-6.2zM494 925.9h7v2.3h-7zM490.9 928.2h5.2v2.3h-5.2zM496.1 928.2h7.1v2.3h-7.1zM503.3 928.2h0.5v2.3h-0.5zM483 930.8h5.3v2.5h-5.3zM494.7 930.8h6.8v2.5h-6.8zM501.5 930.8h2.2v2.5h-2.2zM483 933.3h3.5v2h-3.5zM486.5 933.3h5v2h-5zM491.5 933.3h5.2v2h-5.2zM496.7 933.3h5.8v2h-5.8zM483 935.4h3.2v3.1h-3.2zM486.2 935.4h2.6v3.1h-2.6zM488.8 935.4h3.1v3.1h-3.1zM489.6 938.8h4.1v2.7h-4.1zM493.6 938.8h5v2.7h-5zM498.6 938.8h3.6v2.7h-3.6zM488.1 942h3.8v3.1h-3.8zM492 942h3.7v3.1h-3.7zM495.7 942h6.8v3.1h-6.8zM502.5 942h1.7v3.1h-1.7zM485.6 945.3h5.1v2.7h-5.1zM490.7 945.3h6.8v2.7h-6.8zM501 945.3h0.6v2.7h-0.6zM483 948.1h6.5v2.7h-6.5zM486.9 951.1h6.6v2.5h-6.6zM493.5 951.1h5.3v2.5h-5.3zM498.8 951.1h3.8v2.5h-3.8zM483 953.7h5.2v2.7h-5.2zM497.1 953.7h6.7v2.7h-6.7zM483 956.6h6v2.8h-6zM498.2 956.6h3.7v2.8h-3.7zM488.7 959.6h7.5v3h-7.5zM496.2 959.6h3.1v3h-3.1zM503.3 959.6h1v3h-1zM485.9 963.2h7.4v2.3h-7.4zM493.3 963.2h7.3v2.3h-7.3zM500.6 963.2h2.3v2.3h-2.3zM483 965.6h3v3h-3zM497.5 965.6h6.4v3h-6.4zM503.9 965.6h0.3v3h-0.3zM490.5 968.9h7.4v2.2h-7.4zM497.9 968.9h5.8v2.2h-5.8zM483 971.2h4.4v2h-4.4zM495.3 971.2h6.8v2h-6.8zM502.1 971.2h0.9v2h-0.9zM483 973.3h6.6v3h-6.6zM489.6 973.3h2.8v3h-2.8zM492.4 973.3h4.7v3h-4.7zM487.6 976.9h7v3h-7zM500.2 976.9h3v3h-3zM490.7 982.3h5.7v2.3h-5.7zM496.4 982.3h5.9v2.3h-5.9zM502.2 982.3h1.5v2.3h-1.5zM483 984.9h6.2v2.9h-6.2zM483 990.6h7.2v2.4h-7.2zM490.2 990.6h7.2v2.4h-7.2zM497.4 990.6h3.5v2.4h-3.5zM483 996.8h6.5v3.1h-6.5zM497.1 996.8h4.1v3.1h-4.1zM483 1000.2h6.1v2.7h-6.1zM497 1000.2h6v2.7h-6zM483 1003.2h8v2.6h-8zM494.3 1003.2h6.4v2.6h-6.4zM487.1 1006.3h3.2v2.2h-3.2zM490.3 1006.3h6.4v2.2h-6.4zM496.7 1006.3h4.3v2.2h-4.3zM501 1006.3h2.9v2.2h-2.9zM483 1008.9h3.7v2.2h-3.7zM492.7 1008.9h5.3v2.2h-5.3zM498 1008.9h5.6v2.2h-5.6zM483 1011.4h6.1v3.1h-6.1zM492.7 1011.4h5.7v3.1h-5.7zM483 1014.9h5.9v2.8h-5.9zM488.9 1014.9h7.3v2.8h-7.3zM490 1018.2h5.9v2.8h-5.9zM501 1018.2h2.4v2.8h-2.4zM483 1021h6.2v2.3h-6.2zM489.2 1021h7.3v2.3h-7.3zM501 1021h2.8v2.3h-2.8zM490.7 1023.5h5.5v2.8h-5.5zM499.6 1023.5h3.3v2.8h-3.3zM494.5 1026.5h7.7v3h-7.7zM502.2 1026.5h2.2v3h-2.2zM498.7 1029.8h2.7v2.6h-2.7zM501.4 1029.8h2.6v2.6h-2.6zM485.6 1033h5.6v2.1h-5.6zM483 1035.1h7.6v2.9h-7.6zM483 1038.3h4.3v3.1h-4.3zM487.3 1038.3h2.9v3.1h-2.9zM497.2 1038.3h5.9v3.1h-5.9zM503 1038.3h0.3v3.1h-0.3zM490.2 1041.8h2.6v3.1h-2.6zM492.8 1041.8h4.1v3.1h-4.1zM500.8 1041.8h2.2v3.1h-2.2zM483 1045.3h4.6v2.2h-4.6zM487.6 1045.3h5.5v2.2h-5.5zM493.1 1045.3h6.7v2.2h-6.7zM499.8 1045.3h2.9v2.2h-2.9zM492.9 1047.9h7.7v2.9h-7.7zM483 1050.9h3.2v2.5h-3.2zM486.2 1050.9h3.4v2.5h-3.4zM495.5 1050.9h4.1v2.5h-4.1zM483 1053.5h2.6v2.4h-2.6zM485.6 1053.5h3v2.4h-3zM488.6 1053.5h6.5v2.4h-6.5zM488.2 1056.5h5.8v2.6h-5.8zM494 1056.5h7.2v2.6h-7.2zM501.2 1056.5h2.6v2.6h-2.6zM483 1059.4h4.1v3.1h-4.1zM493.5 1059.4h3.1v3.1h-3.1zM485.7 1062.5h4.6v2.6h-4.6zM490.4 1062.5h5.3v2.6h-5.3zM499.3 1062.5h3.2v2.6h-3.2zM483 1065.7h6.1v3.1h-6.1zM489.1 1065.7h5.4v3.1h-5.4zM494.5 1065.7h7.2v3.1h-7.2zM501.6 1065.7h2.7v3.1h-2.7zM488 1072.1h5v2.6h-5zM492.9 1072.1h2.6v2.6h-2.6zM495.6 1072.1h4.5v2.6h-4.5zM500.1 1072.1h2.2v2.6h-2.2zM483 1075.3h6.1v2.4h-6.1zM489.1 1075.3h3.3v2.4h-3.3zM492.3 1075.3h7.4v2.4h-7.4zM499.7 1075.3h3.6v2.4h-3.6zM497 1078.3h5.1v2.9h-5.1zM483 1084.1h3v2.6h-3zM486 1084.1h4.8v2.6h-4.8zM490.8 1084.1h2.8v2.6h-2.8zM493.6 1084.1h5.5v2.6h-5.5zM499.1 1084.1h3.8v2.6h-3.8zM483 1087.1h2.7v2.9h-2.7zM485.7 1087.1h7.5v2.9h-7.5z"/>
<path fill="#2440ee" d="M512 938.8h4.4v2.7h-4.4zM518.6 942h6.6v3.1h-6.6zM525.2 942h5.8v3.1h-5.8zM521.8 945.3h6.8v2.7h-6.8zM525.2 948.1h4.4v2.7h-4.4zM512 951.1h6.9v2.5h-6.9zM518.9 951.1h5.7v2.5h-5.7zM524.6 951.1h3.6v2.5h-3.6zM528.3 951.1h2.7v2.5h-2.7zM519.6 953.7h5v2.7h-5zM518.2 956.6h4.7v2.8h-4.7zM522.9 956.6h2.9v2.8h-2.9zM517.2 959.6h7.6v3h-7.6zM524.8 959.6h2.8v3h-2.8zM520.2 963.2h7.1v2.3h-7.1zM512 965.6h4.7v3h-4.7zM516.7 965.6h7.2v3h-7.2zM512 968.9h6.8v2.2h-6.8zM523.6 968.9h6.6v2.2h-6.6zM530.2 968.9h0.8v2.2h-0.8zM512 971.2h2.6v2h-2.6zM514.6 971.2h2.6v2h-2.6zM517.2 971.2h3.2v2h-3.2zM523.2 971.2h6.3v2h-6.3zM517 973.3h3.5v3h-3.5zM527.1 976.9h3.9v3h-3.9zM512 980h6v2.3h-6zM525.7 980h3.7v2.3h-3.7zM512 982.3h4v2.3h-4zM519.4 982.3h5.2v2.3h-5.2zM512 984.9h5.8v2.9h-5.8zM517.8 984.9h6.8v2.9h-6.8zM524.6 984.9h6.4v2.9h-6.4zM512 987.9h6.7v2.6h-6.7zM518.7 987.9h2.5v2.6h-2.5zM512 990.6h5.9v2.4h-5.9zM517.9 990.6h7.6v2.4h-7.6zM525.4 990.6h5.6v2.4h-5.6zM520 993.5h5.4v3h-5.4zM512 996.8h4.7v3.1h-4.7zM522.5 996.8h3.1v3.1h-3.1zM525.7 996.8h4.1v3.1h-4.1zM519.3 1000.2h7v2.7h-7zM526.2 1000.2h2.5v2.7h-2.5zM512 1003.2h3v2.6h-3zM519.6 1003.2h4.2v2.6h-4.2zM523.7 1003.2h4.8v2.6h-4.8zM528.5 1003.2h2.5v2.6h-2.5zM512 1006.3h7.8v2.2h-7.8zM523 1006.3h5.5v2.2h-5.5zM528.5 1006.3h2.5v2.2h-2.5zM526.6 1008.9h3.9v2.2h-3.9zM524.2 1011.4h5.8v3.1h-5.8zM512 1014.9h6.8v2.8h-6.8zM529.4 1014.9h1.6v2.8h-1.6zM520.8 1018.2h2.6v2.8h-2.6zM523.4 1018.2h7.6v2.8h-7.6zM514.9 1021h4.3v2.3h-4.3zM522.2 1021h3.7v2.3h-3.7zM529.2 1021h1.8v2.3h-1.8zM512 1023.5h7.5v2.8h-7.5zM519.5 1023.5h3.1v2.8h-3.1zM525.8 1023.5h4.7v2.8h-4.7zM530.6 1023.5h0.4v2.8h-0.4zM517.6 1026.5h3.2v3h-3.2zM520.9 1026.5h7.2v3h-7.2zM512 1033h7.1v2.1h-7.1zM512 1035.1h2.7v2.9h-2.7zM518.4 1035.1h5.2v2.9h-5.2zM515 1038.3h6.4v3.1h-6.4zM524.7 1038.3h3v3.1h-3zM515.7 1041.8h2.8v3.1h-2.8zM518.6 1041.8h4.6v3.1h-4.6zM523.2 1041.8h7.4v3.1h-7.4zM512 1047.9h5.4v2.9h-5.4zM524.6 1047.9h6.4v2.9h-6.4zM512 1053.5h3.4v2.4h-3.4zM521.8 1053.5h7.9v2.4h-7.9zM518.6 1056.5h7v2.6h-7zM525.5 1056.5h5.5v2.6h-5.5zM514.6 1059.4h6.4v3.1h-6.4zM525.5 1062.5h3.4v2.6h-3.4zM528.9 1062.5h2.1v2.6h-2.1zM512 1069.1h6.6v2.6h-6.6zM518.6 1069.1h4.3v2.6h-4.3zM522.8 1069.1h6.4v2.6h-6.4zM512 1072.1h3.4v2.6h-3.4zM512 1075.3h2.5v2.4h-2.5zM529.1 1075.3h1.9v2.4h-1.9zM519.1 1078.3h6.5v2.9h-6.5zM525.7 1078.3h4.9v2.9h-4.9zM530.5 1078.3h0.5v2.9h-0.5zM516.5 1081.7h6.9v2.2h-6.9zM523.3 1081.7h4.5v2.2h-4.5zM518.8 1084.1h3.8v2.6h-3.8zM525.9 1084.1h5.1v2.6h-5.1zM512 1087.1h5.6v2.9h-5.6zM517.6 1087.1h3.6v2.9h-3.6zM521.1 1087.1h5.4v2.9h-5.4zM526.5 1087.1h4.2v2.9h-4.2z"/>
<path fill="#3a74f2" d="M516.4 938.8h5.1v2.7h-5.1zM521.4 938.8h4.8v2.7h-4.8zM526.3 938.8h4.7v2.7h-4.7zM512 942h6.6v3.1h-6.6zM512 945.3h3.9v2.7h-3.9zM515.9 945.3h5.9v2.7h-5.9zM528.7 945.3h2.3v2.7h-2.3zM512 948.1h6.2v2.7h-6.2zM518.2 948.1h7v2.7h-7zM529.6 948.1h1.4v2.7h-1.4zM512 953.7h7.6v2.7h-7.6zM524.6 953.7h4.2v2.7h-4.2zM528.8 953.7h2.2v2.7h-2.2zM512 956.6h6.2v2.8h-6.2zM525.8 956.6h5.2v2.8h-5.2zM512 959.6h5.2v3h-5.2zM527.6 959.6h3.4v3h-3.4zM512 963.2h4.5v2.3h-4.5zM516.5 963.2h3.7v2.3h-3.7zM527.3 963.2h3.7v2.3h-3.7zM523.9 965.6h5.1v3h-5.1zM529 965.6h2v3h-2zM518.8 968.9h4.7v2.2h-4.7zM520.5 971.2h2.8v2h-2.8zM529.5 971.2h1.5v2h-1.5zM512 973.3h5v3h-5zM520.5 973.3h7.2v3h-7.2zM527.7 973.3h3.3v3h-3.3zM512 976.9h7.1v3h-7.1zM519.1 976.9h5.2v3h-5.2zM524.3 976.9h2.7v3h-2.7zM518 980h7.7v2.3h-7.7zM529.4 980h1.6v2.3h-1.6zM516 982.3h3.4v2.3h-3.4zM524.6 982.3h6.4v2.3h-6.4zM521.2 987.9h5.3v2.6h-5.3zM526.5 987.9h4.3v2.6h-4.3zM512 993.5h4v3h-4zM516 993.5h4v3h-4zM525.4 993.5h4.5v3h-4.5zM529.8 993.5h1.2v3h-1.2zM516.7 996.8h5.8v3.1h-5.8zM529.8 996.8h1.2v3.1h-1.2zM512 1000.2h7.3v2.7h-7.3zM528.8 1000.2h2.2v2.7h-2.2zM515 1003.2h4.5v2.6h-4.5zM519.8 1006.3h3.2v2.2h-3.2zM512 1008.9h6.8v2.2h-6.8zM518.8 1008.9h7.8v2.2h-7.8zM530.5 1008.9h0.5v2.2h-0.5zM512 1011.4h3.3v3.1h-3.3zM515.3 1011.4h6.1v3.1h-6.1zM521.5 1011.4h2.8v3.1h-2.8zM530.1 1011.4h0.9v3.1h-0.9zM518.8 1014.9h7.1v2.8h-7.1zM526 1014.9h3.4v2.8h-3.4zM512 1018.2h3.1v2.8h-3.1zM515.1 1018.2h5.6v2.8h-5.6zM512 1021h2.9v2.3h-2.9zM519.2 1021h3v2.3h-3zM525.9 1021h3.3v2.3h-3.3zM522.6 1023.5h3.2v2.8h-3.2zM512 1026.5h5.6v3h-5.6zM528.1 1026.5h2.9v3h-2.9zM512 1029.8h4.5v2.6h-4.5zM516.5 1029.8h3.5v2.6h-3.5zM520 1029.8h7.9v2.6h-7.9zM527.9 1029.8h3.1v2.6h-3.1zM519.1 1033h5.3v2.1h-5.3zM524.4 1033h6.6v2.1h-6.6zM514.7 1035.1h3.8v2.9h-3.8zM523.7 1035.1h7.2v2.9h-7.2zM512 1038.3h3v3.1h-3zM521.4 1038.3h3.3v3.1h-3.3zM527.6 1038.3h3.4v3.1h-3.4zM512 1041.8h3.7v3.1h-3.7zM530.5 1041.8h0.5v3.1h-0.5zM512 1045.3h3.6v2.2h-3.6zM515.6 1045.3h2.9v2.2h-2.9zM518.5 1045.3h3v2.2h-3zM521.5 1045.3h6.5v2.2h-6.5zM528 1045.3h3v2.2h-3zM517.4 1047.9h7.3v2.9h-7.3zM512 1050.9h2.7v2.5h-2.7zM514.7 1050.9h7.7v2.5h-7.7zM522.4 1050.9h7.5v2.5h-7.5zM530 1050.9h1v2.5h-1zM515.4 1053.5h6.5v2.4h-6.5zM529.8 1053.5h1.2v2.4h-1.2zM512 1056.5h6.6v2.6h-6.6zM512 1059.4h2.6v3.1h-2.6zM521 1059.4h6.6v3.1h-6.6zM527.6 1059.4h3.4v3.1h-3.4zM512 1062.5h7.9v2.6h-7.9zM519.9 1062.5h5.5v2.6h-5.5zM512 1065.7h4.6v3.1h-4.6zM516.6 1065.7h7.2v3.1h-7.2zM523.8 1065.7h7.2v3.1h-7.2zM529.2 1069.1h1.8v2.6h-1.8zM515.4 1072.1h7.3v2.6h-7.3zM522.7 1072.1h4.5v2.6h-4.5zM527.1 1072.1h3.9v2.6h-3.9zM514.5 1075.3h7.3v2.4h-7.3zM521.8 1075.3h7.3v2.4h-7.3zM512 1078.3h7.1v2.9h-7.1zM512 1081.7h4.5v2.2h-4.5zM527.8 1081.7h3.2v2.2h-3.2zM512 1084.1h6.8v2.6h-6.8zM522.7 1084.1h3.2v2.6h-3.2z"/>
<path fill="#1c36ec" d="M531 938.8h11v2.7h-11zM531 942h11v3.1h-11zM531 945.3h11v2.7h-11zM531 948.1h11v2.7h-11zM531 951.1h11v2.5h-11zM531 953.7h11v2.7h-11zM531 956.6h11v2.8h-11zM531 959.6h11v3h-11zM531 963.2h11v2.3h-11zM531 965.6h11v3h-11zM531 968.9h11v2.2h-11zM531 971.2h11v2h-11zM531 973.3h11v3h-11zM531 976.9h11v3h-11zM531 980h11v2.3h-11zM531 982.3h11v2.3h-11zM531 984.9h11v2.9h-11zM531 987.9h11v2.6h-11zM531 990.6h11v2.4h-11zM531 993.5h11v3h-11zM531 996.8h11v3.1h-11zM531 1000.2h11v2.7h-11zM531 1003.2h11v2.6h-11zM531 1006.3h11v2.2h-11zM531 1008.9h11v2.2h-11zM531 1011.4h11v3.1h-11zM531 1014.9h11v2.8h-11zM531 1018.2h11v2.8h-11zM531 1021h11v2.3h-11zM531 1023.5h11v2.8h-11zM531 1026.5h11v3h-11zM531 1029.8h11v2.6h-11zM531 1033h11v2.1h-11zM531 1035.1h11v2.9h-11zM531 1038.3h11v3.1h-11zM531 1041.8h11v3.1h-11zM531 1045.3h11v2.2h-11zM531 1047.9h11v2.9h-11zM531 1050.9h11v2.5h-11zM531 1053.5h11v2.4h-11zM531 1056.5h11v2.6h-11zM531 1059.4h11v3.1h-11zM531 1062.5h11v2.6h-11zM531 1065.7h11v3.1h-11zM531 1069.1h11v2.6h-11zM531 1072.1h11v2.6h-11zM531 1075.3h11v2.4h-11zM531 1078.3h11v2.9h-11zM531 1081.7h11v2.2h-11zM531 1084.1h11v2.6h-11zM531 1087.1h11v2.9h-11z"/>
<path fill="#08084a" d="M503 942h9v3.1h-9zM503 945.3h9v2.7h-9zM503 951.1h9v2.5h-9zM503 953.7h9v2.7h-9zM503 956.6h9v2.8h-9zM503 959.6h9v3h-9zM503 965.6h9v3h-9zM503 968.9h9v2.2h-9zM503 971.2h9v2h-9zM503 973.3h9v3h-9zM503 976.9h9v3h-9zM503 980h9v2.3h-9zM503 982.3h9v2.3h-9zM503 984.9h9v2.9h-9zM503 987.9h9v2.6h-9zM503 993.5h9v3h-9zM503 996.8h9v3.1h-9zM503 1000.2h9v2.7h-9zM503 1003.2h9v2.6h-9zM503 1006.3h9v2.2h-9zM503 1008.9h9v2.2h-9zM503 1011.4h9v3.1h-9zM503 1014.9h9v2.8h-9zM503 1018.2h9v2.8h-9zM503 1021h9v2.3h-9zM503 1023.5h9v2.8h-9zM503 1026.5h9v3h-9zM503 1029.8h9v2.6h-9zM503 1038.3h9v3.1h-9zM503 1041.8h9v3.1h-9zM503 1045.3h9v2.2h-9zM503 1050.9h9v2.5h-9zM503 1053.5h9v2.4h-9zM503 1056.5h9v2.6h-9zM503 1059.4h9v3.1h-9zM503 1065.7h9v3.1h-9zM503 1072.1h9v2.6h-9zM503 1075.3h9v2.4h-9zM503 1078.3h9v2.9h-9zM503 1081.7h9v2.2h-9zM503 1084.1h9v2.6h-9zM503 1087.1h9v2.9h-9z"/>
<path fill="#1a26e6" d="M542 982.3h26.7v2.3h-26.7zM542 984.9h27.3v2.9h-27.3zM542 987.9h33.6v2.6h-33.6zM542 990.6h29.3v2.4h-29.3zM542 993.5h25.5v3h-25.5zM542 996.8h25.2v3.1h-25.2zM542 1000.2h27v2.7h-27zM542 1003.2h33.4v2.6h-33.4zM542 1006.3h29.1v2.2h-29.1zM542 1008.9h26.1v2.2h-26.1zM542 1011.4h31.8v3.1h-31.8zM542 1014.9h26.1v2.8h-26.1zM542 1018.2h34.6v2.8h-34.6zM542 1021h25.5v2.3h-25.5zM542 1023.5h34.2v2.8h-34.2zM542 1026.5h34.6v3h-34.6zM542 1029.8h33.4v2.6h-33.4zM542 1033h25.8v2.1h-25.8zM542 1035.1h27.5v2.9h-27.5zM542 1038.3h30.6v3.1h-30.6zM542 1041.8h26.9v3.1h-26.9zM542 1045.3h29.7v2.2h-29.7zM542 1047.9h25.1v2.9h-25.1zM542 1050.9h33v2.5h-33zM542 1053.5h32.3v2.4h-32.3zM542 1056.5h32.4v2.6h-32.4zM542 1059.4h25.6v3.1h-25.6zM542 1062.5h30.8v2.6h-30.8zM542 1065.7h28.3v3.1h-28.3zM542 1069.1h32.7v2.6h-32.7zM542 1072.1h34.9v2.6h-34.9zM542 1075.3h25.1v2.4h-25.1zM542 1078.3h33.3v2.9h-33.3zM542 1081.7h33.5v2.2h-33.5zM542 1084.1h28.5v2.6h-28.5zM542 1087.1h33.5v2.9h-33.5z"/>
<g filter="url(#hblur)">
<path fill="#3c9cf4" d="M603.2 699h51.3v2.7h-51.3zM630 750.9h55.7v2.2h-55.7zM523.4 756.1h67.5v2.7h-67.5zM690.2 808.7h27.5v2.3h-27.5zM685.3 862.1h12.4v2.2h-12.4zM623.2 888h33.5v3.1h-33.5zM665.3 888h55.8v3.1h-55.8zM578.1 905.7h69.3v3h-69.3zM608.5 973.3h38v3h-38zM687.7 982.3h40.1v2.3h-40.1zM605.2 1056.5h35.7v2.6h-35.7zM612.9 1078.3h61.4v2.9h-61.4zM679 1078.3h51.8v2.9h-51.8zM636.8 1081.7h40v2.2h-40z"/>
<path fill="#1c24f0" d="M512.7 702h67.4v2.2h-67.4zM660.4 702h57v2.2h-57zM517.8 707.2h28.3v3.2h-28.3zM587.9 707.2h45.7v3.2h-45.7zM693.7 707.2h58.3v3.2h-58.3zM696.7 720.3h43.6v2.3h-43.6zM689.7 729.6h58.2v2.8h-58.2zM630.3 744.6h37.2v3h-37.2zM546.2 747.6h64.2v3h-64.2zM513.4 750.9h45.7v2.2h-45.7zM562.5 750.9h65.9v2.2h-65.9zM614.7 756.1h38.6v2.7h-38.6zM692.3 756.1h46.6v2.7h-46.6zM668.9 759.4h38.6v3.1h-38.6zM553.2 765h68v2.5h-68zM672.8 765h52.9v2.5h-52.9zM572.9 767.7h32.4v2.7h-32.4zM515.5 770.7h18.4v2.8h-18.4zM535.7 770.7h15.9v2.8h-15.9zM559.7 770.7h53.8v2.8h-53.8zM643.7 770.7h12.1v2.8h-12.1zM516.1 773.5h63.6v2.5h-63.6zM585.9 773.5h67.5v2.5h-67.5zM519.1 778.9h61.7v2.4h-61.7zM629.8 778.9h53.8v2.4h-53.8zM592 786.9h15.4v2h-15.4zM649.1 792.2h19.5v2.7h-19.5zM709.9 792.2h35.3v2.7h-35.3zM559.2 797.9h32.1v2.4h-32.1zM599 797.9h29.5v2.4h-29.5zM521.8 800.5h65.7v2.1h-65.7zM594.1 800.5h25.4v2.1h-25.4zM517 806.1h39.6v2.4h-39.6zM605 806.1h48v2.4h-48zM584.5 808.7h16.3v2.3h-16.3zM664.3 808.7h21.9v2.3h-21.9zM522.9 811.5h66.9v3.1h-66.9zM598.3 811.5h48.1v3.1h-48.1zM584.3 814.6h42.5v2.8h-42.5zM522.9 817.9h63.6v2.5h-63.6zM662.6 817.9h66.2v2.5h-66.2zM522.8 820.9h45.7v2.4h-45.7zM514.7 823.8h31.4v2.9h-31.4zM582.1 823.8h37.4v2.9h-37.4zM608.4 827.2h23.2v2.6h-23.2zM557.4 830h62.9v3.1h-62.9zM522.9 833.1h38.8v2.2h-38.8zM675 833.1h58.5v2.2h-58.5zM539 838.6h17.7v2.3h-17.7zM624.7 838.6h23.7v2.3h-23.7zM655.9 838.6h29.6v2.3h-29.6zM526.5 841.4h57.4v3.1h-57.4zM710.2 841.4h53.1v3.1h-53.1zM623.9 844.9h41.4v2.9h-41.4zM672.1 847.9h20.8v2.3h-20.8zM665.1 850.3h34.1v2.7h-34.1zM703.5 850.3h22.8v2.7h-22.8zM513.7 853.4h64.4v3h-64.4zM651.1 853.4h17.5v3h-17.5zM585.6 856.9h42.9v2.5h-42.9zM702.4 862.1h26.5v2.2h-26.5zM646.7 864.5h59.6v2.5h-59.6zM713.3 864.5h60.5v2.5h-60.5zM524.7 867.5h20.1v2.6h-20.1zM629.9 867.5h51.9v2.6h-51.9zM632.3 876.7h47.1v2.6h-47.1zM519.1 885.2h54.8v2.3h-54.8zM569.5 891.2h41.7v2.2h-41.7zM681.1 891.2h19v2.2h-19zM592.2 893.5h63v2.5h-63zM641.2 896.5h43v3.2h-43zM543.5 902.4h39.1v3.2h-39.1zM652.5 905.7h51.4v3h-51.4zM694.5 911.8h69.6v2.8h-69.6zM706.5 917.3h55.3v2.8h-55.3zM707.7 920.5h67.7v2.3h-67.7zM695.8 923.3h21.7v2.1h-21.7zM698.7 925.9h26.7v2.3h-26.7zM581.1 938.8h60.6v2.7h-60.6zM645 945.3h68v2.7h-68zM709.2 948.1h58.4v2.7h-58.4zM604.9 951.1h62v2.5h-62zM575.6 953.7h54.7v2.7h-54.7zM630 956.6h48.6v2.8h-48.6zM571.8 959.6h33.6v3h-33.6zM609.9 959.6h47.2v3h-47.2zM662.2 959.6h24.2v3h-24.2zM586.8 963.2h19.6v2.3h-19.6zM632.3 965.6h42.5v3h-42.5zM581.9 968.9h29.5v2.2h-29.5zM692.2 973.3h59.5v3h-59.5zM585.1 984.9h29.3v2.9h-29.3zM683 987.9h21.8v2.6h-21.8zM616 990.6h38.3v2.4h-38.3zM703.3 990.6h62v2.4h-62zM619.4 993.5h45.3v3h-45.3zM681.2 1000.2h54.2v2.7h-54.2zM609.5 1003.2h44.1v2.6h-44.1zM712.1 1006.3h32.5v2.2h-32.5zM664.5 1011.4h41.5v3.1h-41.5zM680.2 1026.5h49.8v3h-49.8zM618.5 1029.8h17.2v2.6h-17.2zM709.3 1029.8h48.3v2.6h-48.3zM661.2 1035.1h45.3v2.9h-45.3zM611.3 1038.3h26.1v3.1h-26.1zM616.4 1047.9h69.2v2.9h-69.2zM706.9 1050.9h43.2v2.5h-43.2zM639.1 1053.5h14.8v2.4h-14.8zM697.4 1053.5h32.7v2.4h-32.7zM611.8 1059.4h53.2v3.1h-53.2zM675.4 1065.7h67.6v3.1h-67.6zM660 1075.3h45.7v2.4h-45.7zM660 1084.1h22.3v2.6h-22.3zM609.9 1087.1h39.5v2.9h-39.5z"/>
<path fill="#1212c8" d="M588.6 702h66.6v2.2h-66.6zM638.9 704.7h57.7v2h-57.7zM698.8 704.7h61v2h-61zM556.5 710.9h48.6v2.4h-48.6zM607.9 710.9h15.1v2.4h-15.1zM625.5 710.9h23.2v2.4h-23.2zM652.8 710.9h47.5v2.4h-47.5zM708.5 710.9h12v2.4h-12zM712.1 732.5h56.1v3.1h-56.1zM602.6 738.6h35v2.3h-35zM707.1 738.6h42.8v2.3h-42.8zM547.9 753.5h54.2v2.3h-54.2zM607.4 753.5h64.5v2.3h-64.5zM655 756.1h35.4v2.7h-35.4zM513.5 759.4h69.1v3.1h-69.1zM620.2 762.8h36.4v2.1h-36.4zM513.8 765h33.7v2.5h-33.7zM621.3 770.7h19v2.8h-19zM699.6 773.5h48.9v2.5h-48.9zM582.7 778.9h45.7v2.4h-45.7zM687.3 778.9h46.3v2.4h-46.3zM515.2 784.3h31.7v2.3h-31.7zM548.7 784.3h24.8v2.3h-24.8zM676.7 786.9h43.1v2h-43.1zM513.5 789.4h66.8v2.3h-66.8zM642.5 789.4h31v2.3h-31zM681.5 789.4h15.4v2.3h-15.4zM700 789.4h59.7v2.3h-59.7zM673.3 792.2h28.1v2.7h-28.1zM525.4 795.2h26.8v2.5h-26.8zM553.7 795.2h22.2v2.5h-22.2zM674.2 795.2h34.2v2.5h-34.2zM634.8 797.9h30.1v2.4h-30.1zM670.7 797.9h49.4v2.4h-49.4zM621 800.5h55.7v2.1h-55.7zM681.9 800.5h53.9v2.1h-53.9zM676.9 802.9h31.1v2.7h-31.1zM708.9 802.9h18.9v2.7h-18.9zM559.5 806.1h36.5v2.4h-36.5zM609.1 808.7h51.5v2.3h-51.5zM677.4 811.5h51.9v3.1h-51.9zM669.6 820.9h61.7v2.4h-61.7zM513.2 827.2h60v2.6h-60zM700.8 827.2h54.4v2.6h-54.4zM522.1 830h29.3v3.1h-29.3zM625.8 830h50.7v3.1h-50.7zM684.9 830h20.4v3.1h-20.4zM569 833.1h54.1v2.2h-54.1zM627.3 833.1h39v2.2h-39zM585.8 835.5h69.7v3.1h-69.7zM663.7 835.5h61.4v3.1h-61.4zM513.1 844.9h25.8v2.9h-25.8zM586 850.3h16.6v2.7h-16.6zM706.5 853.4h59.8v3h-59.8zM690.3 856.9h54.9v2.5h-54.9zM517 862.1h28.4v2.2h-28.4zM575.8 870.4h17.8v2.3h-17.8zM671.2 870.4h60.4v2.3h-60.4zM665 873.2h60.6v3.2h-60.6zM602.7 879.3h32.9v2.1h-32.9zM641.8 882.1h70v2.8h-70zM563.9 888h54.1v3.1h-54.1zM590.5 902.4h64.9v3.2h-64.9zM710.1 905.7h51.8v3h-51.8zM705.7 915h61.3v2h-61.3zM707.9 928.2h14.4v2.3h-14.4zM575.5 933.3h57.5v2h-57.5zM709.8 938.8h56v2.7h-56zM577 942h23.6v3.1h-23.6zM608.4 942h64.4v3.1h-64.4zM580.4 945.3h34.8v2.7h-34.8zM572.7 948.1h39.7v2.7h-39.7zM616.3 948.1h45.6v2.7h-45.6zM664.1 948.1h41.6v2.7h-41.6zM576.3 951.1h22v2.5h-22zM674.8 951.1h56.3v2.5h-56.3zM573.7 956.6h53.7v2.8h-53.7zM694.9 959.6h18.1v3h-18.1zM612.4 963.2h43v2.3h-43zM579.1 965.6h50.2v3h-50.2zM585.2 976.9h61.4v3h-61.4zM581.1 980h18.2v2.3h-18.2zM602.8 980h40.4v2.3h-40.4zM604.4 1008.9h49.2v2.2h-49.2zM655.8 1008.9h66.3v2.2h-66.3zM610 1011.4h53.2v3.1h-53.2zM611.1 1014.9h69.5v2.8h-69.5zM664.6 1018.2h32.5v2.8h-32.5zM684.2 1021h13.2v2.3h-13.2zM647.9 1033h40.5v2.1h-40.5zM690.6 1047.9h45v2.9h-45zM684.8 1050.9h19.8v2.5h-19.8zM655.9 1053.5h34.5v2.4h-34.5zM690.3 1059.4h28.7v3.1h-28.7zM605.2 1062.5h14.4v2.6h-14.4zM618.5 1065.7h19.6v3.1h-19.6zM643.8 1065.7h24v3.1h-24zM612.9 1075.3h41v2.4h-41zM655.4 1087.1h55.8v2.9h-55.8z"/>
<path fill="#2c5cf4" d="M636.6 707.2h51v3.2h-51zM683.6 732.5h23.7v3.1h-23.7zM517.8 744.6h12.7v3h-12.7zM606.8 744.6h18.9v3h-18.9zM524.3 753.5h15.6v2.3h-15.6zM591.1 759.4h17.3v3.1h-17.3zM657 773.5h18v2.5h-18zM612.2 786.9h58.6v2h-58.6zM614.4 795.2h54.3v2.5h-54.3zM590.3 802.9h28.1v2.7h-28.1zM621.3 802.9h50.7v2.7h-50.7zM684.8 814.6h32.3v2.8h-32.3zM594.3 817.9h63v2.5h-63zM574.2 820.9h49v2.4h-49zM622.6 823.8h56.8v2.9h-56.8zM687.9 823.8h65.9v2.9h-65.9zM633.6 827.2h60.3v2.6h-60.3zM666.3 844.9h29.3v2.9h-29.3zM564.4 847.9h38.7v2.3h-38.7zM695.4 847.9h30.4v2.3h-30.4zM605.5 850.3h57v2.7h-57zM630.1 856.9h57v2.5h-57zM596.2 859.6h48v2.2h-48zM527.7 870.4h45.3v2.3h-45.3zM670 879.3h67.7v2.1h-67.7zM525.2 882.1h62.6v2.8h-62.6zM591.4 882.1h47.3v2.8h-47.3zM576.5 885.2h66.7v2.3h-66.7zM635.6 933.3h13v2h-13zM648.6 938.8h54.3v2.7h-54.3zM687.8 968.9h56.4v2.2h-56.4zM584.6 971.2h61.3v2h-61.3zM651 971.2h39.5v2h-39.5zM581.4 982.3h41.4v2.3h-41.4zM613.7 1021h62.1v2.3h-62.1zM703.6 1021h67.3v2.3h-67.3zM693.4 1069.1h37.4v2.6h-37.4zM607.1 1081.7h24.5v2.2h-24.5zM684.1 1081.7h31.7v2.2h-31.7zM712.2 1087.1h23.5v2.9h-23.5z"/>
<path fill="#0a0a8a" d="M512.4 710.9h37.6v2.4h-37.6zM685.7 722.9h57.9v2.8h-57.9zM692.7 736.1h51.1v2.5h-51.1zM641.9 738.6h29.7v2.3h-29.7zM537.3 744.6h17.5v3h-17.5zM525.3 747.6h14.2v3h-14.2zM671.6 747.6h58.4v3h-58.4zM677.7 753.5h68.1v2.3h-68.1zM592.7 756.1h18v2.7h-18zM609.5 759.4h56.4v3.1h-56.4zM659.9 762.8h50.7v2.1h-50.7zM624.3 765h43.6v2.5h-43.6zM607.9 767.7h38.3v2.7h-38.3zM664 770.7h39v2.8h-39zM706.1 770.7h66.9v2.8h-66.9zM525.3 786.9h65.6v2h-65.6zM583 789.4h51.5v2.3h-51.5zM709.7 795.2h27.1v2.5h-27.1zM513.3 797.9h39v2.4h-39zM540.9 802.9h41v2.7h-41zM659.4 806.1h42.2v2.4h-42.2zM702.9 806.1h19v2.4h-19zM653 811.5h23.2v3.1h-23.2zM519.5 814.6h56.1v2.8h-56.1zM632.5 814.6h45.4v2.8h-45.4zM551.3 823.8h28.9v2.9h-28.9zM574.9 827.2h26.5v2.6h-26.5zM710.3 830h38.2v3.1h-38.2zM555.9 835.5h22v3.1h-22zM561.7 838.6h55.4v2.3h-55.4zM586.4 841.4h40.5v3.1h-40.5zM668.5 841.4h35.5v3.1h-35.5zM555.6 844.9h63.8v2.9h-63.8zM522.2 847.9h40.1v2.3h-40.1zM515.8 850.3h65.4v2.7h-65.4zM674 853.4h28.3v3h-28.3zM521 859.6h66.3v2.2h-66.3zM701.8 859.6h28.1v2.2h-28.1zM547.6 862.1h67.8v2.2h-67.8zM616.6 862.1h32.3v2.2h-32.3zM657.5 862.1h26.8v2.2h-26.8zM513.5 864.5h56.6v2.5h-56.6zM573.7 864.5h65.1v2.5h-65.1zM628.2 870.4h34.6v2.3h-34.6zM521.7 876.7h46v2.6h-46zM525 879.3h48v2.1h-48zM575.5 879.3h18.4v2.1h-18.4zM671.7 885.2h51.3v2.3h-51.3zM525.9 888h36.8v3.1h-36.8zM514.5 891.2h53.1v2.2h-53.1zM701.6 891.2h48.2v2.2h-48.2zM659 893.5h28.6v2.5h-28.6zM617.2 896.5h18.4v3.2h-18.4zM514.2 902.4h27.7v3.2h-27.7zM662.6 902.4h54.6v3.2h-54.6zM517.9 905.7h54.1v3h-54.1zM667.8 935.4h46.7v3.1h-46.7zM679.8 956.6h37.6v2.8h-37.6zM663.1 963.2h51.7v2.3h-51.7zM615.5 968.9h65.3v2.2h-65.3zM649.7 976.9h33.6v3h-33.6zM662.4 980h66.7v2.3h-66.7zM626.8 982.3h59.6v2.3h-59.6zM659.8 984.9h30.2v2.9h-30.2zM644.1 987.9h34.5v2.6h-34.5zM709.8 987.9h17.3v2.6h-17.3zM614.3 1000.2h61.4v2.7h-61.4zM683.1 1014.9h12.4v2.8h-12.4zM618.9 1023.5h19.7v2.8h-19.7zM694.4 1033h32.5v2.1h-32.5zM713.2 1035.1h53.6v2.9h-53.6zM604.4 1045.3h29v2.2h-29zM639.9 1045.3h18.7v2.2h-18.7zM662.1 1045.3h52.6v2.2h-52.6zM607.6 1053.5h29.4v2.4h-29.4zM670.7 1059.4h15.4v3.1h-15.4zM628.1 1062.5h43.4v2.6h-43.4zM611.5 1069.1h33.3v2.6h-33.3zM665.9 1069.1h21.1v2.6h-21.1zM707 1075.3h13.2v2.4h-13.2z"/>
<path fill="#70e0b0" d="M550.9 867.5h40.7v2.6h-40.7zM647.4 873.2h16.3v3.2h-16.3zM676.4 942h44.8v3.1h-44.8zM673.6 993.5h48.9v3h-48.9zM612.4 1026.5h60.7v3h-60.7z"/>
</g>
<path fill="#f05a10" d="M434.1 700h5v2.2h-5zM433.6 711.9h6.1v2.2h-6.1zM433.2 721.2h5.6v2.2h-5.6zM433 729.6h5.8v2.2h-5.8zM433.7 740h6.8v2.2h-6.8zM434.9 752.1h4.9v2.2h-4.9zM433.8 764.4h5v2.2h-5zM434.7 772.9h4.7v2.2h-4.7zM434.6 782.2h4.1v2.2h-4.1zM434.3 794.7h5.6v2.2h-5.6zM433.4 804.2h6.9v2.2h-6.9zM434.1 812.6h4.9v2.2h-4.9zM434 820.6h6.1v2.2h-6.1zM433.3 828.3h5.6v2.2h-5.6zM434.2 836.3h5.1v2.2h-5.1zM434.6 843.8h4.8v2.2h-4.8zM434.7 856.4h5.8v2.2h-5.8zM433.6 869h6.2v2.2h-6.2zM433.7 878.4h5.1v2.2h-5.1zM433.3 890.4h6.1v2.2h-6.1zM434.4 902.8h6.6v2.2h-6.6zM434.5 913.4h4.9v2.2h-4.9zM433.7 925.5h6.4v2.2h-6.4zM434.6 936.5h6.8v2.2h-6.8zM433.6 946.5h4.6v2.2h-4.6zM434.7 957.3h4.7v2.2h-4.7zM434.4 966.3h5.6v2.2h-5.6zM434.2 973.7h4.2v2.2h-4.2zM433 984.8h5.4v2.2h-5.4zM433.4 995.1h5.1v2.2h-5.1zM434.8 1003.1h7v2.2h-7zM434.7 1015.8h5.8v2.2h-5.8zM435 1028.2h4.7v2.2h-4.7zM434.3 1035.6h5.2v2.2h-5.2zM433.7 1046.2h5.4v2.2h-5.4zM433 1056.2h6.6v2.2h-6.6zM433.4 1063.9h6.3v2.2h-6.3zM434 1071.7h6.9v2.2h-6.9zM433.9 1082.1h4.3v2.2h-4.3z"/>
<path fill="#40f040" d="M489.7 800h6.1v2.5h-6.1zM489.8 815.5h4.7v3.7h-4.7zM489.4 835.2h4.7v3.4h-4.7zM488.6 852.8h4.2v3.7h-4.2zM488.3 870.6h4.8v3h-4.8zM489.8 889.3h6.9v3.5h-6.9zM487.4 904h5.3v2.3h-5.3zM489.8 919.3h6.5v4h-6.5zM487.4 927.9h6.2v2.6h-6.2zM487.5 936.9h5.2v2.8h-5.2zM489.1 955.2h6.8v2.8h-6.8zM489.9 972.9h6.8v3.2h-6.8zM489.1 981.8h5.7v3.6h-5.7zM488.6 1000h5.7v3.3h-5.7zM487.7 1013.6h4.1v3.7h-4.1zM487.1 1032.8h5.7v3.3h-5.7zM489.5 1049h5.5v2.6h-5.5zM489.9 1063.6h4.6v2.6h-4.6zM488 1072.2h6.7v2.2h-6.7zM488 1082.8h6v2.5h-6z"/>
<path fill="#000018" d="M407 775.7h73v1.1h-73zM407 1044.1h117.1v0.7h-117.1zM407 822.8h69.6v0.7h-69.6zM407 1016h84.5v0.8h-84.5zM407 1033.9h85.3v1.2h-85.3zM407 800.5h82.3v0.9h-82.3zM407 966h111.6v1.1h-111.6zM407 759.4h81.7v1.1h-81.7zM407 1069.1h82.2v1h-82.2zM407 788.7h116.7v0.8h-116.7zM407 1062.9h92.1v1.1h-92.1zM407 772.1h119.7v0.9h-119.7zM407 735.1h83.6v0.9h-83.6zM407 1034.1h109.6v0.8h-109.6zM407 946.5h62.4v0.8h-62.4zM407 983.5h79.6v0.9h-79.6zM407 701.9h78.9v1.1h-78.9zM407 930.5h70v0.9h-70zM407 788.3h115.1v0.6h-115.1zM407 805.1h75.3v1.2h-75.3zM407 963.3h108.8v1.1h-108.8zM407 745.2h85.5v0.7h-85.5zM407 988.1h87.8v1.1h-87.8zM407 953.1h116.9v1h-116.9zM407 759.9h72.9v0.7h-72.9zM407 798h94.9v1h-94.9zM407 945.8h75v1h-75zM407 1019h103.1v1.2h-103.1zM407 890.8h65.1v1.1h-65.1zM407 714.9h105.4v1h-105.4zM407 998.4h93v0.8h-93zM407 896.8h93.8v0.8h-93.8zM407 971.3h63.8v0.6h-63.8zM407 988.3h97.2v0.8h-97.2zM407 869.3h81.1v0.8h-81.1zM407 840.6h110.1v0.9h-110.1zM407 1061.8h102.6v0.8h-102.6zM407 921.2h105.1v0.7h-105.1zM407 914.1h112.2v0.6h-112.2zM407 888.8h108.5v0.9h-108.5z"/>
</g>
<polyline points="416.4,699.9 428,704.8 439.6,716.4 450,740 459.5,762.8 467.7,786 476,815.8 482.6,829 489.3,868.7 499.2,895.2 505.8,905.2 511,925 515.8,945 519,978 525.7,984.6 537.3,996.2 545.6,1031 552.2,1054 556,1075 560.5,1085.6" fill="none" stroke="#e82020" stroke-width="2" stroke-linejoin="round"/>
<line x1="407" y1="1089" x2="713.4" y2="1089" stroke="#000" stroke-width="2"/>
<path d="M408 1089V1095M458.6 1089V1095M509.8 1089V1095M560 1089V1095M610.8 1089V1095M661.6 1089V1095M712 1089V1095" stroke="#000" stroke-width="2"/>
<text x="408" y="1122" text-anchor="middle">0</text>
<text x="507.5" y="1122" text-anchor="middle">0.5</text>
<text x="609" y="1122" text-anchor="middle">1.0</text>
<text x="559.5" y="1125" text-anchor="middle">s</text>
<text x="380" y="702.7" font-weight="bold" font-size="34">e</text>
<line x1="737.5" y1="1088" x2="1043.6" y2="1088" stroke="#000" stroke-width="2"/>
<path d="M778.3 1088V1095M822 1088V1095M865.7 1088V1095M910 1088V1095M954.3 1088V1095M998 1088V1095M1043.6 1088V1095" stroke="#000" stroke-width="2"/>
<text x="778.8" y="1128.4" text-anchor="middle">0</text>
<text x="862.7" y="1128.4" text-anchor="middle">0.5</text>
<text x="949.5" y="1128.4" text-anchor="middle">1.0</text>
<text x="907" y="1133" text-anchor="middle">s</text>
<path d="M778.3 765v0M778.3 777.5v0M778.3 790v0M778.3 802.5v0M778.3 815v0M778.3 827.5v0M778.3 840v0M778.3 852.5v0M778.3 865v0M778.3 877.5v0M778.3 890v0M778.3 902.5v0M778.3 915v0M778.3 927.5v0M778.3 940v0M778.3 952.5v0M778.3 965v0M778.3 977.5v0M778.3 990v0M778.3 1002.5v0M778.3 1015v0M778.3 1027.5v0M778.3 1040v0M778.3 1052.5v0M778.3 1065v0M778.3 1077.5v0" stroke="#c8c8c8" stroke-width="3.4" stroke-linecap="round"/>
<text transform="translate(755,897) rotate(-90)" text-anchor="middle">Stimulation later in the motif</text>
<line x1="761.4" y1="723.5" x2="761.4" y2="1070" stroke="#000" stroke-width="2"/>
<path d="M756 1064 L761.4 1080 L766.8 1064 L761.4 1068Z" fill="#000"/>
<path d="M767.6 699.5l7.2 7.2m0 -7.2l-7.2 7.2M770.3 700.5l7.2 7.2m0 -7.2l-7.2 7.2M774.5 703.6l7.2 7.2m0 -7.2l-7.2 7.2M778.1 706.7l7.2 7.2m0 -7.2l-7.2 7.2M776.2 710.2l7.2 7.2m0 -7.2l-7.2 7.2M779.6 714.2l7.2 7.2m0 -7.2l-7.2 7.2M777.9 714.9l7.2 7.2m0 -7.2l-7.2 7.2M774.7 719.8l7.2 7.2m0 -7.2l-7.2 7.2M781.3 728.2l7.2 7.2m0 -7.2l-7.2 7.2M784.8 728.8l7.2 7.2m0 -7.2l-7.2 7.2M786.9 735.8l7.2 7.2m0 -7.2l-7.2 7.2M778.3 735.7l7.2 7.2m0 -7.2l-7.2 7.2M786.4 741.3l7.2 7.2m0 -7.2l-7.2 7.2M784.6 744.1l7.2 7.2m0 -7.2l-7.2 7.2M788.2 749l7.2 7.2m0 -7.2l-7.2 7.2M793.4 751.4l7.2 7.2m0 -7.2l-7.2 7.2M786.1 756.3l7.2 7.2m0 -7.2l-7.2 7.2M795.4 760.9l7.2 7.2m0 -7.2l-7.2 7.2M791.8 765.4l7.2 7.2m0 -7.2l-7.2 7.2M800.2 774.3l7.2 7.2m0 -7.2l-7.2 7.2M794.9 778.3l7.2 7.2m0 -7.2l-7.2 7.2M800.8 780.4l7.2 7.2m0 -7.2l-7.2 7.2M798.4 786.3l7.2 7.2m0 -7.2l-7.2 7.2M808.4 789.1l7.2 7.2m0 -7.2l-7.2 7.2M804.6 790.5l7.2 7.2m0 -7.2l-7.2 7.2M803.3 795.3l7.2 7.2m0 -7.2l-7.2 7.2M799.9 798.9l7.2 7.2m0 -7.2l-7.2 7.2M811.9 801.5l7.2 7.2m0 -7.2l-7.2 7.2M806.9 802.5l7.2 7.2m0 -7.2l-7.2 7.2M809.5 805.1l7.2 7.2m0 -7.2l-7.2 7.2M814.7 807.4l7.2 7.2m0 -7.2l-7.2 7.2M812.7 808.9l7.2 7.2m0 -7.2l-7.2 7.2M816.5 812.5l7.2 7.2m0 -7.2l-7.2 7.2M805.5 814.6l7.2 7.2m0 -7.2l-7.2 7.2M806.3 817.9l7.2 7.2m0 -7.2l-7.2 7.2M807.5 820.4l7.2 7.2m0 -7.2l-7.2 7.2M815.6 821.8l7.2 7.2m0 -7.2l-7.2 7.2M816.8 823l7.2 7.2m0 -7.2l-7.2 7.2M816.5 829.3l7.2 7.2m0 -7.2l-7.2 7.2M814.4 830.3l7.2 7.2m0 -7.2l-7.2 7.2M813.8 831.7l7.2 7.2m0 -7.2l-7.2 7.2M817 834.1l7.2 7.2m0 -7.2l-7.2 7.2M819.7 835.5l7.2 7.2m0 -7.2l-7.2 7.2M819.6 839l7.2 7.2m0 -7.2l-7.2 7.2M820.7 841l7.2 7.2m0 -7.2l-7.2 7.2M816.6 845.2l7.2 7.2m0 -7.2l-7.2 7.2M815.6 846.1l7.2 7.2m0 -7.2l-7.2 7.2M822.7 850.1l7.2 7.2m0 -7.2l-7.2 7.2M821 855.5l7.2 7.2m0 -7.2l-7.2 7.2M816.6 855l7.2 7.2m0 -7.2l-7.2 7.2M817 860.3l7.2 7.2m0 -7.2l-7.2 7.2M819.6 865.4l7.2 7.2m0 -7.2l-7.2 7.2M826.7 866.1l7.2 7.2m0 -7.2l-7.2 7.2M821.2 870.4l7.2 7.2m0 -7.2l-7.2 7.2M822.6 871.4l7.2 7.2m0 -7.2l-7.2 7.2M824.1 875.9l7.2 7.2m0 -7.2l-7.2 7.2M820 878.5l7.2 7.2m0 -7.2l-7.2 7.2M833.7 886l7.2 7.2m0 -7.2l-7.2 7.2M832.1 888.2l7.2 7.2m0 -7.2l-7.2 7.2M830.3 888.6l7.2 7.2m0 -7.2l-7.2 7.2M827.7 890.2l7.2 7.2m0 -7.2l-7.2 7.2M829.3 895.7l7.2 7.2m0 -7.2l-7.2 7.2M837.6 897.8l7.2 7.2m0 -7.2l-7.2 7.2M829.5 908l7.2 7.2m0 -7.2l-7.2 7.2M833.6 910.2l7.2 7.2m0 -7.2l-7.2 7.2M835.6 913.9l7.2 7.2m0 -7.2l-7.2 7.2M834.9 913.6l7.2 7.2m0 -7.2l-7.2 7.2M840.7 919.1l7.2 7.2m0 -7.2l-7.2 7.2M838 923.4l7.2 7.2m0 -7.2l-7.2 7.2M841.4 926.4l7.2 7.2m0 -7.2l-7.2 7.2M840.1 933.7l7.2 7.2m0 -7.2l-7.2 7.2M836.1 933.9l7.2 7.2m0 -7.2l-7.2 7.2M838.2 937.2l7.2 7.2m0 -7.2l-7.2 7.2M834.3 940.9l7.2 7.2m0 -7.2l-7.2 7.2M834.9 946.8l7.2 7.2m0 -7.2l-7.2 7.2M841.2 949.2l7.2 7.2m0 -7.2l-7.2 7.2M839.9 953l7.2 7.2m0 -7.2l-7.2 7.2M840.5 953.7l7.2 7.2m0 -7.2l-7.2 7.2M838.2 957.6l7.2 7.2m0 -7.2l-7.2 7.2M841.9 958.3l7.2 7.2m0 -7.2l-7.2 7.2M842.4 962.9l7.2 7.2m0 -7.2l-7.2 7.2M848.8 968l7.2 7.2m0 -7.2l-7.2 7.2M844.3 970.1l7.2 7.2m0 -7.2l-7.2 7.2M845.4 973.4l7.2 7.2m0 -7.2l-7.2 7.2M844 975.3l7.2 7.2m0 -7.2l-7.2 7.2M842.6 977.4l7.2 7.2m0 -7.2l-7.2 7.2M853 981.9l7.2 7.2m0 -7.2l-7.2 7.2M853.8 983.9l7.2 7.2m0 -7.2l-7.2 7.2M849.3 983.8l7.2 7.2m0 -7.2l-7.2 7.2M855.9 991.5l7.2 7.2m0 -7.2l-7.2 7.2M854.9 993l7.2 7.2m0 -7.2l-7.2 7.2M854.1 993.3l7.2 7.2m0 -7.2l-7.2 7.2M857.2 995.9l7.2 7.2m0 -7.2l-7.2 7.2M849.9 1001.8l7.2 7.2m0 -7.2l-7.2 7.2M849.9 1004.1l7.2 7.2m0 -7.2l-7.2 7.2M860.6 1005.9l7.2 7.2m0 -7.2l-7.2 7.2M861.1 1010.2l7.2 7.2m0 -7.2l-7.2 7.2M860.7 1015.1l7.2 7.2m0 -7.2l-7.2 7.2M863.7 1017.2l7.2 7.2m0 -7.2l-7.2 7.2M859.6 1022.5l7.2 7.2m0 -7.2l-7.2 7.2M855.6 1022.5l7.2 7.2m0 -7.2l-7.2 7.2M863.2 1025.3l7.2 7.2m0 -7.2l-7.2 7.2M859.5 1027.4l7.2 7.2m0 -7.2l-7.2 7.2M856.4 1030.3l7.2 7.2m0 -7.2l-7.2 7.2M865.7 1033.5l7.2 7.2m0 -7.2l-7.2 7.2M866.5 1037.8l7.2 7.2m0 -7.2l-7.2 7.2M863.6 1039.9l7.2 7.2m0 -7.2l-7.2 7.2M859.7 1044.9l7.2 7.2m0 -7.2l-7.2 7.2M864.6 1049.3l7.2 7.2m0 -7.2l-7.2 7.2M862.9 1049.5l7.2 7.2m0 -7.2l-7.2 7.2M863.9 1051.9l7.2 7.2m0 -7.2l-7.2 7.2M871.8 1054.5l7.2 7.2m0 -7.2l-7.2 7.2M865.5 1059l7.2 7.2m0 -7.2l-7.2 7.2M864 1058.7l7.2 7.2m0 -7.2l-7.2 7.2M866.8 1061.7l7.2 7.2m0 -7.2l-7.2 7.2M865.6 1063.7l7.2 7.2m0 -7.2l-7.2 7.2M873.6 1068.9l7.2 7.2m0 -7.2l-7.2 7.2M867.3 1072.7l7.2 7.2m0 -7.2l-7.2 7.2M867.6 1077.1l7.2 7.2m0 -7.2l-7.2 7.2M870.7 1082.8l7.2 7.2m0 -7.2l-7.2 7.2M816.5 714.1l7.2 7.2m0 -7.2l-7.2 7.2M814.3 739l7.2 7.2m0 -7.2l-7.2 7.2M818.5 751.3l7.2 7.2m0 -7.2l-7.2 7.2M820.2 714.7l7.2 7.2m0 -7.2l-7.2 7.2M813.8 715.6l7.2 7.2m0 -7.2l-7.2 7.2M813.8 738.3l7.2 7.2m0 -7.2l-7.2 7.2M820.2 748.3l7.2 7.2m0 -7.2l-7.2 7.2M814.4 746.5l7.2 7.2m0 -7.2l-7.2 7.2M815 724l7.2 7.2m0 -7.2l-7.2 7.2M819 706.8l7.2 7.2m0 -7.2l-7.2 7.2M812.9 744.9l7.2 7.2m0 -7.2l-7.2 7.2M814.8 720.6l7.2 7.2m0 -7.2l-7.2 7.2M817.6 736.9l7.2 7.2m0 -7.2l-7.2 7.2M812.1 719.5l7.2 7.2m0 -7.2l-7.2 7.2M816.2 727.2l7.2 7.2m0 -7.2l-7.2 7.2M814 732.2l7.2 7.2m0 -7.2l-7.2 7.2M821.2 722.3l7.2 7.2m0 -7.2l-7.2 7.2M817.2 708.5l7.2 7.2m0 -7.2l-7.2 7.2M843.3 921l7.2 7.2m0 -7.2l-7.2 7.2M841.4 935.2l7.2 7.2m0 -7.2l-7.2 7.2M851 884.6l7.2 7.2m0 -7.2l-7.2 7.2M851.4 902.4l7.2 7.2m0 -7.2l-7.2 7.2M849.3 926.9l7.2 7.2m0 -7.2l-7.2 7.2M843.6 921.7l7.2 7.2m0 -7.2l-7.2 7.2M847.9 930l7.2 7.2m0 -7.2l-7.2 7.2M843.2 926.7l7.2 7.2m0 -7.2l-7.2 7.2M851.6 921.5l7.2 7.2m0 -7.2l-7.2 7.2M846.5 885.7l7.2 7.2m0 -7.2l-7.2 7.2M846 900.9l7.2 7.2m0 -7.2l-7.2 7.2M848.7 921.8l7.2 7.2m0 -7.2l-7.2 7.2M846.9 890l7.2 7.2m0 -7.2l-7.2 7.2M847.8 918.8l7.2 7.2m0 -7.2l-7.2 7.2M842.2 935.4l7.2 7.2m0 -7.2l-7.2 7.2M847.9 886.3l7.2 7.2m0 -7.2l-7.2 7.2M851.3 887.4l7.2 7.2m0 -7.2l-7.2 7.2M844 924.5l7.2 7.2m0 -7.2l-7.2 7.2M847.2 913.9l7.2 7.2m0 -7.2l-7.2 7.2M847.8 907.7l7.2 7.2m0 -7.2l-7.2 7.2M843.8 889.7l7.2 7.2m0 -7.2l-7.2 7.2M840.8 924.2l7.2 7.2m0 -7.2l-7.2 7.2M849.1 913.2l7.2 7.2m0 -7.2l-7.2 7.2M848.9 901.4l7.2 7.2m0 -7.2l-7.2 7.2M843.2 902.9l7.2 7.2m0 -7.2l-7.2 7.2M850.6 881.1l7.2 7.2m0 -7.2l-7.2 7.2M846.1 894.2l7.2 7.2m0 -7.2l-7.2 7.2M849.3 901.1l7.2 7.2m0 -7.2l-7.2 7.2M844 904.2l7.2 7.2m0 -7.2l-7.2 7.2M846.6 927.8l7.2 7.2m0 -7.2l-7.2 7.2M860.5 1069.8l7.2 7.2m0 -7.2l-7.2 7.2M853.6 1026l7.2 7.2m0 -7.2l-7.2 7.2M853.2 1014l7.2 7.2m0 -7.2l-7.2 7.2M872.7 1060.7l7.2 7.2m0 -7.2l-7.2 7.2M855.7 1019.8l7.2 7.2m0 -7.2l-7.2 7.2M862.3 1061.9l7.2 7.2m0 -7.2l-7.2 7.2M873.7 1062.3l7.2 7.2m0 -7.2l-7.2 7.2M867.3 1016.5l7.2 7.2m0 -7.2l-7.2 7.2M861.8 1020.1l7.2 7.2m0 -7.2l-7.2 7.2M865.5 1048.6l7.2 7.2m0 -7.2l-7.2 7.2M856.2 1024.4l7.2 7.2m0 -7.2l-7.2 7.2M872.8 1007.7l7.2 7.2m0 -7.2l-7.2 7.2M873.4 1073.1l7.2 7.2m0 -7.2l-7.2 7.2M877.6 1034.5l7.2 7.2m0 -7.2l-7.2 7.2M866.2 1049.7l7.2 7.2m0 -7.2l-7.2 7.2M868.5 1079.7l7.2 7.2m0 -7.2l-7.2 7.2M870 1028.2l7.2 7.2m0 -7.2l-7.2 7.2M875 1042.2l7.2 7.2m0 -7.2l-7.2 7.2M867.6 1060.6l7.2 7.2m0 -7.2l-7.2 7.2M850.5 1064l7.2 7.2m0 -7.2l-7.2 7.2M869.3 1042.8l7.2 7.2m0 -7.2l-7.2 7.2M865.4 1040.4l7.2 7.2m0 -7.2l-7.2 7.2M855.9 1045.6l7.2 7.2m0 -7.2l-7.2 7.2M851.5 1043.4l7.2 7.2m0 -7.2l-7.2 7.2M868.9 1039.2l7.2 7.2m0 -7.2l-7.2 7.2M866.6 1078.3l7.2 7.2m0 -7.2l-7.2 7.2M875.9 1015.7l7.2 7.2m0 -7.2l-7.2 7.2M873.1 1052.8l7.2 7.2m0 -7.2l-7.2 7.2M851.8 1032.8l7.2 7.2m0 -7.2l-7.2 7.2M857.1 1011.3l7.2 7.2m0 -7.2l-7.2 7.2M865.8 1076.1l7.2 7.2m0 -7.2l-7.2 7.2M859.6 1071.6l7.2 7.2m0 -7.2l-7.2 7.2M870.3 1015.6l7.2 7.2m0 -7.2l-7.2 7.2M874.9 1051.1l7.2 7.2m0 -7.2l-7.2 7.2M876.9 1059.8l7.2 7.2m0 -7.2l-7.2 7.2M871.6 1031.5l7.2 7.2m0 -7.2l-7.2 7.2M873.5 1076.2l7.2 7.2m0 -7.2l-7.2 7.2M875 1038.6l7.2 7.2m0 -7.2l-7.2 7.2M872 1042.3l7.2 7.2m0 -7.2l-7.2 7.2M853.5 1008.6l7.2 7.2m0 -7.2l-7.2 7.2M852.6 1020.6l7.2 7.2m0 -7.2l-7.2 7.2M855 1043.2l7.2 7.2m0 -7.2l-7.2 7.2M870.4 1046.2l7.2 7.2m0 -7.2l-7.2 7.2M862.5 1054.7l7.2 7.2m0 -7.2l-7.2 7.2M859.1 1040.7l7.2 7.2m0 -7.2l-7.2 7.2M797.8 732.5l7.2 7.2m0 -7.2l-7.2 7.2M789.1 752.4l7.2 7.2m0 -7.2l-7.2 7.2M797.2 731.1l7.2 7.2m0 -7.2l-7.2 7.2M792 737.6l7.2 7.2m0 -7.2l-7.2 7.2M795.3 725.4l7.2 7.2m0 -7.2l-7.2 7.2M786.4 724.8l7.2 7.2m0 -7.2l-7.2 7.2M798.1 722.1l7.2 7.2m0 -7.2l-7.2 7.2M793.3 724.2l7.2 7.2m0 -7.2l-7.2 7.2M789.5 723.2l7.2 7.2m0 -7.2l-7.2 7.2M792.5 723.1l7.2 7.2m0 -7.2l-7.2 7.2M797.2 793l7.2 7.2m0 -7.2l-7.2 7.2M801.4 815.8l7.2 7.2m0 -7.2l-7.2 7.2M798.2 787.7l7.2 7.2m0 -7.2l-7.2 7.2M809.8 810.9l7.2 7.2m0 -7.2l-7.2 7.2M817.5 789.5l7.2 7.2m0 -7.2l-7.2 7.2M808.5 810.2l7.2 7.2m0 -7.2l-7.2 7.2M797.2 844.3l7.2 7.2m0 -7.2l-7.2 7.2M803 792.1l7.2 7.2m0 -7.2l-7.2 7.2M810.6 796.3l7.2 7.2m0 -7.2l-7.2 7.2M815.1 807.2l7.2 7.2m0 -7.2l-7.2 7.2M800.1 789.5l7.2 7.2m0 -7.2l-7.2 7.2M818.2 802.9l7.2 7.2m0 -7.2l-7.2 7.2M820 814.3l7.2 7.2m0 -7.2l-7.2 7.2M824.4 804.4l7.2 7.2m0 -7.2l-7.2 7.2M803.9 802.3l7.2 7.2m0 -7.2l-7.2 7.2M820.8 824.1l7.2 7.2m0 -7.2l-7.2 7.2M806.7 792l7.2 7.2m0 -7.2l-7.2 7.2M816.9 844.6l7.2 7.2m0 -7.2l-7.2 7.2M814.2 786.6l7.2 7.2m0 -7.2l-7.2 7.2M797.3 791.8l7.2 7.2m0 -7.2l-7.2 7.2" stroke="#2f55c4" stroke-width="1.6" fill="none"/>
<circle cx="758.7" cy="703.6" r="3.9" fill="#e8200c" stroke="#9a0c06" stroke-width="0.7"/>
<circle cx="760" cy="705.9" r="3.9" fill="#e8200c" stroke="#9a0c06" stroke-width="0.7"/>
<circle cx="761.8" cy="708.2" r="3.9" fill="#e8200c" stroke="#9a0c06" stroke-width="0.7"/>
<circle cx="765.3" cy="710.4" r="3.9" fill="#e8200c" stroke="#9a0c06" stroke-width="0.7"/>
<circle cx="767.7" cy="712.7" r="3.9" fill="#e8200c" stroke="#9a0c06" stroke-width="0.7"/>
<circle cx="766.2" cy="715.2" r="3.9" fill="#e8200c" stroke="#9a0c06" stroke-width="0.7"/>
<circle cx="769.2" cy="717.7" r="3.9" fill="#e8200c" stroke="#9a0c06" stroke-width="0.7"/>
<circle cx="768.3" cy="720.2" r="3.9" fill="#e8200c" stroke="#9a0c06" stroke-width="0.7"/>
<circle cx="769.9" cy="722.8" r="3.9" fill="#e8200c" stroke="#9a0c06" stroke-width="0.7"/>
<circle cx="770.9" cy="725.3" r="3.9" fill="#e8200c" stroke="#9a0c06" stroke-width="0.7"/>
<circle cx="771.6" cy="727.8" r="3.9" fill="#e8200c" stroke="#9a0c06" stroke-width="0.7"/>
<circle cx="769.9" cy="730.3" r="3.9" fill="#e8200c" stroke="#9a0c06" stroke-width="0.7"/>
<circle cx="771.7" cy="732.9" r="3.9" fill="#e8200c" stroke="#9a0c06" stroke-width="0.7"/>
<circle cx="773.6" cy="735.4" r="3.9" fill="#e8200c" stroke="#9a0c06" stroke-width="0.7"/>
<circle cx="775.6" cy="737.9" r="3.9" fill="#e8200c" stroke="#9a0c06" stroke-width="0.7"/>
<circle cx="774.1" cy="740.5" r="3.9" fill="#e8200c" stroke="#9a0c06" stroke-width="0.7"/>
<circle cx="775.7" cy="743" r="3.9" fill="#e8200c" stroke="#9a0c06" stroke-width="0.7"/>
<circle cx="778.5" cy="745.6" r="3.9" fill="#e8200c" stroke="#9a0c06" stroke-width="0.7"/>
<circle cx="777.4" cy="748.3" r="3.9" fill="#e8200c" stroke="#9a0c06" stroke-width="0.7"/>
<circle cx="779.4" cy="751" r="3.9" fill="#e8200c" stroke="#9a0c06" stroke-width="0.7"/>
<circle cx="780.4" cy="753.6" r="3.9" fill="#e8200c" stroke="#9a0c06" stroke-width="0.7"/>
<circle cx="782.3" cy="756" r="3.9" fill="#e8200c" stroke="#9a0c06" stroke-width="0.7"/>
<circle cx="784" cy="758.4" r="3.9" fill="#e8200c" stroke="#9a0c06" stroke-width="0.7"/>
<circle cx="782.6" cy="760.9" r="3.9" fill="#e8200c" stroke="#9a0c06" stroke-width="0.7"/>
<circle cx="785.2" cy="763.3" r="3.9" fill="#e8200c" stroke="#9a0c06" stroke-width="0.7"/>
<circle cx="786.1" cy="765.7" r="3.9" fill="#e8200c" stroke="#9a0c06" stroke-width="0.7"/>
<circle cx="787.2" cy="768.2" r="3.9" fill="#e8200c" stroke="#9a0c06" stroke-width="0.7"/>
<circle cx="787.1" cy="770.7" r="3.9" fill="#e8200c" stroke="#9a0c06" stroke-width="0.7"/>
<circle cx="789" cy="773.2" r="3.9" fill="#e8200c" stroke="#9a0c06" stroke-width="0.7"/>
<circle cx="788.1" cy="775.8" r="3.9" fill="#e8200c" stroke="#9a0c06" stroke-width="0.7"/>
<circle cx="789" cy="778.3" r="3.9" fill="#e8200c" stroke="#9a0c06" stroke-width="0.7"/>
<circle cx="789.2" cy="780.8" r="3.9" fill="#e8200c" stroke="#9a0c06" stroke-width="0.7"/>
<circle cx="791.8" cy="783.3" r="3.9" fill="#e8200c" stroke="#9a0c06" stroke-width="0.7"/>
<circle cx="791.9" cy="785.9" r="3.9" fill="#e8200c" stroke="#9a0c06" stroke-width="0.7"/>
<circle cx="792.3" cy="788.4" r="3.9" fill="#e8200c" stroke="#9a0c06" stroke-width="0.7"/>
<circle cx="793" cy="790.9" r="3.9" fill="#e8200c" stroke="#9a0c06" stroke-width="0.7"/>
<circle cx="795.7" cy="793.5" r="3.9" fill="#e8200c" stroke="#9a0c06" stroke-width="0.7"/>
<circle cx="796.3" cy="796" r="3.9" fill="#e8200c" stroke="#9a0c06" stroke-width="0.7"/>
<circle cx="797.6" cy="798.5" r="3.9" fill="#e8200c" stroke="#9a0c06" stroke-width="0.7"/>
<circle cx="797.7" cy="801" r="3.9" fill="#e8200c" stroke="#9a0c06" stroke-width="0.7"/>
<circle cx="799" cy="803.5" r="3.9" fill="#e8200c" stroke="#9a0c06" stroke-width="0.7"/>
<circle cx="799" cy="806" r="3.9" fill="#e8200c" stroke="#9a0c06" stroke-width="0.7"/>
<circle cx="801.6" cy="808.5" r="3.9" fill="#e8200c" stroke="#9a0c06" stroke-width="0.7"/>
<circle cx="800.6" cy="811" r="3.9" fill="#e8200c" stroke="#9a0c06" stroke-width="0.7"/>
<circle cx="802.6" cy="813.5" r="3.9" fill="#e8200c" stroke="#9a0c06" stroke-width="0.7"/>
<circle cx="804.1" cy="816" r="3.9" fill="#e8200c" stroke="#9a0c06" stroke-width="0.7"/>
<circle cx="804.5" cy="818.5" r="3.9" fill="#e8200c" stroke="#9a0c06" stroke-width="0.7"/>
<circle cx="803.5" cy="821" r="3.9" fill="#e8200c" stroke="#9a0c06" stroke-width="0.7"/>
<circle cx="804.5" cy="823.5" r="3.9" fill="#e8200c" stroke="#9a0c06" stroke-width="0.7"/>
<circle cx="807" cy="826" r="3.9" fill="#e8200c" stroke="#9a0c06" stroke-width="0.7"/>
<circle cx="806.9" cy="828.5" r="3.9" fill="#e8200c" stroke="#9a0c06" stroke-width="0.7"/>
<circle cx="808.1" cy="831" r="3.9" fill="#e8200c" stroke="#9a0c06" stroke-width="0.7"/>
<circle cx="808.6" cy="833.5" r="3.9" fill="#e8200c" stroke="#9a0c06" stroke-width="0.7"/>
<circle cx="807.8" cy="836" r="3.9" fill="#e8200c" stroke="#9a0c06" stroke-width="0.7"/>
<circle cx="809.7" cy="838.5" r="3.9" fill="#e8200c" stroke="#9a0c06" stroke-width="0.7"/>
<circle cx="809.7" cy="841" r="3.9" fill="#e8200c" stroke="#9a0c06" stroke-width="0.7"/>
<circle cx="808.8" cy="843.3" r="3.9" fill="#e8200c" stroke="#9a0c06" stroke-width="0.7"/>
<circle cx="809.3" cy="845.7" r="3.9" fill="#e8200c" stroke="#9a0c06" stroke-width="0.7"/>
<circle cx="808.7" cy="848" r="3.9" fill="#e8200c" stroke="#9a0c06" stroke-width="0.7"/>
<circle cx="810" cy="850.3" r="3.9" fill="#e8200c" stroke="#9a0c06" stroke-width="0.7"/>
<circle cx="812" cy="852.7" r="3.9" fill="#e8200c" stroke="#9a0c06" stroke-width="0.7"/>
<circle cx="809.8" cy="855" r="3.9" fill="#e8200c" stroke="#9a0c06" stroke-width="0.7"/>
<circle cx="812" cy="857.5" r="3.9" fill="#e8200c" stroke="#9a0c06" stroke-width="0.7"/>
<circle cx="811.4" cy="860.1" r="3.9" fill="#e8200c" stroke="#9a0c06" stroke-width="0.7"/>
<circle cx="812" cy="862.6" r="3.9" fill="#e8200c" stroke="#9a0c06" stroke-width="0.7"/>
<circle cx="814.5" cy="865.2" r="3.9" fill="#e8200c" stroke="#9a0c06" stroke-width="0.7"/>
<circle cx="814.1" cy="867.8" r="3.9" fill="#e8200c" stroke="#9a0c06" stroke-width="0.7"/>
<circle cx="814.2" cy="870.3" r="3.9" fill="#e8200c" stroke="#9a0c06" stroke-width="0.7"/>
<circle cx="815.3" cy="872.8" r="3.9" fill="#e8200c" stroke="#9a0c06" stroke-width="0.7"/>
<circle cx="817.5" cy="875.3" r="3.9" fill="#e8200c" stroke="#9a0c06" stroke-width="0.7"/>
<circle cx="818.1" cy="877.8" r="3.9" fill="#e8200c" stroke="#9a0c06" stroke-width="0.7"/>
<circle cx="817.1" cy="880.4" r="3.9" fill="#e8200c" stroke="#9a0c06" stroke-width="0.7"/>
<circle cx="818.5" cy="882.9" r="3.9" fill="#e8200c" stroke="#9a0c06" stroke-width="0.7"/>
<circle cx="821.4" cy="885.4" r="3.9" fill="#e8200c" stroke="#9a0c06" stroke-width="0.7"/>
<circle cx="820.1" cy="887.9" r="3.9" fill="#e8200c" stroke="#9a0c06" stroke-width="0.7"/>
<circle cx="822" cy="890.5" r="3.9" fill="#e8200c" stroke="#9a0c06" stroke-width="0.7"/>
<circle cx="822.5" cy="893" r="3.9" fill="#e8200c" stroke="#9a0c06" stroke-width="0.7"/>
<circle cx="824.4" cy="895.5" r="3.9" fill="#e8200c" stroke="#9a0c06" stroke-width="0.7"/>
<circle cx="824.8" cy="898.1" r="3.9" fill="#e8200c" stroke="#9a0c06" stroke-width="0.7"/>
<circle cx="826.3" cy="900.6" r="3.9" fill="#e8200c" stroke="#9a0c06" stroke-width="0.7"/>
<circle cx="826.1" cy="903.1" r="3.9" fill="#e8200c" stroke="#9a0c06" stroke-width="0.7"/>
<circle cx="825.7" cy="905.6" r="3.9" fill="#e8200c" stroke="#9a0c06" stroke-width="0.7"/>
<circle cx="826.3" cy="908.2" r="3.9" fill="#e8200c" stroke="#9a0c06" stroke-width="0.7"/>
<circle cx="826.7" cy="910.7" r="3.9" fill="#e8200c" stroke="#9a0c06" stroke-width="0.7"/>
<circle cx="829.5" cy="913.2" r="3.9" fill="#e8200c" stroke="#9a0c06" stroke-width="0.7"/>
<circle cx="828" cy="915.7" r="3.9" fill="#e8200c" stroke="#9a0c06" stroke-width="0.7"/>
<circle cx="828" cy="918.2" r="3.9" fill="#e8200c" stroke="#9a0c06" stroke-width="0.7"/>
<circle cx="831.1" cy="920.7" r="3.9" fill="#e8200c" stroke="#9a0c06" stroke-width="0.7"/>
<circle cx="829" cy="923.2" r="3.9" fill="#e8200c" stroke="#9a0c06" stroke-width="0.7"/>
<circle cx="831.4" cy="925.8" r="3.9" fill="#e8200c" stroke="#9a0c06" stroke-width="0.7"/>
<circle cx="829.2" cy="928.3" r="3.9" fill="#e8200c" stroke="#9a0c06" stroke-width="0.7"/>
<circle cx="830.6" cy="930.8" r="3.9" fill="#e8200c" stroke="#9a0c06" stroke-width="0.7"/>
<circle cx="830.1" cy="933.3" r="3.9" fill="#e8200c" stroke="#9a0c06" stroke-width="0.7"/>
<circle cx="832.2" cy="935.9" r="3.9" fill="#e8200c" stroke="#9a0c06" stroke-width="0.7"/>
<circle cx="831.8" cy="938.4" r="3.9" fill="#e8200c" stroke="#9a0c06" stroke-width="0.7"/>
<circle cx="832.1" cy="940.9" r="3.9" fill="#e8200c" stroke="#9a0c06" stroke-width="0.7"/>
<circle cx="832.7" cy="943.5" r="3.9" fill="#e8200c" stroke="#9a0c06" stroke-width="0.7"/>
<circle cx="833.3" cy="946" r="3.9" fill="#e8200c" stroke="#9a0c06" stroke-width="0.7"/>
<circle cx="832.3" cy="948.5" r="3.9" fill="#e8200c" stroke="#9a0c06" stroke-width="0.7"/>
<circle cx="833.5" cy="951" r="3.9" fill="#e8200c" stroke="#9a0c06" stroke-width="0.7"/>
<circle cx="833.6" cy="953.5" r="3.9" fill="#e8200c" stroke="#9a0c06" stroke-width="0.7"/>
<circle cx="833.1" cy="956" r="3.9" fill="#e8200c" stroke="#9a0c06" stroke-width="0.7"/>
<circle cx="835.8" cy="958.5" r="3.9" fill="#e8200c" stroke="#9a0c06" stroke-width="0.7"/>
<circle cx="835.6" cy="961" r="3.9" fill="#e8200c" stroke="#9a0c06" stroke-width="0.7"/>
<circle cx="836.9" cy="963.5" r="3.9" fill="#e8200c" stroke="#9a0c06" stroke-width="0.7"/>
<circle cx="835.7" cy="966.1" r="3.9" fill="#e8200c" stroke="#9a0c06" stroke-width="0.7"/>
<circle cx="837.3" cy="968.6" r="3.9" fill="#e8200c" stroke="#9a0c06" stroke-width="0.7"/>
<circle cx="837.7" cy="971.1" r="3.9" fill="#e8200c" stroke="#9a0c06" stroke-width="0.7"/>
<circle cx="839.1" cy="973.7" r="3.9" fill="#e8200c" stroke="#9a0c06" stroke-width="0.7"/>
<circle cx="837.7" cy="976.2" r="3.9" fill="#e8200c" stroke="#9a0c06" stroke-width="0.7"/>
<circle cx="839.2" cy="978.7" r="3.9" fill="#e8200c" stroke="#9a0c06" stroke-width="0.7"/>
<circle cx="840.3" cy="981.3" r="3.9" fill="#e8200c" stroke="#9a0c06" stroke-width="0.7"/>
<circle cx="839.7" cy="983.8" r="3.9" fill="#e8200c" stroke="#9a0c06" stroke-width="0.7"/>
<circle cx="841.8" cy="986.3" r="3.9" fill="#e8200c" stroke="#9a0c06" stroke-width="0.7"/>
<circle cx="843" cy="988.9" r="3.9" fill="#e8200c" stroke="#9a0c06" stroke-width="0.7"/>
<circle cx="842.8" cy="991.4" r="3.9" fill="#e8200c" stroke="#9a0c06" stroke-width="0.7"/>
<circle cx="844.3" cy="993.9" r="3.9" fill="#e8200c" stroke="#9a0c06" stroke-width="0.7"/>
<circle cx="845.1" cy="996.4" r="3.9" fill="#e8200c" stroke="#9a0c06" stroke-width="0.7"/>
<circle cx="844.8" cy="998.9" r="3.9" fill="#e8200c" stroke="#9a0c06" stroke-width="0.7"/>
<circle cx="846" cy="1001.3" r="3.9" fill="#e8200c" stroke="#9a0c06" stroke-width="0.7"/>
<circle cx="848.8" cy="1003.8" r="3.9" fill="#e8200c" stroke="#9a0c06" stroke-width="0.7"/>
<circle cx="847.7" cy="1006.3" r="3.9" fill="#e8200c" stroke="#9a0c06" stroke-width="0.7"/>
<circle cx="848.9" cy="1008.8" r="3.9" fill="#e8200c" stroke="#9a0c06" stroke-width="0.7"/>
<circle cx="848.2" cy="1011.1" r="3.9" fill="#e8200c" stroke="#9a0c06" stroke-width="0.7"/>
<circle cx="848.9" cy="1013.4" r="3.9" fill="#e8200c" stroke="#9a0c06" stroke-width="0.7"/>
<circle cx="849.1" cy="1015.7" r="3.9" fill="#e8200c" stroke="#9a0c06" stroke-width="0.7"/>
<circle cx="851.7" cy="1017.9" r="3.9" fill="#e8200c" stroke="#9a0c06" stroke-width="0.7"/>
<circle cx="851.4" cy="1020.2" r="3.9" fill="#e8200c" stroke="#9a0c06" stroke-width="0.7"/>
<circle cx="852.2" cy="1022.5" r="3.9" fill="#e8200c" stroke="#9a0c06" stroke-width="0.7"/>
<circle cx="852.9" cy="1024.8" r="3.9" fill="#e8200c" stroke="#9a0c06" stroke-width="0.7"/>
<circle cx="852.4" cy="1027.1" r="3.9" fill="#e8200c" stroke="#9a0c06" stroke-width="0.7"/>
<circle cx="854" cy="1029.3" r="3.9" fill="#e8200c" stroke="#9a0c06" stroke-width="0.7"/>
<circle cx="853.5" cy="1031.6" r="3.9" fill="#e8200c" stroke="#9a0c06" stroke-width="0.7"/>
<circle cx="853.8" cy="1033.9" r="3.9" fill="#e8200c" stroke="#9a0c06" stroke-width="0.7"/>
<circle cx="856" cy="1036.2" r="3.9" fill="#e8200c" stroke="#9a0c06" stroke-width="0.7"/>
<circle cx="856.6" cy="1038.4" r="3.9" fill="#e8200c" stroke="#9a0c06" stroke-width="0.7"/>
<circle cx="857.3" cy="1040.7" r="3.9" fill="#e8200c" stroke="#9a0c06" stroke-width="0.7"/>
<circle cx="856.3" cy="1043" r="3.9" fill="#e8200c" stroke="#9a0c06" stroke-width="0.7"/>
<circle cx="857.6" cy="1045.2" r="3.9" fill="#e8200c" stroke="#9a0c06" stroke-width="0.7"/>
<circle cx="856.9" cy="1047.5" r="3.9" fill="#e8200c" stroke="#9a0c06" stroke-width="0.7"/>
<circle cx="859" cy="1049.8" r="3.9" fill="#e8200c" stroke="#9a0c06" stroke-width="0.7"/>
<circle cx="859.2" cy="1052.1" r="3.9" fill="#e8200c" stroke="#9a0c06" stroke-width="0.7"/>
<circle cx="857.7" cy="1054.3" r="3.9" fill="#e8200c" stroke="#9a0c06" stroke-width="0.7"/>
<circle cx="860" cy="1056.6" r="3.9" fill="#e8200c" stroke="#9a0c06" stroke-width="0.7"/>
<circle cx="858" cy="1058.9" r="3.9" fill="#e8200c" stroke="#9a0c06" stroke-width="0.7"/>
<circle cx="857.9" cy="1061.2" r="3.9" fill="#e8200c" stroke="#9a0c06" stroke-width="0.7"/>
<circle cx="860.1" cy="1063.5" r="3.9" fill="#e8200c" stroke="#9a0c06" stroke-width="0.7"/>
<circle cx="859" cy="1065.7" r="3.9" fill="#e8200c" stroke="#9a0c06" stroke-width="0.7"/>
<circle cx="859.9" cy="1068" r="3.9" fill="#e8200c" stroke="#9a0c06" stroke-width="0.7"/>
<circle cx="860.5" cy="1070.3" r="3.9" fill="#e8200c" stroke="#9a0c06" stroke-width="0.7"/>
<circle cx="858.9" cy="1072.6" r="3.9" fill="#e8200c" stroke="#9a0c06" stroke-width="0.7"/>
<circle cx="861.1" cy="1075" r="3.9" fill="#e8200c" stroke="#9a0c06" stroke-width="0.7"/>
<circle cx="859.7" cy="1077.4" r="3.9" fill="#e8200c" stroke="#9a0c06" stroke-width="0.7"/>
<circle cx="860.2" cy="1079.8" r="3.9" fill="#e8200c" stroke="#9a0c06" stroke-width="0.7"/>
<circle cx="860" cy="1082.2" r="3.9" fill="#e8200c" stroke="#9a0c06" stroke-width="0.7"/>
<circle cx="861.2" cy="1084.6" r="3.9" fill="#e8200c" stroke="#9a0c06" stroke-width="0.7"/>
<circle cx="867.3" cy="810.5" r="4.6" fill="#5a5a5a" stroke="#222" stroke-width="1"/>
<circle cx="888" cy="812.7" r="4.6" fill="#5a5a5a" stroke="#222" stroke-width="1"/>
<circle cx="913.5" cy="819.1" r="4.6" fill="#5a5a5a" stroke="#222" stroke-width="1"/>
<circle cx="846.3" cy="826.5" r="4.6" fill="#5a5a5a" stroke="#222" stroke-width="1"/>
<circle cx="867.3" cy="850.4" r="4.6" fill="#5a5a5a" stroke="#222" stroke-width="1"/>
<circle cx="869.2" cy="891.5" r="4.6" fill="#5a5a5a" stroke="#222" stroke-width="1"/>
<circle cx="871.1" cy="939" r="4.6" fill="#5a5a5a" stroke="#222" stroke-width="1"/>
<circle cx="867.3" cy="948.2" r="4.6" fill="#5a5a5a" stroke="#222" stroke-width="1"/>
<circle cx="868.3" cy="954" r="4.6" fill="#5a5a5a" stroke="#222" stroke-width="1"/>
<circle cx="861.9" cy="963.6" r="4.6" fill="#5a5a5a" stroke="#222" stroke-width="1"/>
<circle cx="868.6" cy="984" r="4.6" fill="#5a5a5a" stroke="#222" stroke-width="1"/>
<circle cx="890.6" cy="988.1" r="4.6" fill="#5a5a5a" stroke="#222" stroke-width="1"/>
<circle cx="893.1" cy="1002.5" r="4.6" fill="#5a5a5a" stroke="#222" stroke-width="1"/>
<circle cx="886.4" cy="1006.6" r="4.6" fill="#5a5a5a" stroke="#222" stroke-width="1"/>
<circle cx="900.1" cy="1012" r="4.6" fill="#5a5a5a" stroke="#222" stroke-width="1"/>
<circle cx="901.1" cy="1028" r="4.6" fill="#5a5a5a" stroke="#222" stroke-width="1"/>
<circle cx="915.1" cy="1030.5" r="4.6" fill="#5a5a5a" stroke="#222" stroke-width="1"/>
<circle cx="920.9" cy="1051.2" r="4.6" fill="#5a5a5a" stroke="#222" stroke-width="1"/>
<circle cx="914.5" cy="1064.6" r="4.6" fill="#5a5a5a" stroke="#222" stroke-width="1"/>
<circle cx="929.8" cy="1066.2" r="4.6" fill="#5a5a5a" stroke="#222" stroke-width="1"/>
<circle cx="928.8" cy="1082.2" r="4.6" fill="#5a5a5a" stroke="#222" stroke-width="1"/>
<circle cx="970.3" cy="1082.8" r="4.6" fill="#5a5a5a" stroke="#222" stroke-width="1"/>
<circle cx="859.6" cy="713" r="4.6" fill="#f26a26" stroke="#222" stroke-width="1"/>
<circle cx="831.6" cy="717.1" r="4.6" fill="#f26a26" stroke="#222" stroke-width="1"/>
<circle cx="894.7" cy="724.4" r="4.6" fill="#f26a26" stroke="#222" stroke-width="1"/>
<circle cx="900.1" cy="719.3" r="4.6" fill="#f26a26" stroke="#222" stroke-width="1"/>
<circle cx="831" cy="728.9" r="4.6" fill="#f26a26" stroke="#222" stroke-width="1"/>
<circle cx="845.9" cy="731.4" r="4.6" fill="#f26a26" stroke="#222" stroke-width="1"/>
<circle cx="843.7" cy="736.2" r="4.6" fill="#f26a26" stroke="#222" stroke-width="1"/>
<circle cx="834.1" cy="738.5" r="4.6" fill="#f26a26" stroke="#222" stroke-width="1"/>
<circle cx="864.1" cy="751.2" r="4.6" fill="#f26a26" stroke="#222" stroke-width="1"/>
<circle cx="871.1" cy="760.8" r="4.6" fill="#f26a26" stroke="#222" stroke-width="1"/>
<circle cx="838" cy="758.5" r="4.6" fill="#f26a26" stroke="#222" stroke-width="1"/>
<circle cx="842.7" cy="762.7" r="4.6" fill="#f26a26" stroke="#222" stroke-width="1"/>
<circle cx="848.2" cy="765.6" r="4.6" fill="#f26a26" stroke="#222" stroke-width="1"/>
<circle cx="928.8" cy="766.5" r="4.6" fill="#f26a26" stroke="#222" stroke-width="1"/>
<circle cx="850.1" cy="776.1" r="4.6" fill="#f26a26" stroke="#222" stroke-width="1"/>
<circle cx="867.3" cy="782.5" r="4.6" fill="#f26a26" stroke="#222" stroke-width="1"/>
<circle cx="861.2" cy="796.8" r="4.6" fill="#f26a26" stroke="#222" stroke-width="1"/>
<circle cx="890.6" cy="795.2" r="4.6" fill="#f26a26" stroke="#222" stroke-width="1"/>
<circle cx="885.8" cy="800" r="4.6" fill="#f26a26" stroke="#222" stroke-width="1"/>
<circle cx="887.4" cy="803.8" r="4.6" fill="#f26a26" stroke="#222" stroke-width="1"/>
<circle cx="857.7" cy="807.3" r="4.6" fill="#f26a26" stroke="#222" stroke-width="1"/>
<circle cx="873" cy="814.3" r="4.6" fill="#f26a26" stroke="#222" stroke-width="1"/>
<circle cx="864.1" cy="820.1" r="4.6" fill="#f26a26" stroke="#222" stroke-width="1"/>
<circle cx="959.8" cy="822.3" r="4.6" fill="#f26a26" stroke="#222" stroke-width="1"/>
<circle cx="876.2" cy="832.8" r="4.6" fill="#f26a26" stroke="#222" stroke-width="1"/>
<circle cx="882" cy="830.3" r="4.6" fill="#f26a26" stroke="#222" stroke-width="1"/>
<circle cx="911.3" cy="838.3" r="4.6" fill="#f26a26" stroke="#222" stroke-width="1"/>
<circle cx="888" cy="845.6" r="4.6" fill="#f26a26" stroke="#222" stroke-width="1"/>
<circle cx="953.7" cy="847.2" r="4.6" fill="#f26a26" stroke="#222" stroke-width="1"/>
<circle cx="961.4" cy="843.7" r="4.6" fill="#f26a26" stroke="#222" stroke-width="1"/>
<circle cx="866" cy="854.8" r="4.6" fill="#f26a26" stroke="#222" stroke-width="1"/>
<circle cx="874.9" cy="853.2" r="4.6" fill="#f26a26" stroke="#222" stroke-width="1"/>
<circle cx="944.8" cy="855.8" r="4.6" fill="#f26a26" stroke="#222" stroke-width="1"/>
<circle cx="920.2" cy="860.6" r="4.6" fill="#f26a26" stroke="#222" stroke-width="1"/>
<circle cx="913.8" cy="866.9" r="4.6" fill="#f26a26" stroke="#222" stroke-width="1"/>
<circle cx="926.6" cy="870.5" r="4.6" fill="#f26a26" stroke="#222" stroke-width="1"/>
<circle cx="971.9" cy="864.7" r="4.6" fill="#f26a26" stroke="#222" stroke-width="1"/>
<circle cx="968" cy="869.2" r="4.6" fill="#f26a26" stroke="#222" stroke-width="1"/>
<circle cx="988.8" cy="863.1" r="4.6" fill="#f26a26" stroke="#222" stroke-width="1"/>
<circle cx="865.4" cy="880.7" r="4.6" fill="#f26a26" stroke="#222" stroke-width="1"/>
<circle cx="874.3" cy="878.4" r="4.6" fill="#f26a26" stroke="#222" stroke-width="1"/>
<circle cx="885.8" cy="874.9" r="4.6" fill="#f26a26" stroke="#222" stroke-width="1"/>
<circle cx="908.7" cy="876.5" r="4.6" fill="#f26a26" stroke="#222" stroke-width="1"/>
<circle cx="875.3" cy="885.1" r="4.6" fill="#f26a26" stroke="#222" stroke-width="1"/>
<circle cx="884.5" cy="882.3" r="4.6" fill="#f26a26" stroke="#222" stroke-width="1"/>
<circle cx="945.4" cy="883.8" r="4.6" fill="#f26a26" stroke="#222" stroke-width="1"/>
<circle cx="998" cy="887.7" r="4.6" fill="#f26a26" stroke="#222" stroke-width="1"/>
<circle cx="904.3" cy="895.6" r="4.6" fill="#f26a26" stroke="#222" stroke-width="1"/>
<circle cx="918.9" cy="894" r="4.6" fill="#f26a26" stroke="#222" stroke-width="1"/>
<circle cx="899.2" cy="907.1" r="4.6" fill="#f26a26" stroke="#222" stroke-width="1"/>
<circle cx="917.7" cy="910.9" r="4.6" fill="#f26a26" stroke="#222" stroke-width="1"/>
<circle cx="957.5" cy="912.2" r="4.6" fill="#f26a26" stroke="#222" stroke-width="1"/>
<circle cx="912.3" cy="920.2" r="4.6" fill="#f26a26" stroke="#222" stroke-width="1"/>
<circle cx="915.1" cy="923.4" r="4.6" fill="#f26a26" stroke="#222" stroke-width="1"/>
<circle cx="921.5" cy="927.5" r="4.6" fill="#f26a26" stroke="#222" stroke-width="1"/>
<circle cx="959.8" cy="924.3" r="4.6" fill="#f26a26" stroke="#222" stroke-width="1"/>
<circle cx="936.2" cy="933.9" r="4.6" fill="#f26a26" stroke="#222" stroke-width="1"/>
<circle cx="986.5" cy="931.7" r="4.6" fill="#f26a26" stroke="#222" stroke-width="1"/>
<circle cx="962.9" cy="937.4" r="4.6" fill="#f26a26" stroke="#222" stroke-width="1"/>
<circle cx="971.9" cy="941.9" r="4.6" fill="#f26a26" stroke="#222" stroke-width="1"/>
<circle cx="905.9" cy="945.1" r="4.6" fill="#f26a26" stroke="#222" stroke-width="1"/>
<circle cx="1012.7" cy="946.7" r="4.6" fill="#f26a26" stroke="#222" stroke-width="1"/>
<circle cx="916.1" cy="984.9" r="4.6" fill="#f26a26" stroke="#222" stroke-width="1"/>
<circle cx="949.6" cy="989.7" r="4.6" fill="#f26a26" stroke="#222" stroke-width="1"/>
<circle cx="963.9" cy="977.9" r="4.6" fill="#f26a26" stroke="#222" stroke-width="1"/>
<circle cx="975.1" cy="981.7" r="4.6" fill="#f26a26" stroke="#222" stroke-width="1"/>
<circle cx="1022.9" cy="997" r="4.6" fill="#f26a26" stroke="#222" stroke-width="1"/>
<circle cx="964.5" cy="1015.2" r="4.6" fill="#f26a26" stroke="#222" stroke-width="1"/>
<circle cx="923.4" cy="1033.7" r="4.6" fill="#f26a26" stroke="#222" stroke-width="1"/>
<circle cx="974.1" cy="1055.1" r="4.6" fill="#f26a26" stroke="#222" stroke-width="1"/>
<circle cx="1019.1" cy="1075.8" r="4.6" fill="#f26a26" stroke="#222" stroke-width="1"/>
<circle cx="866" cy="999.9" r="4.6" fill="#2a9a2a" stroke="#222" stroke-width="1"/>
<circle cx="894.1" cy="1025.4" r="4.6" fill="#2a9a2a" stroke="#222" stroke-width="1"/>
<circle cx="848.5" cy="809.2" r="4.6" fill="#c030e0" stroke="#222" stroke-width="1"/>
<circle cx="940" cy="1010.4" r="4.6" fill="#c030e0" stroke="#222" stroke-width="1"/>
<circle cx="994.2" cy="993.5" r="4.6" fill="#c030e0" stroke="#222" stroke-width="1"/>
<text x="4" y="1155.5" font-weight="bold" font-size="34">f</text>
<text x="232" y="1156" font-weight="bold" font-size="34">g</text>
<text x="589" y="1157" font-weight="bold" font-size="34">h</text>
<text x="816" y="1155.5" font-weight="bold" font-size="34">i</text>
<text x="25" y="1180.4" fill="#bba443">motif stop</text>
<text x="25" y="1201.3" fill="#3fcc2a">pause +</text>
<text x="25" y="1224.7" fill="#3fcc2a">continuation</text>
<text x="25" y="1246.8" fill="#7f7f7f">no perturbation</text>
<line x1="66.4" y1="1272.7" x2="66.4" y2="1486.7" stroke="#000" stroke-width="2"/>
<path d="M59.4 1272.7H66.4M59.4 1379.7H66.4M59.4 1486.7H66.4" stroke="#000" stroke-width="2"/>
<text x="61.5" y="1283.1" text-anchor="end">100</text>
<text x="61.5" y="1390.1" text-anchor="end">50</text>
<text x="61.5" y="1497.1" text-anchor="end">0</text>
<text transform="translate(24.5,1368.5) rotate(-90)" text-anchor="middle">Probability(%)</text>
<path d="M77 1487h0M87.5 1487h0M98 1487h0M108.5 1487h0M119 1487h0M129.5 1487h0M140 1487h0M150.5 1487h0M161 1487h0M171.5 1487h0M182 1487h0M192.5 1487h0M203 1487h0" stroke="#aaa" stroke-width="3" stroke-linecap="round"/>
<path d="M75 1284.5H95.4V1319H75Z M75 1302H95.4 M85.2 1284.5V1274.4 M80.2 1274.4H90.2 M85.2 1319V1326.8 M80.2 1326.8H90.2" fill="none" stroke="#bba443" stroke-width="1.6"/>
<circle cx="107.7" cy="1284.5" r="6.3" fill="#b8a040" stroke="#000" stroke-width="1.6"/>
<circle cx="107.7" cy="1298.5" r="6.3" fill="#b8a040" stroke="#000" stroke-width="1.6"/>
<line x1="97" y1="1291" x2="119.8" y2="1291" stroke="#000" stroke-width="2"/>
<rect x="75" y="1352.6" width="16.5" height="8" fill="#fff" stroke="#000" stroke-width="1.4"/>
<text x="98" y="1366">HVC</text>
<circle cx="83.1" cy="1384.6" r="7" fill="#fff" stroke="#000" stroke-width="1.4"/>
<text x="99" y="1392">thalamus</text>
<path d="M116.4 1452H136V1484H116.4Z M116.4 1464.6H136 M126.2 1452V1434.3 M121.2 1434.3H131.2 M126.2 1484V1487 M121.2 1487H131.2" fill="none" stroke="#2a8a2a" stroke-width="1.6"/>
<circle cx="145" cy="1486.5" r="6.8" fill="#2a8a2a" stroke="#000" stroke-width="1.6"/>
<circle cx="155.5" cy="1486" r="6.8" fill="#2a8a2a" stroke="#000" stroke-width="1.6"/>
<path d="M168 1475.6H187.7V1486H168Z M168 1481H187.7 M177.8 1475.6V1472.4 M172.8 1472.4H182.8 M177.8 1486V1487 M172.8 1487H182.8" fill="none" stroke="#999" stroke-width="1.6"/>
<circle cx="200.5" cy="1462" r="6.8" fill="#999" stroke="#000" stroke-width="1.6"/>
<circle cx="200.5" cy="1475.6" r="6.8" fill="#999" stroke="#000" stroke-width="1.6"/>
<line x1="189.4" y1="1469" x2="212.8" y2="1469" stroke="#000" stroke-width="2"/>
<text x="373" y="1185">HVC</text>
<text x="372.5" y="1211" fill="#2b4aa6">thalamus</text>
<line x1="343" y1="1231.9" x2="343" y2="1445" stroke="#000" stroke-width="2"/>
<path d="M336 1231.9H343M336 1338.4H343M336 1445H343" stroke="#000" stroke-width="2"/>
<text x="338" y="1242.3" text-anchor="end">100</text>
<text x="338" y="1348.8" text-anchor="end">50</text>
<text x="338" y="1455.4" text-anchor="end">0</text>
<line x1="343" y1="1445" x2="556.5" y2="1445" stroke="#000" stroke-width="2"/>
<path d="M414.2 1445V1452M485 1445V1452M555.8 1445V1452" stroke="#000" stroke-width="2"/>
<text x="414.2" y="1473.6" text-anchor="middle">100</text>
<text x="485" y="1473.6" text-anchor="middle">200</text>
<text x="555.8" y="1473.6" text-anchor="middle">300</text>
<text x="449.4" y="1494" text-anchor="middle">ms</text>
<text transform="translate(253,1325) rotate(-90)" text-anchor="middle"><tspan fill="#2b4aa6">Truncation</tspan> latency</text>
<text transform="translate(280.5,1325) rotate(-90)" text-anchor="middle">cumulative probability (%)</text>
<path d="M363.1 1442.5 L370 1430.4 L376.9 1413.1 L387.3 1382.1 L397.7 1344.1 L408 1309.6 L418.4 1281.9 L428.7 1262.9 L442.5 1255 L456.4 1247.4 L473.6 1241.2 L490.9 1237 L501.2 1234.3 L518.5 1232.2 L556.5 1231.2 L556.5 1231.2 L518.5 1232.9 L501.2 1235.7 L490.9 1239.8 L473.6 1245.7 L456.4 1254.3 L442.5 1268.1 L428.7 1292.3 L418.4 1337.2 L408 1378.6 L397.7 1416.6 L387.3 1433.9 L376.9 1440.8 L370 1442.5 L363.1 1444.9Z" fill="#c5d3ea" fill-opacity="1"/>
<path d="M356.2 1444.9 L363.1 1437.3 L370 1420.1 L376.9 1385.5 L383.8 1323.4 L389 1275 L394.2 1257.8 L399.4 1245.7 L404.6 1239.8 L414.9 1235.3 L432.2 1232.9 L466.7 1231.5 L556.5 1231.2 L556.5 1231.2 L466.7 1232.2 L432.2 1234.6 L414.9 1239.8 L404.6 1249.1 L399.4 1261.2 L394.2 1275 L389 1302.7 L383.8 1368.3 L376.9 1406.2 L370 1432.1 L363.1 1440.8 L356.2 1444.9Z" fill="#c8c8c8" fill-opacity="1"/>
<polyline points="356.2,1444.9 363.1,1439 370,1427 376.9,1395.9 383.8,1344.1 389,1285.4 394.2,1268.1 399.4,1254.3 404.6,1244 414.9,1237 432.2,1233.6 466.7,1231.9 556.5,1231.2" fill="none" stroke="#000" stroke-width="2" stroke-linejoin="round"/>
<polyline points="361.4,1444.9 370,1433.9 376.9,1420.1 387.3,1399.3 397.7,1364.8 408,1326.8 418.4,1295.7 428.7,1275 442.5,1261.2 456.4,1250.9 473.6,1244 490.9,1238.8 501.2,1235.3 518.5,1232.6 556.5,1231.2" fill="none" stroke="#2b4aa6" stroke-width="1.8" stroke-linejoin="round"/>
<text x="430.5" y="1270" text-anchor="middle" font-size="28">***</text>
<line x1="499.5" y1="1304.4" x2="499.5" y2="1431" stroke="#000" stroke-width="2"/>
<path d="M492.5 1304.4H499.5M492.5 1346.8H499.5M492.5 1389H499.5M492.5 1431H499.5" stroke="#000" stroke-width="2"/>
<text x="494" y="1314.8" text-anchor="end">300</text>
<text x="494" y="1357.2" text-anchor="end">200</text>
<text x="494" y="1399.4" text-anchor="end">100</text>
<text x="494" y="1441.4" text-anchor="end">0</text>
<text transform="translate(440,1364.8) rotate(-90)" text-anchor="middle">ms</text>
<path d="M507 1431h0M517.5 1431h0M528 1431h0M538.5 1431h0M549 1431h0" stroke="#aaa" stroke-width="3" stroke-linecap="round"/>
<path d="M522.4 1379.3C522.7 1381.9 523.2 1391.7 524 1395C524.8 1398.3 525.6 1397.6 527 1399C528.4 1400.4 532.5 1402 532.5 1403.4C532.5 1404.8 528.5 1406.2 527 1407.6C525.5 1409 524.3 1410.4 523.5 1412C522.7 1413.6 522.6 1416.2 522.4 1417L521.6 1417C521.4 1416.2 521.3 1413.6 520.5 1412C519.7 1410.4 518.5 1409 517 1407.6C515.5 1406.2 511.5 1404.8 511.5 1403.4C511.5 1402 515.6 1400.4 517 1399C518.4 1397.6 519.2 1398.3 520 1395C520.8 1391.7 521.3 1381.9 521.6 1379.3Z" fill="#fff" stroke="#000" stroke-width="1.3"/>
<line x1="513" y1="1401" x2="531" y2="1401" stroke="#999" stroke-width="1"/>
<line x1="513" y1="1403.4" x2="531" y2="1403.4" stroke="#999" stroke-width="1"/>
<line x1="513" y1="1406" x2="531" y2="1406" stroke="#999" stroke-width="1"/>
<path d="M546.4 1307.6C546.5 1315.5 546.4 1345.9 547 1355C547.6 1364.1 549.2 1358.4 550 1362C550.8 1365.6 551 1371.6 552 1376.4C553 1381.2 555.5 1387 556 1390.6C556.5 1394.1 555.8 1395.1 555 1397.7C554.2 1400.3 552.4 1403.2 551 1406C549.6 1408.8 547.2 1413.2 546.5 1414.7L545.5 1414.7C544.8 1413.2 542.4 1408.8 541 1406C539.6 1403.2 537.8 1400.3 537 1397.7C536.2 1395.1 535.5 1394.1 536 1390.6C536.5 1387 539 1381.2 540 1376.4C541 1371.6 541.2 1365.6 542 1362C542.8 1358.4 544.4 1364.1 545 1355C545.6 1345.9 545.5 1315.5 545.6 1307.6Z" fill="#2b4aa6" stroke="#000" stroke-width="1.3"/>
<line x1="539.5" y1="1380" x2="552.5" y2="1380" stroke="#1a2a60" stroke-width="1"/>
<line x1="536.5" y1="1390" x2="555.5" y2="1390" stroke="#1a2a60" stroke-width="1"/>
<line x1="537" y1="1396.3" x2="555" y2="1396.3" stroke="#1a2a60" stroke-width="1"/>
<text x="547" y="1302" text-anchor="middle" font-size="28">***</text>
<line x1="681.2" y1="1204" x2="681.2" y2="1415.5" stroke="#000" stroke-width="2"/>
<path d="M674.2 1204H681.2M674.2 1257H681.2M674.2 1309.8H681.2M674.2 1363H681.2M674.2 1415.5H681.2" stroke="#000" stroke-width="2"/>
<text x="673" y="1214.4" text-anchor="end">200</text>
<text x="673" y="1267.4" text-anchor="end">150</text>
<text x="673" y="1320.2" text-anchor="end">100</text>
<text x="673" y="1373.4" text-anchor="end">50</text>
<text x="673" y="1425.9" text-anchor="end">0</text>
<line x1="681.2" y1="1415.5" x2="786.2" y2="1415.5" stroke="#000" stroke-width="2"/>
<path d="M698.3 1415.5V1422.5M742 1415.5V1422.5M785.8 1415.5V1422.5" stroke="#000" stroke-width="2"/>
<text x="698.3" y="1444.6" text-anchor="middle">0</text>
<text x="742" y="1444.6" text-anchor="middle">50</text>
<text x="787" y="1444.6" text-anchor="middle">100</text>
<text x="716" y="1471.8" text-anchor="middle">% motif</text>
<text x="716.6" y="1493" text-anchor="middle">advancement</text>
<path d="M698.3 1205v0M698.3 1216v0M698.3 1227v0M698.3 1238v0M698.3 1249v0M698.3 1260v0M698.3 1271v0M698.3 1282v0M698.3 1293v0M698.3 1304v0M698.3 1315v0M698.3 1326v0M698.3 1337v0M698.3 1348v0M698.3 1359v0M698.3 1370v0M698.3 1381v0M698.3 1392v0M698.3 1403v0" stroke="#999" stroke-width="3.4" stroke-linecap="round"/>
<text transform="translate(612,1343) rotate(-90)" text-anchor="middle"><tspan fill="#2b4aa6">Truncation</tspan> latency (ms)</text>
<path d="M693.5 1258.9 L701.8 1276.6 L710.8 1254.2 L719.5 1271.9 L728.5 1301.5 L737.3 1301.5 L746.7 1315.7 L755 1288.5 L764 1314.5 L772.8 1296.7 L781.8 1316.8 L781.8 1325.1 L772.8 1305 L764 1329.9 L755 1316.8 L746.7 1359.4 L737.3 1335.8 L728.5 1348.8 L719.5 1319.2 L710.8 1295.6 L701.8 1309.8 L693.5 1326.3Z" fill="#c5d3ea" fill-opacity="1"/>
<polyline points="684.8,1340.5 693.5,1291.5 701.8,1294.9 710.8,1277.4 728.5,1328.2 737.3,1312.8 746.7,1341.2 755,1304.3 764,1329.1 772.8,1301 781.8,1319.9" fill="none" stroke="#2b4aa6" stroke-width="1.8" stroke-linejoin="round"/>
<text x="903" y="1190.3">HVC</text>
<text x="903.5" y="1217.5" fill="#2b4aa6">thalamus</text>
<line x1="906.5" y1="1234" x2="906.5" y2="1444.9" stroke="#000" stroke-width="2"/>
<path d="M899.5 1234H906.5M899.5 1286.8H906.5M899.5 1339.6H906.5M899.5 1392.6H906.5M899.5 1444.9H906.5" stroke="#000" stroke-width="2"/>
<text x="898" y="1244.4" text-anchor="end">400</text>
<text x="898" y="1297.2" text-anchor="end">300</text>
<text x="898" y="1350" text-anchor="end">200</text>
<text x="898" y="1403" text-anchor="end">100</text>
<text x="898" y="1455.3" text-anchor="end">0</text>
<path d="M917 1445h0M927 1445h0M937 1445h0M947 1445h0M957 1445h0M967 1445h0M977 1445h0M987 1445h0M997 1445h0M1007 1445h0M1017 1445h0M1027 1445h0M1037 1445h0M1047 1445h0M1057 1445h0" stroke="#aaa" stroke-width="3" stroke-linecap="round"/>
<path d="M1018.8 1236v0M1018.8 1246v0M1018.8 1256v0M1018.8 1266v0M1018.8 1276v0M1018.8 1286v0M1018.8 1296v0M1018.8 1306v0M1018.8 1316v0M1018.8 1326v0M1018.8 1336v0M1018.8 1346v0M1018.8 1356v0M1018.8 1366v0M1018.8 1376v0M1018.8 1386v0M1018.8 1396v0M1018.8 1406v0M1018.8 1416v0M1018.8 1426v0M1018.8 1436v0" stroke="#aaa" stroke-width="2.4" stroke-linecap="round"/>
<text x="1037" y="1252" text-anchor="middle" font-size="28">**</text>
<text transform="translate(837.5,1338.5) rotate(-90)" text-anchor="middle"><tspan fill="#2b4aa6">Truncation</tspan> latency (ms)</text>
<path d="M918.4 1369.5C918.7 1372.6 919.2 1383.6 920 1388C920.8 1392.4 922.2 1393 923 1396C923.8 1399 924.8 1403 924.8 1406C924.8 1409 923.8 1411.7 923 1414C922.2 1416.3 920.7 1417.7 920 1420C919.3 1422.3 919 1426.5 918.8 1427.8L917.2 1427.8C917 1426.5 916.7 1422.3 916 1420C915.3 1417.7 913.8 1416.3 913 1414C912.2 1411.7 911.2 1409 911.2 1406C911.2 1403 912.2 1399 913 1396C913.8 1393 915.2 1392.4 916 1388C916.8 1383.6 917.3 1372.6 917.6 1369.5Z" fill="#fff" stroke="#000" stroke-width="1.3"/>
<line x1="911.2" y1="1406" x2="924.8" y2="1406" stroke="#000" stroke-width="1.2"/>
<line x1="913.4" y1="1400" x2="922.6" y2="1400" stroke="#000" stroke-width="1.1" stroke-dasharray="2 2"/>
<line x1="913.6" y1="1412" x2="922.4" y2="1412" stroke="#000" stroke-width="1.1" stroke-dasharray="2 2"/>
<path d="M936.1 1398.7C936.4 1399.2 937.1 1400.8 937.7 1402C938.3 1403.2 939 1404.5 939.7 1406C940.4 1407.5 941.7 1409.1 941.7 1410.8C941.7 1412.5 940.4 1414.1 939.7 1416C939 1417.9 938.2 1419.7 937.7 1422C937.2 1424.3 936.7 1428.7 936.5 1430L934.9 1430C934.7 1428.7 934.2 1424.3 933.7 1422C933.2 1419.7 932.4 1417.9 931.7 1416C931 1414.1 929.7 1412.5 929.7 1410.8C929.7 1409.1 931 1407.5 931.7 1406C932.4 1404.5 933.1 1403.2 933.7 1402C934.3 1400.8 935 1399.2 935.3 1398.7Z" fill="#fff" stroke="#000" stroke-width="1.3"/>
<line x1="929.7" y1="1410.8" x2="941.7" y2="1410.8" stroke="#000" stroke-width="1.2"/>
<line x1="932.5" y1="1406" x2="938.9" y2="1406" stroke="#000" stroke-width="1.1" stroke-dasharray="2 2"/>
<line x1="932.2" y1="1415" x2="939.2" y2="1415" stroke="#000" stroke-width="1.1" stroke-dasharray="2 2"/>
<path d="M954.1 1322C954.2 1330 954.4 1359.5 954.7 1370C955.1 1380.5 955.5 1380.8 956.2 1385C956.9 1389.2 958 1391.7 958.7 1395C959.5 1398.3 960.7 1401.5 960.7 1404.7C960.7 1407.9 959.5 1411.1 958.7 1414C957.9 1416.9 956.4 1419 955.7 1422C955 1425 954.7 1430.3 954.5 1432L952.9 1432C952.7 1430.3 952.4 1425 951.7 1422C951 1419 949.5 1416.9 948.7 1414C947.9 1411.1 946.7 1407.9 946.7 1404.7C946.7 1401.5 948 1398.3 948.7 1395C949.5 1391.7 950.5 1389.2 951.2 1385C951.9 1380.8 952.4 1380.5 952.7 1370C953.1 1359.5 953.2 1330 953.3 1322Z" fill="#fff" stroke="#000" stroke-width="1.3"/>
<line x1="946.7" y1="1404.7" x2="960.7" y2="1404.7" stroke="#000" stroke-width="1.2"/>
<line x1="949.2" y1="1398" x2="958.2" y2="1398" stroke="#000" stroke-width="1.1" stroke-dasharray="2 2"/>
<line x1="949.4" y1="1412" x2="958" y2="1412" stroke="#000" stroke-width="1.1" stroke-dasharray="2 2"/>
<path d="M972.5 1381.6C972.8 1385.5 973.2 1400.1 974.1 1405C975 1409.9 977.3 1409 978.1 1411C978.9 1413 979.3 1414.8 979.1 1417C978.9 1419.2 977.9 1421.8 977.1 1424C976.3 1426.2 974.8 1428.2 974.1 1430C973.4 1431.8 973.1 1434.2 972.9 1435L971.3 1435C971.1 1434.2 970.8 1431.8 970.1 1430C969.4 1428.2 967.9 1426.2 967.1 1424C966.3 1421.8 965.3 1419.2 965.1 1417C964.9 1414.8 965.3 1413 966.1 1411C966.9 1409 969.2 1409.9 970.1 1405C971 1400.1 971.4 1385.5 971.7 1381.6Z" fill="#fff" stroke="#000" stroke-width="1.3"/>
<line x1="965.1" y1="1417" x2="979.1" y2="1417" stroke="#000" stroke-width="1.2"/>
<line x1="967.2" y1="1412" x2="977" y2="1412" stroke="#000" stroke-width="1.1" stroke-dasharray="2 2"/>
<line x1="967.6" y1="1422" x2="976.6" y2="1422" stroke="#000" stroke-width="1.1" stroke-dasharray="2 2"/>
<path d="M990.8 1256.4C990.8 1280 990.7 1373.6 991 1398C991.3 1422.4 991.7 1401.7 992.4 1403C993.1 1404.3 994.6 1404.5 995.4 1406C996.2 1407.5 997.4 1410 997.4 1412C997.4 1414 996.2 1416.2 995.4 1418C994.6 1419.8 993.1 1421.5 992.4 1423C991.7 1424.5 991.4 1426.3 991.2 1427L989.6 1427C989.4 1426.3 989.1 1424.5 988.4 1423C987.7 1421.5 986.2 1419.8 985.4 1418C984.6 1416.2 983.4 1414 983.4 1412C983.4 1410 984.6 1407.5 985.4 1406C986.2 1404.5 987.7 1404.3 988.4 1403C989.1 1401.7 989.5 1422.4 989.8 1398C990.1 1373.6 990 1280 990 1256.4Z" fill="#fff" stroke="#000" stroke-width="1.3"/>
<line x1="983.4" y1="1412" x2="997.4" y2="1412" stroke="#000" stroke-width="1.2"/>
<line x1="985.9" y1="1408" x2="994.9" y2="1408" stroke="#000" stroke-width="1.1" stroke-dasharray="2 2"/>
<line x1="985.9" y1="1416" x2="994.9" y2="1416" stroke="#000" stroke-width="1.1" stroke-dasharray="2 2"/>
<path d="M1009.5 1378C1009.7 1381.3 1010 1393.7 1010.6 1398C1011.2 1402.3 1012.3 1401.9 1013.1 1404C1013.9 1406.1 1015.6 1408.5 1015.6 1410.8C1015.6 1413.1 1013.9 1415.8 1013.1 1418C1012.4 1420.2 1011.6 1421.7 1011.1 1424C1010.6 1426.3 1010.1 1430.7 1009.9 1432L1008.3 1432C1008.1 1430.7 1007.6 1426.3 1007.1 1424C1006.6 1421.7 1005.9 1420.2 1005.1 1418C1004.4 1415.8 1002.6 1413.1 1002.6 1410.8C1002.6 1408.5 1004.3 1406.1 1005.1 1404C1005.9 1401.9 1007 1402.3 1007.6 1398C1008.2 1393.7 1008.5 1381.3 1008.7 1378Z" fill="#fff" stroke="#000" stroke-width="1.3"/>
<line x1="1002.6" y1="1410.8" x2="1015.6" y2="1410.8" stroke="#000" stroke-width="1.2"/>
<line x1="1005.3" y1="1406" x2="1012.9" y2="1406" stroke="#000" stroke-width="1.1" stroke-dasharray="2 2"/>
<line x1="1005.3" y1="1416" x2="1012.9" y2="1416" stroke="#000" stroke-width="1.1" stroke-dasharray="2 2"/>
<path d="M1029.3 1304.6C1029.3 1313.8 1029.2 1347.4 1029.5 1360C1029.8 1372.6 1030.3 1374.7 1031 1380C1031.7 1385.3 1032.8 1389 1033.5 1392C1034.2 1395 1035.2 1395.9 1035.5 1398C1035.8 1400.1 1035.8 1402.4 1035.5 1404.7C1035.2 1407 1034 1409.8 1034 1412C1034 1414.2 1035.9 1416 1035.5 1418C1035.1 1420 1032.5 1422.5 1031.5 1424C1030.5 1425.5 1029.7 1426.5 1029.3 1427L1027.7 1427C1027.3 1426.5 1026.5 1425.5 1025.5 1424C1024.5 1422.5 1021.9 1420 1021.5 1418C1021.1 1416 1023 1414.2 1023 1412C1023 1409.8 1021.8 1407 1021.5 1404.7C1021.2 1402.4 1021.2 1400.1 1021.5 1398C1021.8 1395.9 1022.8 1395 1023.5 1392C1024.2 1389 1025.3 1385.3 1026 1380C1026.7 1374.7 1027.2 1372.6 1027.5 1360C1027.8 1347.4 1027.7 1313.8 1027.7 1304.6Z" fill="#2b4aa6" stroke="#000" stroke-width="1.3"/>
<line x1="1021.5" y1="1404.7" x2="1035.5" y2="1404.7" stroke="#000" stroke-width="1.2"/>
<line x1="1022.9" y1="1398" x2="1034.1" y2="1398" stroke="#000" stroke-width="1.1" stroke-dasharray="2 2"/>
<line x1="1024.1" y1="1412" x2="1032.9" y2="1412" stroke="#000" stroke-width="1.1" stroke-dasharray="2 2"/>
<path d="M1047.6 1389C1048.1 1389.7 1049.9 1391.5 1050.8 1393C1051.7 1394.5 1052.6 1396 1052.8 1398C1053 1400 1051.8 1403 1051.8 1405C1051.8 1407 1052.8 1408.2 1052.8 1410C1052.8 1411.8 1052.5 1414 1051.8 1416C1051.1 1418 1049.5 1420.3 1048.8 1422C1048.1 1423.7 1047.8 1425.3 1047.6 1426L1046 1426C1045.8 1425.3 1045.5 1423.7 1044.8 1422C1044.1 1420.3 1042.5 1418 1041.8 1416C1041.1 1414 1040.8 1411.8 1040.8 1410C1040.8 1408.2 1041.8 1407 1041.8 1405C1041.8 1403 1040.6 1400 1040.8 1398C1041 1396 1041.9 1394.5 1042.8 1393C1043.7 1391.5 1045.5 1389.7 1046 1389Z" fill="#2b4aa6" stroke="#000" stroke-width="1.3"/>
<line x1="1041.7" y1="1404" x2="1051.9" y2="1404" stroke="#000" stroke-width="1.2"/>
<line x1="1042" y1="1398" x2="1051.6" y2="1398" stroke="#000" stroke-width="1.1" stroke-dasharray="2 2"/>
<line x1="1042.3" y1="1412" x2="1051.3" y2="1412" stroke="#000" stroke-width="1.1" stroke-dasharray="2 2"/>
<text x="0" y="1528.5" font-weight="bold" font-size="34">j</text>
<text x="376" y="1528" font-weight="bold" font-size="34">k</text>
<text x="716" y="1527" font-weight="bold" font-size="34">l</text>
<text x="85.5" y="1556.5">panHVC <tspan fill="#1f3f9e">thalamus</tspan></text>
<line x1="93" y1="1594" x2="93" y2="1795.5" stroke="#000" stroke-width="2"/>
<path d="M86 1594H93M86 1661.3H93M86 1728.4H93M86 1795.5H93" stroke="#000" stroke-width="2"/>
<text x="85" y="1604.4" text-anchor="end">30</text>
<text x="85" y="1671.7" text-anchor="end">20</text>
<text x="85" y="1738.8" text-anchor="end">10</text>
<text x="85" y="1805.9" text-anchor="end">0</text>
<line x1="92" y1="1795.5" x2="310.4" y2="1795.5" stroke="#000" stroke-width="2"/>
<path d="M106.4 1795.5V1802.5M158 1795.5V1802.5M208.3 1795.5V1802.5M259.2 1795.5V1802.5M310.3 1795.5V1802.5" stroke="#000" stroke-width="2"/>
<text x="104.5" y="1822.5" text-anchor="middle">-100</text>
<text x="156.5" y="1822.5" text-anchor="middle">-50</text>
<text x="208.3" y="1822.5" text-anchor="middle">0</text>
<text x="259" y="1822.5" text-anchor="middle">50</text>
<text x="309.5" y="1822.5" text-anchor="middle">100</text>
<text x="186" y="1853.5" text-anchor="middle">Truncation time proximity</text>
<text x="186.5" y="1878" text-anchor="middle">to syllable end (10ms bins)</text>
<text transform="translate(25.5,1702) rotate(-90)" text-anchor="middle">Truncation events</text>
<text transform="translate(52,1702) rotate(-90)" text-anchor="middle">(fraction, %)</text>
<line x1="208.3" y1="1607" x2="208.3" y2="1795" stroke="#555" stroke-width="1.5" stroke-dasharray="1.5 3.5"/>
<path d="M157.5 1795.3 L168 1783.8 L178.5 1747 L188 1708.5 L198.5 1652.5 L209 1621 L218.8 1663 L227.5 1712 L238 1741.8 L248.5 1768 L259 1783.8 L267.8 1789.7 L277.6 1795.3 L277.6 1795.3 L267.8 1792.5 L259 1788.3 L248.5 1775 L238 1750.5 L227.5 1726 L218.8 1677 L209 1633.3 L198.5 1666.5 L188 1764.5 L178.5 1775 L168 1789 L157.5 1795.3Z" fill="#c5d5ec" fill-opacity="1"/>
<path d="M91.7 1795.3 L105 1794.6 L115.5 1792.2 L126 1785.5 L136.5 1784.8 L147 1780.3 L157.5 1759.6 L168 1735.5 L178.5 1717.3 L189 1704.3 L199.5 1707.5 L209 1710.6 L218.8 1727.1 L229.3 1721.8 L238 1739.3 L248.5 1768.4 L259 1766.3 L267.8 1781.3 L278.3 1785.5 L288.8 1790.4 L299.3 1791.8 L309.8 1795.3 L309.8 1795.3 L299.3 1794.3 L288.8 1793.9 L278.3 1790.4 L267.8 1788.3 L259 1777.5 L248.5 1777.5 L238 1747.7 L229.3 1730.2 L218.8 1735.5 L209 1719.7 L199.5 1718 L189 1716.9 L178.5 1729.2 L168 1746.7 L157.5 1768.7 L147 1786.6 L136.5 1791.8 L126 1791.1 L115.5 1795.3 L105 1795.7 L91.7 1795.3Z" fill="#c4c4c4" fill-opacity="1"/>
<polyline points="91.7,1795.3 105,1795.3 115.5,1794.3 126,1789 136.5,1789 147,1783.8 157.5,1764.5 168,1741.8 178.5,1724.3 189,1712 199.5,1713.8 209,1715.5 218.8,1731.3 229.3,1726 238,1743.5 248.5,1773.3 259,1773.3 267.8,1785.5 278.3,1788.3 288.8,1792.5 299.3,1793.2 309.8,1795.3" fill="none" stroke="#000" stroke-width="2.2" stroke-linejoin="round"/>
<polyline points="157.5,1795.3 168,1787.3 178.5,1761 188,1733 198.5,1657.8 209,1628 218.8,1671.8 227.5,1719 238,1747 248.5,1771.5 259,1785.5 267.8,1790.8 277.6,1795.3" fill="none" stroke="#1f3f9e" stroke-width="1.8" stroke-linejoin="round"/>
<text x="449.5" y="1556.3">panHVC <tspan fill="#1f3f9e">thalamus</tspan></text>
<line x1="472.4" y1="1593.8" x2="472.4" y2="1795.7" stroke="#000" stroke-width="2"/>
<path d="M465.4 1593.8H472.4M465.4 1661.9H472.4M465.4 1729.3H472.4M465.4 1795.7H472.4" stroke="#000" stroke-width="2"/>
<text x="463" y="1604.2" text-anchor="end">30</text>
<text x="463" y="1672.3" text-anchor="end">20</text>
<text x="463" y="1739.7" text-anchor="end">10</text>
<text x="463" y="1806.1" text-anchor="end">0</text>
<line x1="472.4" y1="1795.7" x2="687" y2="1795.7" stroke="#000" stroke-width="2"/>
<path d="M472.4 1795.7V1802.7M544 1795.7V1802.7M615.4 1795.7V1802.7" stroke="#000" stroke-width="2"/>
<text x="472.4" y="1823.7" text-anchor="middle">0</text>
<text x="544" y="1823.7" text-anchor="middle">100</text>
<text x="615.4" y="1823.7" text-anchor="middle">200</text>
<text x="546.5" y="1852.6" text-anchor="middle">Truncation latency from</text>
<text x="545.5" y="1880" text-anchor="middle">light onset(10ms bins)</text>
<text transform="translate(400.5,1703.5) rotate(-90)" text-anchor="middle">Truncation events</text>
<text transform="translate(427,1703.5) rotate(-90)" text-anchor="middle">(fraction, %)</text>
<path d="M486.7 1794.7 L494.5 1760.7 L502.4 1730 L509.2 1713 L516 1726.6 L522.8 1707.9 L530.3 1716.4 L537.1 1699.4 L543.9 1690.8 L552.4 1702.8 L559.3 1736.8 L566.1 1757.3 L572.9 1760.7 L579.7 1774.3 L586.5 1779.4 L595 1777.7 L601.8 1781.1 L610.3 1787.9 L630.8 1777.7 L637.6 1791.3 L637.6 1794.7 L630.8 1790.6 L610.3 1791.3 L601.8 1786.2 L595 1782.8 L586.5 1783.8 L579.7 1784.5 L572.9 1787.9 L566.1 1787.9 L559.3 1787.9 L552.4 1781.1 L543.9 1759 L537.1 1733.4 L530.3 1740.2 L522.8 1764.1 L516 1784.5 L509.2 1786.2 L502.4 1793 L494.5 1794.7 L486.7 1795.7Z" fill="#c5d5ec" fill-opacity="1"/>
<path d="M506.5 1733.4 L511.6 1665.3 L516 1604 L523.5 1602.3 L528.6 1685.7 L528.6 1699.4 L523.5 1646.6 L516 1644.9 L511.6 1685.7 L506.5 1733.4Z" fill="#c4c4c4" fill-opacity="1"/>
<path d="M529.6 1709.6 L536.4 1760.7 L543.9 1764.1 L550.7 1784.5 L550.7 1791.3 L543.9 1781.1 L536.4 1776 L529.6 1716.4Z" fill="#c4c4c4" fill-opacity="1"/>
<polyline points="472.4,1795.7 486.7,1794.7 494.5,1774.3 502.4,1747 509.9,1699.4 516,1626.1 523.5,1626.1 529.6,1713 536.4,1767.5 543.9,1774.3 551.8,1787.9 561,1791.3 574.6,1794 598.4,1795.7 687,1795.7" fill="none" stroke="#000" stroke-width="2.2" stroke-linejoin="round"/>
<polyline points="486.7,1794.7 494.5,1779.4 502.4,1767.5 509.2,1743.6 516,1757.3 522.8,1731.7 530.3,1726.6 537.1,1719.1 543.9,1728.3 550.7,1731.7 559.3,1753.9 566.1,1767.5 572.9,1774.3 579.7,1780.4 586.5,1781.1 595,1780.4 601.8,1783.8 609.3,1790.6 617.2,1790 624,1788.6 630.8,1783.8 637.6,1793 649.5,1794.7 666.5,1793.4 676.8,1794.7 687,1791.3" fill="none" stroke="#1f3f9e" stroke-width="1.8" stroke-linejoin="round"/>
<text x="743" y="1555.8" fill="#e0641e">motif restart</text>
<text x="919" y="1555.8" fill="#6a1fb0">intro notes</text>
<text x="743" y="1581">no resumption</text>
<text x="999.5" y="1581" fill="#555">calls</text>
<text x="800" y="1606.4" fill="#3fcc2a">pause+continuation</text>
<line x1="825.6" y1="1620.6" x2="825.6" y2="1832" stroke="#000" stroke-width="2"/>
<path d="M818.6 1620.6H825.6M818.6 1726.3H825.6M818.6 1832H825.6" stroke="#000" stroke-width="2"/>
<text x="818" y="1631" text-anchor="end">1.0</text>
<text x="818" y="1736.7" text-anchor="end">0.5</text>
<text x="818" y="1842.4" text-anchor="end">0.0</text>
<line x1="825.6" y1="1832" x2="1036.7" y2="1832" stroke="#000" stroke-width="2"/>
<path d="M860.4 1832V1839M904.3 1832V1839M948.2 1832V1839M992.1 1832V1839M1036 1832V1839" stroke="#000" stroke-width="2"/>
<text x="860.4" y="1864.8" text-anchor="middle">0</text>
<text x="902.5" y="1864.8" text-anchor="middle">25</text>
<text x="948.2" y="1864.8" text-anchor="middle">50</text>
<text x="992.1" y="1864.8" text-anchor="middle">75</text>
<text x="1036.5" y="1864.8" text-anchor="middle">100</text>
<text x="771" y="1886.8">% motif advancement</text>
<text transform="translate(741,1744) rotate(-90)" text-anchor="middle">Post-truncation</text>
<text transform="translate(768,1744) rotate(-90)" text-anchor="middle">outcome (probability)</text>
<path d="M860.4 1623v0M860.4 1634v0M860.4 1645v0M860.4 1656v0M860.4 1667v0M860.4 1678v0M860.4 1689v0M860.4 1700v0M860.4 1711v0M860.4 1722v0M860.4 1733v0M860.4 1744v0M860.4 1755v0M860.4 1766v0M860.4 1777v0M860.4 1788v0M860.4 1799v0M860.4 1810v0M860.4 1821v0" stroke="#999" stroke-width="3.4" stroke-linecap="round"/>
<path d="M852 1623.3 L868.9 1694.3 L887.4 1655.4 L904.3 1643.6 L922.2 1657.1 L939.8 1621.6 L957.3 1621.6 L975.2 1621.6 L992.1 1680.1 L1010 1663.9 L1027.6 1630.1 L1027.6 1707.8 L1010 1684.1 L992.1 1717.9 L975.2 1684.1 L957.3 1731.4 L939.8 1731.4 L922.2 1792.2 L904.3 1728 L887.4 1731.4 L868.9 1717.9 L852 1699.3Z" fill="#9a9a9a" fill-opacity="0.55"/>
<path d="M852 1751.7 L868.9 1734.8 L887.4 1765.2 L904.3 1717.9 L922.2 1682.4 L939.8 1741.5 L957.3 1792.2 L975.2 1805.7 L992.1 1731.4 L1010 1756.7 L1027.6 1799 L1027.6 1832 L1010 1805.7 L992.1 1785.4 L975.2 1832 L957.3 1829.3 L939.8 1826 L922.2 1778.7 L904.3 1810.8 L887.4 1805.7 L868.9 1755 L852 1832Z" fill="#f0b888" fill-opacity="0.55"/>
<path d="M868.9 1832 L887.4 1805 L904.3 1805 L922.2 1805 L939.8 1792.2 L957.3 1792.2 L975.2 1798.3 L992.1 1812.5 L1010 1832 L1027.6 1765.2 L1027.6 1832 L1010 1832 L992.1 1832 L975.2 1829.3 L957.3 1824.3 L939.8 1829.3 L922.2 1829.3 L904.3 1824.3 L887.4 1824.3 L868.9 1832Z" fill="#b0b0b0" fill-opacity="0.45"/>
<path d="M868.9 1832 L879 1824.3 L887.4 1820.9 L895.9 1824.3 L904.3 1832 L904.3 1832 L895.9 1832 L887.4 1832 L879 1832 L868.9 1832Z" fill="#c080e0" fill-opacity="0.6"/>
<path d="M939.8 1832 L948.2 1824.3 L957.3 1820.9 L966.8 1824.3 L975.2 1832 L975.2 1832 L966.8 1832 L957.3 1832 L948.2 1832 L939.8 1832Z" fill="#c080e0" fill-opacity="0.6"/>
<polyline points="833.4,1620.6 848.6,1647 860.4,1677.4 868.9,1707.8 887.4,1690.2 904.3,1698.6 922.2,1720.6 939.8,1676.7 957.3,1679.1 975.2,1647.7 992.1,1701 1010,1673 1027.6,1668.9" fill="none" stroke="#000" stroke-width="2" stroke-linejoin="round"/>
<polyline points="833.4,1832 852,1792.2 868.9,1744.9 887.4,1783.8 904.3,1769.2 922.2,1744.2 939.8,1791.5 957.3,1814.1 975.2,1821.9 992.1,1762.8 1010,1783.8 1027.6,1819.2" fill="none" stroke="#e8872a" stroke-width="2" stroke-linejoin="round"/>
<polyline points="868.9,1832 887.4,1815.8 904.3,1815.8 922.2,1821.9 939.8,1817.5 957.3,1808.4 975.2,1815.2 992.1,1821.9 1010,1832 1027.6,1797.3" fill="none" stroke="#555" stroke-width="1.8" stroke-linejoin="round"/>
<polyline points="833.4,1832 868.9,1832 887.4,1824.3 904.3,1832 939.8,1832 957.3,1824.3 975.2,1832 1010,1829.3 1027.6,1832" fill="none" stroke="#6a1fb0" stroke-width="2" stroke-linejoin="round"/>
<line x1="868.9" y1="1831.5" x2="1027.6" y2="1831.5" stroke="#2ab02a" stroke-width="1.5"/>
<text x="2" y="1924" font-weight="bold" font-size="34">m</text>
<text x="367.5" y="1924" font-weight="bold" font-size="34">n</text>
<text x="697" y="1923.5" font-weight="bold" font-size="34">o</text>
<text x="66" y="1960.5">HVC</text>
<text x="153.5" y="1960.5" fill="#e8692a">thalamus</text>
<line x1="92.8" y1="2010.2" x2="92.8" y2="2222.3" stroke="#000" stroke-width="2"/>
<path d="M85.8 2010.2H92.8M85.8 2116.3H92.8M85.8 2222.3H92.8" stroke="#000" stroke-width="2"/>
<text x="86.5" y="2020.6" text-anchor="end">100</text>
<text x="86.5" y="2126.7" text-anchor="end">50</text>
<text x="86.5" y="2232.7" text-anchor="end">0</text>
<text transform="translate(28.5,2091) rotate(-90)" text-anchor="middle"><tspan fill="#e8692a">Restart</tspan> probability (%)</text>
<path d="M101.5 2222.3h0M111.3 2222.3h0M121.1 2222.3h0M130.9 2222.3h0M140.7 2222.3h0M150.5 2222.3h0" stroke="#aaa" stroke-width="2.6" stroke-linecap="round"/>
<rect x="101.5" y="2053.3" width="26.3" height="54.2" fill="#c8c8c8"/>
<path d="M101.5 2053.3H127.8M101.5 2107.5H127.8M101.5 2083.7H127.8" stroke="#000" stroke-width="1.3" stroke-dasharray="3 2"/>
<path d="M101.5 2053.3V2107.5M127.8 2053.3V2107.5" stroke="#aaa" stroke-width="0.8"/>
<path d="M130 2083.7H157.5" stroke="#e8692a" stroke-width="2.2" stroke-dasharray="3 3.5"/>
<path d="M106 2067.3H123.2V2083.7H106Z M106 2077.8H123.2 M114.6 2067.3V2063 M110 2063H119 M114.6 2083.7V2088.3 M110 2088.3H119" fill="#fff" stroke="#000" stroke-width="1.6"/>
<text x="144" y="2132" text-anchor="middle" font-size="28">**</text>
<line x1="144.2" y1="2146" x2="144.2" y2="2190.8" stroke="#000" stroke-width="1.8"/>
<line x1="134.8" y1="2168.8" x2="154" y2="2168.8" stroke="#000" stroke-width="2.4"/>
<circle cx="144.2" cy="2146" r="6.5" fill="#f07028" stroke="#000" stroke-width="1.6"/>
<circle cx="144.2" cy="2190.8" r="6.5" fill="#f07028" stroke="#000" stroke-width="1.6"/>
<line x1="287" y1="2009.5" x2="287" y2="2222.3" stroke="#000" stroke-width="2"/>
<path d="M280 2009.5H287M280 2080.5H287M280 2151.4H287M280 2222.3H287" stroke="#000" stroke-width="2"/>
<text x="281" y="2019.9" text-anchor="end">150</text>
<text x="281" y="2090.9" text-anchor="end">100</text>
<text x="281" y="2161.8" text-anchor="end">50</text>
<text x="281" y="2232.7" text-anchor="end">0</text>
<text transform="translate(196,2115.5) rotate(-90)" text-anchor="middle"><tspan fill="#e8692a">Restart</tspan> normalized</text>
<text transform="translate(224.5,2115.5) rotate(-90)" text-anchor="middle">probability(%)</text>
<path d="M297.5 2222.3h0M307.3 2222.3h0M317.1 2222.3h0M326.9 2222.3h0M336.7 2222.3h0M346.5 2222.3h0" stroke="#aaa" stroke-width="2.6" stroke-linecap="round"/>
<path d="M298.2 2049.8H317.5V2080.2H298.2Z M298.2 2071.8H317.5 M307.9 2049.8V2043.8 M302.9 2043.8H312.9 M307.9 2080.2V2089 M302.9 2089H312.9" fill="none" stroke="#000" stroke-width="1.6"/>
<text x="332.5" y="2166" text-anchor="middle" font-size="28">***</text>
<circle cx="333.2" cy="2189.8" r="6.5" fill="#f07028" stroke="#000" stroke-width="1.6"/>
<circle cx="333.2" cy="2203.8" r="6.5" fill="#f07028" stroke="#000" stroke-width="1.6"/>
<line x1="322" y1="2196.8" x2="343" y2="2196.8" stroke="#000" stroke-width="2.4"/>
<text x="448" y="1959.8">HVC</text>
<text x="536.5" y="1959.8" fill="#e8692a">thalamus</text>
<text x="641.5" y="2006" text-anchor="middle" font-size="28">***</text>
<line x1="478.4" y1="2011.2" x2="478.4" y2="2057.6" stroke="#000" stroke-width="2"/>
<path d="M471.4 2011.2H479.4M471.4 2057.6H479.4" stroke="#000" stroke-width="2"/>
<line x1="478.4" y1="2089.4" x2="478.4" y2="2136" stroke="#000" stroke-width="2"/>
<path d="M471.4 2089.4H479.4M471.4 2113H479.4M471.4 2136H479.4" stroke="#000" stroke-width="2"/>
<line x1="478.4" y1="2168" x2="478.4" y2="2222.5" stroke="#000" stroke-width="2"/>
<path d="M471.4 2168H479.4M471.4 2195.7H479.4M471.4 2222.5H479.4" stroke="#000" stroke-width="2"/>
<text x="467" y="2021.5" text-anchor="end">1000</text>
<text x="467" y="2066.5" text-anchor="end">500</text>
<text x="467" y="2099" text-anchor="end">500</text>
<text x="467" y="2122" text-anchor="end">300</text>
<text x="467" y="2145.4" text-anchor="end">100</text>
<text x="467" y="2178.5" text-anchor="end">100</text>
<text x="467" y="2203.3" text-anchor="end">50</text>
<text x="467" y="2231.6" text-anchor="end">0</text>
<text transform="translate(393,2106.5) rotate(-90)" text-anchor="middle"><tspan fill="#e8692a">Restart</tspan> latency (ms)</text>
<path d="M486 2222.5h0M495.7 2222.5h0M505.4 2222.5h0M515.1 2222.5h0M524.8 2222.5h0M534.5 2222.5h0M544.2 2222.5h0M553.9 2222.5h0M563.6 2222.5h0M573.3 2222.5h0M583 2222.5h0M592.7 2222.5h0M602.4 2222.5h0M612.1 2222.5h0M621.8 2222.5h0M631.5 2222.5h0M641.2 2222.5h0M650.9 2222.5h0M660.6 2222.5h0" stroke="#aaa" stroke-width="2.8" stroke-linecap="round"/>
<path d="M623 2012v0M623 2021.8v0M623 2031.6v0M623 2041.4v0M623 2051.2v0M623 2061v0M623 2070.8v0M623 2080.6v0M623 2090.4v0M623 2100.2v0M623 2110v0M623 2119.8v0M623 2129.6v0M623 2139.4v0M623 2149.2v0M623 2159v0M623 2168.8v0M623 2178.6v0M623 2188.4v0M623 2198.2v0M623 2208v0M623 2217.8v0" stroke="#aaa" stroke-width="2.4" stroke-linecap="round"/>
<line x1="492.8" y1="2014.9" x2="492.8" y2="2058" stroke="#000" stroke-width="1.6"/>
<line x1="515.1" y1="2037.8" x2="515.1" y2="2058" stroke="#000" stroke-width="1.6"/>
<line x1="537.2" y1="2015.9" x2="537.2" y2="2058" stroke="#000" stroke-width="1.6"/>
<line x1="559.8" y1="2023.8" x2="559.8" y2="2058" stroke="#000" stroke-width="1.6"/>
<line x1="581.9" y1="2011.9" x2="581.9" y2="2058" stroke="#000" stroke-width="1.6"/>
<line x1="604.5" y1="2015.9" x2="604.5" y2="2058" stroke="#000" stroke-width="1.6"/>
<line x1="641.9" y1="2030.8" x2="641.9" y2="2058" stroke="#000" stroke-width="1.6"/>
<line x1="664.3" y1="2036.8" x2="664.3" y2="2058" stroke="#000" stroke-width="1.6"/>
<path d="M579.5 2058.0 L581.9 2049.7 L584.3 2058.0" fill="none" stroke="#000" stroke-width="1.3"/>
<path d="M493 2089.4C493 2091.7 493 2099.7 493.2 2103.3C493.4 2107 493.8 2108.6 494.4 2111.3C495 2113.9 496 2116.9 496.8 2119.2C497.5 2121.5 498.3 2123.5 498.8 2125.2C499.3 2126.8 499.8 2128 499.8 2129.1C499.8 2130.3 498.8 2131 498.8 2132.1C498.7 2133.3 499.3 2135.4 499.4 2136.1L486.2 2136.1C486.3 2135.4 486.9 2133.3 486.8 2132.1C486.8 2131 485.8 2130.3 485.8 2129.1C485.8 2128 486.3 2126.8 486.8 2125.2C487.3 2123.5 488.1 2121.5 488.8 2119.2C489.6 2116.9 490.6 2113.9 491.2 2111.3C491.8 2108.6 492.2 2107 492.4 2103.3C492.6 2099.7 492.6 2091.7 492.6 2089.4Z" fill="#fff"/>
<path d="M493 2089.4C493 2091.7 493 2099.7 493.2 2103.3C493.4 2107 493.8 2108.6 494.4 2111.3C495 2113.9 496 2116.9 496.8 2119.2C497.5 2121.5 498.3 2123.5 498.8 2125.2C499.3 2126.8 499.8 2128 499.8 2129.1C499.8 2130.3 498.8 2131 498.8 2132.1C498.7 2133.3 499.3 2135.4 499.4 2136.1" fill="none" stroke="#000" stroke-width="1.3"/>
<path d="M486.2 2136.1C486.3 2135.4 486.9 2133.3 486.8 2132.1C486.8 2131 485.8 2130.3 485.8 2129.1C485.8 2128 486.3 2126.8 486.8 2125.2C487.3 2123.5 488.1 2121.5 488.8 2119.2C489.6 2116.9 490.6 2113.9 491.2 2111.3C491.8 2108.6 492.2 2107 492.4 2103.3C492.6 2099.7 492.6 2091.7 492.6 2089.4" fill="none" stroke="#000" stroke-width="1.3"/>
<path d="M492.6 2089.4H493" stroke="#000" stroke-width="1.3"/>
<line x1="485.8" y1="2129.1" x2="499.8" y2="2129.1" stroke="#000" stroke-width="1.2"/>
<line x1="489.4" y1="2120.2" x2="496.2" y2="2120.2" stroke="#000" stroke-width="1.1" stroke-dasharray="2 2"/>
<line x1="515.1" y1="2089.4" x2="515.1" y2="2132.1" stroke="#000" stroke-width="1.5"/>
<path d="M511.1 2136.1 Q515.1 2133.1 519.1 2136.1" fill="none" stroke="#000" stroke-width="1.4"/>
<line x1="537.2" y1="2089.4" x2="537.2" y2="2136.1" stroke="#000" stroke-width="1.6"/>
<path d="M560 2089.4C560.1 2090.7 560.1 2094.4 560.4 2097.4C560.7 2100.3 561.6 2104 561.8 2107.3C562 2110.6 560.9 2114.6 561.4 2117.2C561.9 2119.9 563.9 2121.4 564.8 2123.2C565.7 2125 566.8 2126.6 566.8 2128.2C566.8 2129.7 565.3 2131.4 564.8 2132.7C564.3 2134 563.9 2135.5 563.8 2136.1L555.8 2136.1C555.7 2135.5 555.3 2134 554.8 2132.7C554.3 2131.4 552.8 2129.7 552.8 2128.2C552.8 2126.6 553.9 2125 554.8 2123.2C555.7 2121.4 557.7 2119.9 558.2 2117.2C558.7 2114.6 557.6 2110.6 557.8 2107.3C558 2104 558.9 2100.3 559.2 2097.4C559.5 2094.4 559.5 2090.7 559.6 2089.4Z" fill="#fff" stroke="#000" stroke-width="1.3"/>
<line x1="554.4" y1="2124.2" x2="565.2" y2="2124.2" stroke="#000" stroke-width="1.2"/>
<line x1="554.9" y1="2130.1" x2="564.7" y2="2130.1" stroke="#000" stroke-width="1.1" stroke-dasharray="2 2"/>
<path d="M583.1 2089.4C583.1 2091.7 583 2099.7 583.1 2103.3C583.2 2107 583.1 2108 583.5 2111.3C583.9 2114.6 584.7 2119.9 585.5 2123.2C586.2 2126.5 587.3 2129 587.9 2131.1C588.4 2133.3 588.7 2135.3 588.9 2136.1L574.9 2136.1C575.1 2135.3 575.4 2133.3 575.9 2131.1C576.5 2129 577.6 2126.5 578.3 2123.2C579.1 2119.9 579.9 2114.6 580.3 2111.3C580.7 2108 580.6 2107 580.7 2103.3C580.8 2099.7 580.7 2091.7 580.7 2089.4Z" fill="#fff" stroke="#000" stroke-width="1.3"/>
<line x1="578.3" y1="2123.2" x2="585.5" y2="2123.2" stroke="#000" stroke-width="1.2"/>
<line x1="576.3" y1="2136.1" x2="587.5" y2="2136.1" stroke="#000" stroke-width="1.1" stroke-dasharray="2 2"/>
<line x1="604.5" y1="2089.4" x2="604.5" y2="2130.1" stroke="#000" stroke-width="1.5"/>
<path d="M598.5 2136.1 Q604.5 2132.7 610.5 2136.1" fill="none" stroke="#000" stroke-width="1.4"/>
<path d="M642.1 2089.4C642.1 2094.4 641.8 2113.4 642.3 2119.2C642.8 2125 644.1 2122.5 644.9 2124.2C645.6 2125.8 646.2 2127.8 646.9 2129.1C647.5 2130.5 648.9 2131 648.9 2132.1C648.9 2133.3 647.2 2135.4 646.9 2136.1L636.9 2136.1C636.6 2135.4 634.9 2133.3 634.9 2132.1C634.9 2131 636.3 2130.5 636.9 2129.1C637.6 2127.8 638.2 2125.8 638.9 2124.2C639.7 2122.5 641 2125 641.5 2119.2C642 2113.4 641.7 2094.4 641.7 2089.4Z" fill="#e8692a" stroke="#000" stroke-width="1.3"/>
<line x1="635.6" y1="2131.1" x2="648.2" y2="2131.1" stroke="#000" stroke-width="1.2"/>
<line x1="638.6" y1="2127.2" x2="645.2" y2="2127.2" stroke="#000" stroke-width="1.1" stroke-dasharray="2 2"/>
<line x1="637.1" y1="2134.1" x2="646.7" y2="2134.1" stroke="#000" stroke-width="1.1" stroke-dasharray="2 2"/>
<path d="M665.1 2089.4C665.3 2090.4 666.2 2092.7 666.3 2095.4C666.4 2098 666.1 2102.5 665.9 2105.3C665.7 2108.1 664.7 2109.9 665.1 2112.3C665.5 2114.6 667.2 2116.7 668.3 2119.2C669.3 2121.7 670.9 2125 671.3 2127.2C671.7 2129.3 670.8 2130.6 670.7 2132.1C670.5 2133.6 670.3 2135.4 670.3 2136.1L658.3 2136.1C658.3 2135.4 658.1 2133.6 657.9 2132.1C657.8 2130.6 656.9 2129.3 657.3 2127.2C657.7 2125 659.3 2121.7 660.3 2119.2C661.4 2116.7 663.1 2114.6 663.5 2112.3C663.9 2109.9 662.9 2108.1 662.7 2105.3C662.5 2102.5 662.2 2098 662.3 2095.4C662.4 2092.7 663.3 2090.4 663.5 2089.4Z" fill="#e8692a" stroke="#000" stroke-width="1.3"/>
<line x1="657.7" y1="2126.2" x2="670.9" y2="2126.2" stroke="#000" stroke-width="1.2"/>
<line x1="659.2" y1="2132.1" x2="669.4" y2="2132.1" stroke="#000" stroke-width="1.1" stroke-dasharray="2 2"/>
<path d="M499.8 2167.9C499.8 2171.4 499.9 2183.6 499.8 2188.8C499.6 2193.9 499.1 2195.4 498.8 2198.7C498.4 2202 498.3 2206.1 497.8 2208.6C497.3 2211.1 496.1 2212.8 495.8 2213.6L489.8 2213.6C489.5 2212.8 488.3 2211.1 487.8 2208.6C487.3 2206.1 487.2 2202 486.8 2198.7C486.5 2195.4 486 2193.9 485.8 2188.8C485.7 2183.6 485.8 2171.4 485.8 2167.9Z" fill="#fff"/>
<path d="M499.8 2167.9C499.8 2171.4 499.9 2183.6 499.8 2188.8C499.6 2193.9 499.1 2195.4 498.8 2198.7C498.4 2202 498.3 2206.1 497.8 2208.6C497.3 2211.1 496.1 2212.8 495.8 2213.6L489.8 2213.6C489.5 2212.8 488.3 2211.1 487.8 2208.6C487.3 2206.1 487.2 2202 486.8 2198.7C486.5 2195.4 486 2193.9 485.8 2188.8C485.7 2183.6 485.8 2171.4 485.8 2167.9" fill="none" stroke="#000" stroke-width="1.3"/>
<line x1="487.2" y1="2175.8" x2="498.4" y2="2175.8" stroke="#000" stroke-width="1.1" stroke-dasharray="2 2"/>
<path d="M520.1 2167.9C520.4 2169.7 521.8 2175 522.1 2178.8C522.3 2182.6 522.1 2187.1 521.7 2190.7C521.2 2194.4 520.2 2197.7 519.5 2200.7C518.8 2203.7 517.8 2207.3 517.5 2208.6L512.7 2208.6C512.4 2207.3 511.4 2203.7 510.7 2200.7C510 2197.7 509 2194.4 508.5 2190.7C508.1 2187.1 507.9 2182.6 508.1 2178.8C508.4 2175 509.8 2169.7 510.1 2167.9Z" fill="#fff"/>
<path d="M520.1 2167.9C520.4 2169.7 521.8 2175 522.1 2178.8C522.3 2182.6 522.1 2187.1 521.7 2190.7C521.2 2194.4 520.2 2197.7 519.5 2200.7C518.8 2203.7 517.8 2207.3 517.5 2208.6L512.7 2208.6C512.4 2207.3 511.4 2203.7 510.7 2200.7C510 2197.7 509 2194.4 508.5 2190.7C508.1 2187.1 507.9 2182.6 508.1 2178.8C508.4 2175 509.8 2169.7 510.1 2167.9" fill="none" stroke="#000" stroke-width="1.3"/>
<line x1="508.3" y1="2177.8" x2="521.9" y2="2177.8" stroke="#000" stroke-width="1.2"/>
<line x1="509.9" y1="2190.7" x2="520.3" y2="2190.7" stroke="#000" stroke-width="1.1" stroke-dasharray="2 2"/>
<path d="M537.6 2167.9C538.2 2169.7 540.1 2175.3 541.2 2178.8C542.3 2182.3 544.2 2185.4 544.2 2188.8C544.2 2192.1 542 2195.4 541.2 2198.7C540.3 2202 539.5 2207 539.2 2208.6L535.2 2208.6C534.9 2207 534.1 2202 533.2 2198.7C532.4 2195.4 530.2 2192.1 530.2 2188.8C530.2 2185.4 532.1 2182.3 533.2 2178.8C534.3 2175.3 536.2 2169.7 536.8 2167.9Z" fill="#fff" stroke="#000" stroke-width="1.3"/>
<line x1="530.5" y1="2187.8" x2="543.9" y2="2187.8" stroke="#000" stroke-width="1.2"/>
<line x1="533.3" y1="2195.7" x2="541.1" y2="2195.7" stroke="#000" stroke-width="1.1" stroke-dasharray="2 2"/>
<path d="M557.8 2167.9 L559.8 2173.9 L561.8 2167.9 M559.8 2173.9 V2212.6" fill="none" stroke="#000" stroke-width="1.5"/>
<path d="M588.9 2167.9C588.7 2171.7 588.4 2185.6 587.9 2190.7C587.4 2195.9 586.2 2197.4 585.9 2198.7L577.9 2198.7C577.6 2197.4 576.4 2195.9 575.9 2190.7C575.4 2185.6 575.1 2171.7 574.9 2167.9Z" fill="#fff"/>
<path d="M588.9 2167.9C588.7 2171.7 588.4 2185.6 587.9 2190.7C587.4 2195.9 586.2 2197.4 585.9 2198.7L577.9 2198.7C577.6 2197.4 576.4 2195.9 575.9 2190.7C575.4 2185.6 575.1 2171.7 574.9 2167.9" fill="none" stroke="#000" stroke-width="1.3"/>
<path d="M610.9 2167.9C610.9 2169.7 611.1 2175 611.1 2178.8C611 2182.6 610.7 2187.3 610.5 2190.7C610.2 2194.2 609.6 2198.2 609.5 2199.7L599.5 2199.7C599.4 2198.2 598.8 2194.2 598.5 2190.7C598.3 2187.3 598 2182.6 597.9 2178.8C597.9 2175 598.1 2169.7 598.1 2167.9Z" fill="#fff" stroke="#000" stroke-width="1.3"/>
<line x1="599.5" y1="2183.8" x2="609.5" y2="2183.8" stroke="#000" stroke-width="1.1" stroke-dasharray="2 2"/>
<path d="M645.9 2167.9C645.5 2169.7 644.4 2175.7 643.9 2178.8C643.4 2182 642.9 2185.4 642.7 2186.8L641.1 2186.8C640.9 2185.4 640.4 2182 639.9 2178.8C639.4 2175.7 638.3 2169.7 637.9 2167.9Z" fill="#e8692a"/>
<path d="M645.9 2167.9C645.5 2169.7 644.4 2175.7 643.9 2178.8C643.4 2182 642.9 2185.4 642.7 2186.8L641.1 2186.8C640.9 2185.4 640.4 2182 639.9 2178.8C639.4 2175.7 638.3 2169.7 637.9 2167.9" fill="none" stroke="#000" stroke-width="1.3"/>
<path d="M670.3 2167.9C670.2 2169.1 670 2172.7 669.9 2174.8C669.7 2177 669.4 2179.8 669.3 2180.8L659.3 2180.8C659.2 2179.8 658.9 2177 658.7 2174.8C658.6 2172.7 658.4 2169.1 658.3 2167.9Z" fill="#e8692a"/>
<path d="M670.3 2167.9C670.2 2169.1 670 2172.7 669.9 2174.8C669.7 2177 669.4 2179.8 669.3 2180.8L659.3 2180.8C659.2 2179.8 658.9 2177 658.7 2174.8C658.6 2172.7 658.4 2169.1 658.3 2167.9" fill="none" stroke="#000" stroke-width="1.3"/>
<line x1="819" y1="1949.4" x2="835" y2="1949.4" stroke="#000" stroke-width="3.5"/>
<text x="841" y="1958">HVC</text>
<line x1="819" y1="1973.8" x2="835" y2="1973.8" stroke="#e8692a" stroke-width="3.5"/>
<text x="841" y="1984.2">thalamus</text>
<line x1="812.2" y1="2008.5" x2="812.2" y2="2222.7" stroke="#000" stroke-width="2"/>
<path d="M805.2 2008.5H812.2M805.2 2115.6H812.2M805.2 2222.7H812.2" stroke="#000" stroke-width="2"/>
<text x="808.5" y="2018.9" text-anchor="end">100</text>
<text x="808.5" y="2126" text-anchor="end">50</text>
<text x="808.5" y="2233.1" text-anchor="end">0</text>
<line x1="812.2" y1="2222.7" x2="1026" y2="2222.7" stroke="#000" stroke-width="2"/>
<path d="M812.2 2222.7V2229.7M919 2222.7V2229.7M1026 2222.7V2229.7" stroke="#000" stroke-width="2"/>
<text x="810.5" y="2253.3" text-anchor="middle">0</text>
<text x="1027" y="2253.3" text-anchor="middle">1000</text>
<text x="921" y="2265" text-anchor="middle">ms</text>
<text transform="translate(719.5,2091) rotate(-90)" text-anchor="middle"><tspan fill="#e8692a">Restart</tspan> latency</text>
<text transform="translate(747.5,2091) rotate(-90)" text-anchor="middle">cumulative probability (%)</text>
<path d="M832 2223 L834 2217 L845 2190 L853 2160 L860 2140 L866 2125 L875 2103 L901 2100 L915 2090 L930 2075 L945 2058 L958 2047 L970 2030 L985 2020 L1000 2014 L1026 2008.5 L1026 2008.5 L1010 2016 L995 2025 L980 2036 L965 2050 L952 2064 L940 2078 L925 2092 L905 2108 L888 2120 L883 2140 L875 2170 L868 2200 L864 2216 L864 2223Z" fill="#f5dcc4"/>
<path d="M812.5 2223 L816.5 2215 L819.6 2200 L822.3 2170 L825.3 2136 L831.5 2115.8 L839.4 2090.8 L850.5 2066 L863.5 2052 L878 2042 L886.2 2035.5 L900.2 2029 L914 2023.8 L931.8 2019 L947 2016.5 L967 2013 L987 2010.5 L1007 2009 L1023 2008.5 L1029.3 2008.5 L1013.3 2009 L993.3 2010.5 L973.3 2013 L953.3 2016.5 L938.5 2019 L922.4 2023.8 L910.3 2029 L898.4 2035.5 L891.6 2042 L877.1 2052 L864.1 2066 L853 2090.8 L845.1 2115.8 L838.8 2136 L831.3 2170 L824.7 2200 L819.6 2215 L815.6 2223Z" fill="#c4c4c4"/>
<polyline points="814,2223 818,2215 822,2200 826.6,2170 831.7,2136 838,2115.8 845.9,2090.8 857,2066 870,2052 884.5,2042 892,2035.5 905,2029 918,2023.8 935,2019 950,2016.5 970,2013 990,2010.5 1010,2009 1026,2008.5" fill="none" stroke="#000" stroke-width="2.2" stroke-linejoin="round"/>
<polyline points="812,2223 832,2223 840,2217.6 850,2200 859.4,2174 868,2152 879,2130.5 890,2115 900.7,2104.4 914,2095 926.8,2087 936,2075 944,2065.3 953,2055 961.7,2043.5 970.4,2032.6 978,2027 987.8,2021.8 997,2017 1007.4,2013 1016,2010.5 1026,2008.5" fill="none" stroke="#e8692a" stroke-width="1.8" stroke-linejoin="round"/>
<text x="899" y="2085" text-anchor="middle" font-size="28">***</text>
<line x1="981.4" y1="2081.5" x2="981.4" y2="2208" stroke="#000" stroke-width="2"/>
<path d="M974.4 2081.5H981.4M974.4 2144.8H981.4M974.4 2208H981.4" stroke="#000" stroke-width="2"/>
<text x="976" y="2091.9" text-anchor="end">1</text>
<text x="976" y="2155.2" text-anchor="end">0.5</text>
<text x="976" y="2218.4" text-anchor="end">0</text>
<text transform="translate(928.5,2145) rotate(-90)" text-anchor="middle">s</text>
<path d="M990.6 2208h0M1000.4 2208h0M1010.2 2208h0M1020 2208h0M1029.8 2208h0M1039.6 2208h0M1049.4 2208h0" stroke="#aaa" stroke-width="2.8" stroke-linecap="round"/>
<text x="1038.5" y="2082" text-anchor="middle" font-size="28">***</text>
<path d="M1004.8 2104.2C1004.8 2109.5 1004.8 2130.4 1005 2136C1005.2 2141.6 1005.9 2137.2 1005.9 2138C1005.9 2138.8 1005 2138.3 1005 2141C1005 2143.7 1005 2149.4 1005.9 2154C1006.8 2158.6 1009.1 2163.9 1010.4 2168.8C1011.7 2173.8 1012.8 2179.7 1013.6 2183.7C1014.4 2187.7 1015.4 2190.1 1015.1 2192.6C1014.8 2195.1 1013.5 2196.8 1011.8 2198.5C1010.1 2200.2 1006 2202.2 1004.9 2203L1003.9 2203C1002.8 2202.2 998.7 2200.2 997 2198.5C995.3 2196.8 994 2195.1 993.7 2192.6C993.4 2190.1 994.4 2187.7 995.2 2183.7C996 2179.7 997.1 2173.8 998.4 2168.8C999.7 2163.9 1002 2158.6 1002.9 2154C1003.8 2149.4 1003.8 2143.7 1003.8 2141C1003.8 2138.3 1002.9 2138.8 1002.9 2138C1002.9 2137.2 1003.6 2141.6 1003.8 2136C1004 2130.4 1004 2109.5 1004 2104.2Z" fill="#fff" stroke="#000" stroke-width="1.3"/>
<line x1="999.4" y1="2173.3" x2="1009.4" y2="2173.3" stroke="#999" stroke-width="1.2"/>
<line x1="994.9" y1="2186" x2="1013.9" y2="2186" stroke="#999" stroke-width="1.2"/>
<line x1="994.9" y1="2193.3" x2="1013.9" y2="2193.3" stroke="#999" stroke-width="1.2"/>
<path d="M1039.3 2082.7C1039.6 2084.7 1040.2 2089.6 1041.1 2094.6C1042 2099.6 1044.3 2107 1044.8 2112.4C1045.3 2117.8 1044 2122.1 1044.1 2127C1044.2 2131.9 1045.1 2137.5 1045.5 2142C1045.9 2146.5 1045.8 2149.5 1046.3 2154C1046.8 2158.5 1048.4 2164.8 1048.5 2168.8C1048.6 2172.8 1048.3 2174.3 1047.1 2177.8C1045.9 2181.3 1042.5 2186.8 1041.1 2189.6C1039.7 2192.4 1039 2193.9 1038.6 2194.8L1037.6 2194.8C1037.2 2193.9 1036.5 2192.4 1035.1 2189.6C1033.7 2186.8 1030.3 2181.3 1029.1 2177.8C1027.9 2174.3 1027.6 2172.8 1027.7 2168.8C1027.8 2164.8 1029.4 2158.5 1029.9 2154C1030.4 2149.5 1030.3 2146.5 1030.7 2142C1031.1 2137.5 1032 2131.9 1032.1 2127C1032.2 2122.1 1030.9 2117.8 1031.4 2112.4C1031.9 2107 1034.2 2099.6 1035.1 2094.6C1036 2089.6 1036.6 2084.7 1036.9 2082.7Z" fill="#f07028" stroke="#000" stroke-width="1.3"/>
<line x1="1032.1" y1="2126.5" x2="1044.1" y2="2126.5" stroke="#8a3a10" stroke-width="1.2"/>
<line x1="1029.9" y1="2154.7" x2="1046.3" y2="2154.7" stroke="#8a3a10" stroke-width="1.2"/>
<line x1="1028.1" y1="2172.5" x2="1048.1" y2="2172.5" stroke="#8a3a10" stroke-width="1.2"/>
</svg></body></html>
